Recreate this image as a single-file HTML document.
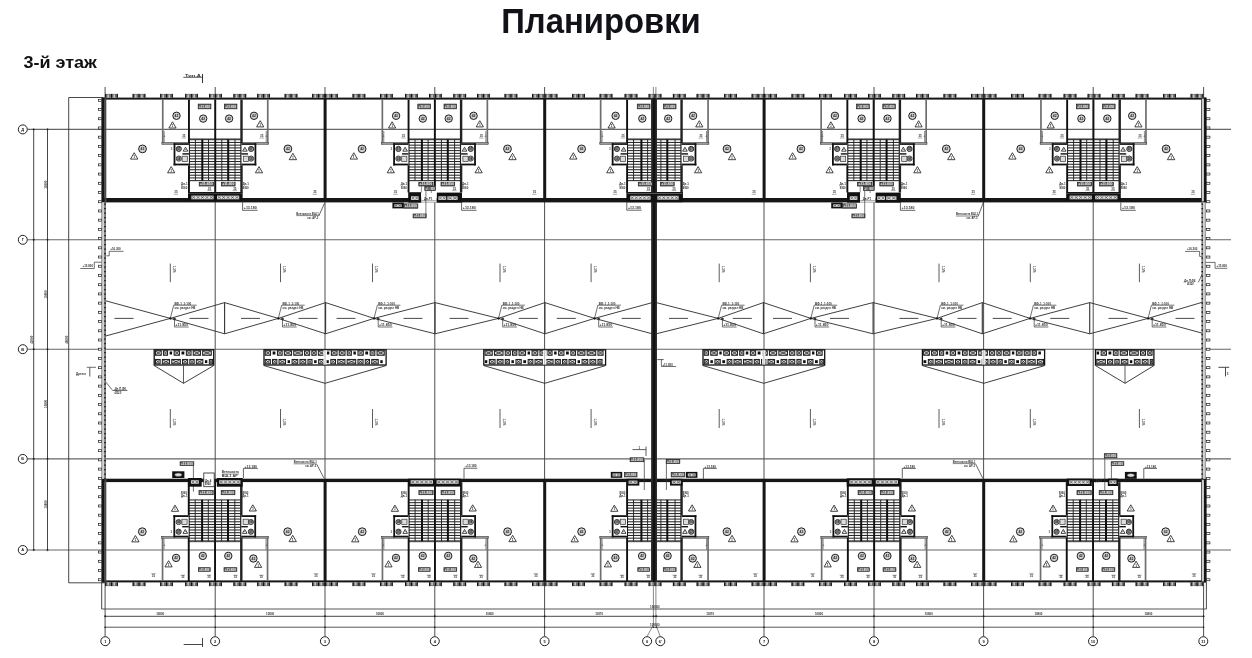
<!DOCTYPE html>
<html><head><meta charset="utf-8"><title>Планировки</title>
<style>
html,body{margin:0;padding:0;background:#fff;}
body{width:1252px;height:658px;overflow:hidden;position:relative;font-family:"Liberation Sans",sans-serif;}
svg{position:absolute;left:0;top:0;will-change:transform;}
svg text{font-family:"Liberation Sans",sans-serif;}
</style></head>
<body>
<svg width="1252" height="658" viewBox="0 0 1252 658">
<rect x="0" y="0" width="1252" height="658" fill="#fff"/>
<text x="501.2" y="33.2" font-size="35" font-weight="bold" fill="#111118" textLength="199.6" lengthAdjust="spacingAndGlyphs">Планировки</text>
<text x="23.4" y="67.8" font-size="16.6" font-weight="bold" fill="#111" textLength="73.4" lengthAdjust="spacingAndGlyphs">3-й этаж</text>
<g id="grid">
<line x1="27.6" y1="129.4" x2="1231" y2="129.4" stroke="#666" stroke-width="1.1"/>
<line x1="27.6" y1="239.8" x2="1231" y2="239.8" stroke="#666" stroke-width="1.1"/>
<line x1="27.6" y1="349.2" x2="1231" y2="349.2" stroke="#666" stroke-width="1.1"/>
<line x1="27.6" y1="458.9" x2="1231" y2="458.9" stroke="#666" stroke-width="1.1"/>
<line x1="27.6" y1="550" x2="1231" y2="550" stroke="#666" stroke-width="1.1"/>
<line x1="105.1" y1="87" x2="105.1" y2="636.4" stroke="#4e4e4e" stroke-width="1"/>
<line x1="215.2" y1="87" x2="215.2" y2="636.4" stroke="#4e4e4e" stroke-width="1"/>
<line x1="325" y1="87" x2="325" y2="636.4" stroke="#4e4e4e" stroke-width="1"/>
<line x1="434.8" y1="87" x2="434.8" y2="636.4" stroke="#4e4e4e" stroke-width="1"/>
<line x1="544.6" y1="87" x2="544.6" y2="636.4" stroke="#4e4e4e" stroke-width="1"/>
<line x1="764" y1="87" x2="764" y2="636.4" stroke="#4e4e4e" stroke-width="1"/>
<line x1="874" y1="87" x2="874" y2="636.4" stroke="#4e4e4e" stroke-width="1"/>
<line x1="983.6" y1="87" x2="983.6" y2="636.4" stroke="#4e4e4e" stroke-width="1"/>
<line x1="1093.2" y1="87" x2="1093.2" y2="636.4" stroke="#4e4e4e" stroke-width="1"/>
<line x1="1203.6" y1="87" x2="1203.6" y2="636.4" stroke="#4e4e4e" stroke-width="1"/>
<line x1="653.4" y1="87" x2="653.4" y2="625" stroke="#6a6a6a" stroke-width="0.8"/>
<line x1="655.9" y1="87" x2="655.9" y2="625" stroke="#6a6a6a" stroke-width="0.8"/>
<polyline points="653.4,625 647.1,636.4" fill="none" stroke="#6a6a6a" stroke-width="0.8"/>
<polyline points="655.9,625 660.3,636.4" fill="none" stroke="#6a6a6a" stroke-width="0.8"/>
<circle cx="105.3" cy="641.2" r="4.5" fill="#fff" stroke="#222" stroke-width="1"/>
<text x="105.3" y="642.64" font-size="4" text-anchor="middle" font-weight="bold" fill="#222">1</text>
<circle cx="215.1" cy="641.2" r="4.5" fill="#fff" stroke="#222" stroke-width="1"/>
<text x="215.1" y="642.64" font-size="4" text-anchor="middle" font-weight="bold" fill="#222">2</text>
<circle cx="324.9" cy="641.2" r="4.5" fill="#fff" stroke="#222" stroke-width="1"/>
<text x="324.9" y="642.64" font-size="4" text-anchor="middle" font-weight="bold" fill="#222">3</text>
<circle cx="434.8" cy="641.2" r="4.5" fill="#fff" stroke="#222" stroke-width="1"/>
<text x="434.8" y="642.64" font-size="4" text-anchor="middle" font-weight="bold" fill="#222">4</text>
<circle cx="544.6" cy="641.2" r="4.5" fill="#fff" stroke="#222" stroke-width="1"/>
<text x="544.6" y="642.64" font-size="4" text-anchor="middle" font-weight="bold" fill="#222">5</text>
<circle cx="647.1" cy="641.2" r="4.5" fill="#fff" stroke="#222" stroke-width="1"/>
<text x="647.1" y="642.64" font-size="4" text-anchor="middle" font-weight="bold" fill="#222">6</text>
<circle cx="660.3" cy="641.2" r="4.5" fill="#fff" stroke="#222" stroke-width="1"/>
<text x="660.3" y="642.64" font-size="4" text-anchor="middle" font-weight="bold" fill="#222">6'</text>
<circle cx="764" cy="641.2" r="4.5" fill="#fff" stroke="#222" stroke-width="1"/>
<text x="764" y="642.64" font-size="4" text-anchor="middle" font-weight="bold" fill="#222">7</text>
<circle cx="874" cy="641.2" r="4.5" fill="#fff" stroke="#222" stroke-width="1"/>
<text x="874" y="642.64" font-size="4" text-anchor="middle" font-weight="bold" fill="#222">8</text>
<circle cx="983.5" cy="641.2" r="4.5" fill="#fff" stroke="#222" stroke-width="1"/>
<text x="983.5" y="642.64" font-size="4" text-anchor="middle" font-weight="bold" fill="#222">9</text>
<circle cx="1093" cy="641.2" r="4.5" fill="#fff" stroke="#222" stroke-width="1"/>
<text x="1093" y="642.64" font-size="4" text-anchor="middle" font-weight="bold" fill="#222">10</text>
<circle cx="1203.3" cy="641.2" r="4.5" fill="#fff" stroke="#222" stroke-width="1"/>
<text x="1203.3" y="642.64" font-size="4" text-anchor="middle" font-weight="bold" fill="#222">11</text>
<circle cx="22.8" cy="129.4" r="4.5" fill="#fff" stroke="#222" stroke-width="1"/>
<text x="22.8" y="130.84" font-size="4" text-anchor="middle" font-weight="bold" fill="#222">Д</text>
<circle cx="22.8" cy="239.8" r="4.5" fill="#fff" stroke="#222" stroke-width="1"/>
<text x="22.8" y="241.24" font-size="4" text-anchor="middle" font-weight="bold" fill="#222">Г</text>
<circle cx="22.8" cy="349.2" r="4.5" fill="#fff" stroke="#222" stroke-width="1"/>
<text x="22.8" y="350.64" font-size="4" text-anchor="middle" font-weight="bold" fill="#222">В</text>
<circle cx="22.8" cy="458.9" r="4.5" fill="#fff" stroke="#222" stroke-width="1"/>
<text x="22.8" y="460.34" font-size="4" text-anchor="middle" font-weight="bold" fill="#222">Б</text>
<circle cx="22.8" cy="550" r="4.5" fill="#fff" stroke="#222" stroke-width="1"/>
<text x="22.8" y="551.44" font-size="4" text-anchor="middle" font-weight="bold" fill="#222">А</text>
<line x1="33.7" y1="129.5" x2="33.7" y2="550" stroke="#333" stroke-width="0.9"/>
<line x1="47.5" y1="129.5" x2="47.5" y2="550" stroke="#333" stroke-width="0.9"/>
<line x1="68.7" y1="97.5" x2="68.7" y2="582.8" stroke="#333" stroke-width="0.9"/>
<line x1="68.7" y1="97.5" x2="103" y2="97.5" stroke="#333" stroke-width="0.9"/>
<line x1="68.7" y1="582.8" x2="104.7" y2="582.8" stroke="#333" stroke-width="0.9"/>
<circle cx="33.7" cy="129.4" r="0.7" fill="#222" stroke="#222" stroke-width="0.6"/>
<circle cx="47.5" cy="129.4" r="0.7" fill="#222" stroke="#222" stroke-width="0.6"/>
<circle cx="33.7" cy="239.8" r="0.7" fill="#222" stroke="#222" stroke-width="0.6"/>
<circle cx="47.5" cy="239.8" r="0.7" fill="#222" stroke="#222" stroke-width="0.6"/>
<circle cx="33.7" cy="349.2" r="0.7" fill="#222" stroke="#222" stroke-width="0.6"/>
<circle cx="47.5" cy="349.2" r="0.7" fill="#222" stroke="#222" stroke-width="0.6"/>
<circle cx="33.7" cy="458.9" r="0.7" fill="#222" stroke="#222" stroke-width="0.6"/>
<circle cx="47.5" cy="458.9" r="0.7" fill="#222" stroke="#222" stroke-width="0.6"/>
<circle cx="33.7" cy="550" r="0.7" fill="#222" stroke="#222" stroke-width="0.6"/>
<circle cx="47.5" cy="550" r="0.7" fill="#222" stroke="#222" stroke-width="0.6"/>
<text x="46.6" y="184.7" font-size="2.9" text-anchor="middle" font-weight="bold" fill="#333" transform="rotate(-90 46.6 184.7)">10800</text>
<text x="46.6" y="294.45" font-size="2.9" text-anchor="middle" font-weight="bold" fill="#333" transform="rotate(-90 46.6 294.45)">10800</text>
<text x="46.6" y="403.9" font-size="2.9" text-anchor="middle" font-weight="bold" fill="#333" transform="rotate(-90 46.6 403.9)">10800</text>
<text x="46.6" y="504.4" font-size="2.9" text-anchor="middle" font-weight="bold" fill="#333" transform="rotate(-90 46.6 504.4)">10800</text>
<text x="32.8" y="339.7" font-size="2.9" text-anchor="middle" font-weight="bold" fill="#333" transform="rotate(-90 32.8 339.7)">42000</text>
<text x="67.8" y="339.7" font-size="2.9" text-anchor="middle" font-weight="bold" fill="#333" transform="rotate(-90 67.8 339.7)">48600</text>
<line x1="101.7" y1="582.3" x2="101.7" y2="609" stroke="#333" stroke-width="0.9"/>
<line x1="101.7" y1="609" x2="1206.4" y2="609" stroke="#444" stroke-width="0.9"/>
<line x1="1206.4" y1="582.3" x2="1206.4" y2="609" stroke="#333" stroke-width="0.9"/>
<line x1="105.1" y1="616.3" x2="1203.6" y2="616.3" stroke="#333" stroke-width="0.9"/>
<line x1="105.1" y1="627.2" x2="1203.6" y2="627.2" stroke="#444" stroke-width="0.9"/>
<circle cx="105.1" cy="616.3" r="0.7" fill="#222" stroke="#222" stroke-width="0.6"/>
<circle cx="105.1" cy="627.2" r="0.5" fill="#222" stroke="#222" stroke-width="0.6"/>
<circle cx="215.2" cy="616.3" r="0.7" fill="#222" stroke="#222" stroke-width="0.6"/>
<circle cx="215.2" cy="627.2" r="0.5" fill="#222" stroke="#222" stroke-width="0.6"/>
<circle cx="325" cy="616.3" r="0.7" fill="#222" stroke="#222" stroke-width="0.6"/>
<circle cx="325" cy="627.2" r="0.5" fill="#222" stroke="#222" stroke-width="0.6"/>
<circle cx="434.8" cy="616.3" r="0.7" fill="#222" stroke="#222" stroke-width="0.6"/>
<circle cx="434.8" cy="627.2" r="0.5" fill="#222" stroke="#222" stroke-width="0.6"/>
<circle cx="544.6" cy="616.3" r="0.7" fill="#222" stroke="#222" stroke-width="0.6"/>
<circle cx="544.6" cy="627.2" r="0.5" fill="#222" stroke="#222" stroke-width="0.6"/>
<circle cx="653.6" cy="616.3" r="0.7" fill="#222" stroke="#222" stroke-width="0.6"/>
<circle cx="653.6" cy="627.2" r="0.5" fill="#222" stroke="#222" stroke-width="0.6"/>
<circle cx="656.2" cy="616.3" r="0.7" fill="#222" stroke="#222" stroke-width="0.6"/>
<circle cx="656.2" cy="627.2" r="0.5" fill="#222" stroke="#222" stroke-width="0.6"/>
<circle cx="764" cy="616.3" r="0.7" fill="#222" stroke="#222" stroke-width="0.6"/>
<circle cx="764" cy="627.2" r="0.5" fill="#222" stroke="#222" stroke-width="0.6"/>
<circle cx="874" cy="616.3" r="0.7" fill="#222" stroke="#222" stroke-width="0.6"/>
<circle cx="874" cy="627.2" r="0.5" fill="#222" stroke="#222" stroke-width="0.6"/>
<circle cx="983.6" cy="616.3" r="0.7" fill="#222" stroke="#222" stroke-width="0.6"/>
<circle cx="983.6" cy="627.2" r="0.5" fill="#222" stroke="#222" stroke-width="0.6"/>
<circle cx="1093.2" cy="616.3" r="0.7" fill="#222" stroke="#222" stroke-width="0.6"/>
<circle cx="1093.2" cy="627.2" r="0.5" fill="#222" stroke="#222" stroke-width="0.6"/>
<circle cx="1203.6" cy="616.3" r="0.7" fill="#222" stroke="#222" stroke-width="0.6"/>
<circle cx="1203.6" cy="627.2" r="0.5" fill="#222" stroke="#222" stroke-width="0.6"/>
<text x="160.15" y="615.3" font-size="2.9" text-anchor="middle" font-weight="bold" fill="#333">10800</text>
<text x="270.1" y="615.3" font-size="2.9" text-anchor="middle" font-weight="bold" fill="#333">10800</text>
<text x="379.9" y="615.3" font-size="2.9" text-anchor="middle" font-weight="bold" fill="#333">10800</text>
<text x="489.7" y="615.3" font-size="2.9" text-anchor="middle" font-weight="bold" fill="#333">10800</text>
<text x="599.1" y="615.3" font-size="2.9" text-anchor="middle" font-weight="bold" fill="#333">11870</text>
<text x="710.1" y="615.3" font-size="2.9" text-anchor="middle" font-weight="bold" fill="#333">11870</text>
<text x="819" y="615.3" font-size="2.9" text-anchor="middle" font-weight="bold" fill="#333">10800</text>
<text x="928.8" y="615.3" font-size="2.9" text-anchor="middle" font-weight="bold" fill="#333">10800</text>
<text x="1038.4" y="615.3" font-size="2.9" text-anchor="middle" font-weight="bold" fill="#333">10800</text>
<text x="1148.4" y="615.3" font-size="2.9" text-anchor="middle" font-weight="bold" fill="#333">10800</text>
<text x="654.9" y="608" font-size="2.9" text-anchor="middle" font-weight="bold" fill="#333">108000</text>
<text x="654.9" y="626.2" font-size="2.9" text-anchor="middle" font-weight="bold" fill="#333">108000</text>
<line x1="183.3" y1="77.3" x2="202.5" y2="77.3" stroke="#333" stroke-width="0.8"/>
<line x1="202.5" y1="74" x2="202.5" y2="83" stroke="#333" stroke-width="1"/>
<text x="184.9" y="76.6" font-size="3.2" text-anchor="start" font-weight="bold" fill="#333" textLength="16" lengthAdjust="spacingAndGlyphs">Тип.А</text>
<line x1="183.7" y1="644.5" x2="202.5" y2="644.5" stroke="#333" stroke-width="0.9"/>
<line x1="202.5" y1="638" x2="202.5" y2="647" stroke="#333" stroke-width="0.9"/>
</g>
<g id="roof">
<polyline points="105.7,300.8 170.3,318.4 224.6,333.8" fill="none" stroke="#2a2a2a" stroke-width="0.9"/>
<polyline points="105.7,336 170.3,318.4 224.6,302.6" fill="none" stroke="#2a2a2a" stroke-width="0.9"/>
<polyline points="224.6,302.6 278.3,318.4 325.6,333.8" fill="none" stroke="#2a2a2a" stroke-width="0.9"/>
<polyline points="224.6,333.8 278.3,318.4 325.6,302.6" fill="none" stroke="#2a2a2a" stroke-width="0.9"/>
<polyline points="325.6,302.6 374,318.4 435,333.8" fill="none" stroke="#2a2a2a" stroke-width="0.9"/>
<polyline points="325.6,333.8 374,318.4 435,302.6" fill="none" stroke="#2a2a2a" stroke-width="0.9"/>
<polyline points="435,302.6 498.5,318.4 544.9,333.8" fill="none" stroke="#2a2a2a" stroke-width="0.9"/>
<polyline points="435,333.8 498.5,318.4 544.9,302.6" fill="none" stroke="#2a2a2a" stroke-width="0.9"/>
<polyline points="544.9,302.6 594.5,318.4 652.3,333.8" fill="none" stroke="#2a2a2a" stroke-width="0.9"/>
<polyline points="544.9,333.8 594.5,318.4 652.3,302.6" fill="none" stroke="#2a2a2a" stroke-width="0.9"/>
<polyline points="656.2,302.6 718.2,318.4 763.4,333.8" fill="none" stroke="#2a2a2a" stroke-width="0.9"/>
<polyline points="656.2,333.8 718.2,318.4 763.4,302.6" fill="none" stroke="#2a2a2a" stroke-width="0.9"/>
<polyline points="763.4,302.6 810.8,318.4 873.1,333.8" fill="none" stroke="#2a2a2a" stroke-width="0.9"/>
<polyline points="763.4,333.8 810.8,318.4 873.1,302.6" fill="none" stroke="#2a2a2a" stroke-width="0.9"/>
<polyline points="873.1,302.6 937,318.4 982.3,333.8" fill="none" stroke="#2a2a2a" stroke-width="0.9"/>
<polyline points="873.1,333.8 937,318.4 982.3,302.6" fill="none" stroke="#2a2a2a" stroke-width="0.9"/>
<polyline points="982.3,302.6 1030,318.4 1089.7,333.8" fill="none" stroke="#2a2a2a" stroke-width="0.9"/>
<polyline points="982.3,333.8 1030,318.4 1089.7,302.6" fill="none" stroke="#2a2a2a" stroke-width="0.9"/>
<polyline points="1089.7,302.6 1148,318.4 1203.8,333.6" fill="none" stroke="#2a2a2a" stroke-width="0.9"/>
<polyline points="1089.7,333.8 1148,318.4 1203.8,301.8" fill="none" stroke="#2a2a2a" stroke-width="0.9"/>
<line x1="224.6" y1="302.6" x2="224.6" y2="333.8" stroke="#333" stroke-width="1.1"/>
<line x1="325.6" y1="302.6" x2="325.6" y2="333.8" stroke="#333" stroke-width="1.1"/>
<line x1="435" y1="302.6" x2="435" y2="333.8" stroke="#333" stroke-width="1.1"/>
<line x1="544.9" y1="302.6" x2="544.9" y2="333.8" stroke="#333" stroke-width="1.1"/>
<line x1="763.4" y1="302.6" x2="763.4" y2="333.8" stroke="#333" stroke-width="1.1"/>
<line x1="873.1" y1="302.6" x2="873.1" y2="333.8" stroke="#333" stroke-width="1.1"/>
<line x1="982.3" y1="302.6" x2="982.3" y2="333.8" stroke="#333" stroke-width="1.1"/>
<line x1="1089.7" y1="302.6" x2="1089.7" y2="333.8" stroke="#333" stroke-width="1.1"/>
<line x1="114.5" y1="318.4" x2="133.5" y2="318.4" stroke="#333" stroke-width="0.9"/>
<line x1="189.5" y1="318.4" x2="208.5" y2="318.4" stroke="#333" stroke-width="0.9"/>
<line x1="241" y1="318.4" x2="260" y2="318.4" stroke="#333" stroke-width="0.9"/>
<line x1="298.5" y1="318.4" x2="317.5" y2="318.4" stroke="#333" stroke-width="0.9"/>
<line x1="336.5" y1="318.4" x2="355.5" y2="318.4" stroke="#333" stroke-width="0.9"/>
<line x1="403.5" y1="318.4" x2="422.5" y2="318.4" stroke="#333" stroke-width="0.9"/>
<line x1="449.5" y1="318.4" x2="468.5" y2="318.4" stroke="#333" stroke-width="0.9"/>
<line x1="518.8" y1="318.4" x2="537.8" y2="318.4" stroke="#333" stroke-width="0.9"/>
<line x1="556.8" y1="318.4" x2="575.8" y2="318.4" stroke="#333" stroke-width="0.9"/>
<line x1="621.7" y1="318.4" x2="640.7" y2="318.4" stroke="#333" stroke-width="0.9"/>
<line x1="669" y1="318.4" x2="688" y2="318.4" stroke="#333" stroke-width="0.9"/>
<line x1="732.8" y1="318.4" x2="751.8" y2="318.4" stroke="#333" stroke-width="0.9"/>
<line x1="773" y1="318.4" x2="792" y2="318.4" stroke="#333" stroke-width="0.9"/>
<line x1="830" y1="318.4" x2="849" y2="318.4" stroke="#333" stroke-width="0.9"/>
<line x1="899.4" y1="318.4" x2="918.4" y2="318.4" stroke="#333" stroke-width="0.9"/>
<line x1="957.5" y1="318.4" x2="976.5" y2="318.4" stroke="#333" stroke-width="0.9"/>
<line x1="992.7" y1="318.4" x2="1011.7" y2="318.4" stroke="#333" stroke-width="0.9"/>
<line x1="1050.3" y1="318.4" x2="1069.3" y2="318.4" stroke="#333" stroke-width="0.9"/>
<line x1="1108.5" y1="318.4" x2="1127.5" y2="318.4" stroke="#333" stroke-width="0.9"/>
<line x1="1175.5" y1="318.4" x2="1194.5" y2="318.4" stroke="#333" stroke-width="0.9"/>
<circle cx="170.3" cy="318.4" r="0.9" fill="#111" stroke="#111" stroke-width="0.6"/>
<polyline points="170.3,318.4 173.7,305.2 196.7,305.2" fill="none" stroke="#333" stroke-width="0.7"/>
<text x="174.5" y="304.6" font-size="3" text-anchor="start" font-weight="bold" fill="#333" textLength="16.8" lengthAdjust="spacingAndGlyphs">ВФ-1 ,1:100</text>
<text x="174.5" y="308.9" font-size="3" text-anchor="start" font-weight="bold" fill="#333" textLength="21" lengthAdjust="spacingAndGlyphs">см. раздел НВ</text>
<circle cx="174.5" cy="318.9" r="1.1" fill="#333" stroke="#333" stroke-width="0.5"/>
<polyline points="174.5,318.9 174.5,327 188.7,327" fill="none" stroke="#333" stroke-width="0.7"/>
<text x="175.3" y="326.4" font-size="3" text-anchor="start" font-weight="bold" fill="#333" textLength="12.8" lengthAdjust="spacingAndGlyphs">+11.850</text>
<circle cx="278.3" cy="318.4" r="0.9" fill="#111" stroke="#111" stroke-width="0.6"/>
<polyline points="278.3,318.4 281.7,305.2 304.7,305.2" fill="none" stroke="#333" stroke-width="0.7"/>
<text x="282.5" y="304.6" font-size="3" text-anchor="start" font-weight="bold" fill="#333" textLength="16.8" lengthAdjust="spacingAndGlyphs">ВФ-1 ,1:100</text>
<text x="282.5" y="308.9" font-size="3" text-anchor="start" font-weight="bold" fill="#333" textLength="21" lengthAdjust="spacingAndGlyphs">см. раздел НВ</text>
<circle cx="282.5" cy="318.9" r="1.1" fill="#333" stroke="#333" stroke-width="0.5"/>
<polyline points="282.5,318.9 282.5,327 296.7,327" fill="none" stroke="#333" stroke-width="0.7"/>
<text x="283.3" y="326.4" font-size="3" text-anchor="start" font-weight="bold" fill="#333" textLength="12.8" lengthAdjust="spacingAndGlyphs">+11.850</text>
<circle cx="374" cy="318.4" r="0.9" fill="#111" stroke="#111" stroke-width="0.6"/>
<polyline points="374,318.4 377.4,305.2 400.4,305.2" fill="none" stroke="#333" stroke-width="0.7"/>
<text x="378.2" y="304.6" font-size="3" text-anchor="start" font-weight="bold" fill="#333" textLength="16.8" lengthAdjust="spacingAndGlyphs">ВФ-1 ,1:100</text>
<text x="378.2" y="308.9" font-size="3" text-anchor="start" font-weight="bold" fill="#333" textLength="21" lengthAdjust="spacingAndGlyphs">см. раздел НВ</text>
<circle cx="378.2" cy="318.9" r="1.1" fill="#333" stroke="#333" stroke-width="0.5"/>
<polyline points="378.2,318.9 378.2,327 392.4,327" fill="none" stroke="#333" stroke-width="0.7"/>
<text x="379" y="326.4" font-size="3" text-anchor="start" font-weight="bold" fill="#333" textLength="12.8" lengthAdjust="spacingAndGlyphs">+11.850</text>
<circle cx="498.5" cy="318.4" r="0.9" fill="#111" stroke="#111" stroke-width="0.6"/>
<polyline points="498.5,318.4 501.9,305.2 524.9,305.2" fill="none" stroke="#333" stroke-width="0.7"/>
<text x="502.7" y="304.6" font-size="3" text-anchor="start" font-weight="bold" fill="#333" textLength="16.8" lengthAdjust="spacingAndGlyphs">ВФ-1 ,1:100</text>
<text x="502.7" y="308.9" font-size="3" text-anchor="start" font-weight="bold" fill="#333" textLength="21" lengthAdjust="spacingAndGlyphs">см. раздел НВ</text>
<circle cx="502.7" cy="318.9" r="1.1" fill="#333" stroke="#333" stroke-width="0.5"/>
<polyline points="502.7,318.9 502.7,327 516.9,327" fill="none" stroke="#333" stroke-width="0.7"/>
<text x="503.5" y="326.4" font-size="3" text-anchor="start" font-weight="bold" fill="#333" textLength="12.8" lengthAdjust="spacingAndGlyphs">+11.850</text>
<circle cx="594.5" cy="318.4" r="0.9" fill="#111" stroke="#111" stroke-width="0.6"/>
<polyline points="594.5,318.4 597.9,305.2 620.9,305.2" fill="none" stroke="#333" stroke-width="0.7"/>
<text x="598.7" y="304.6" font-size="3" text-anchor="start" font-weight="bold" fill="#333" textLength="16.8" lengthAdjust="spacingAndGlyphs">ВФ-1 ,1:100</text>
<text x="598.7" y="308.9" font-size="3" text-anchor="start" font-weight="bold" fill="#333" textLength="21" lengthAdjust="spacingAndGlyphs">см. раздел НВ</text>
<circle cx="598.7" cy="318.9" r="1.1" fill="#333" stroke="#333" stroke-width="0.5"/>
<polyline points="598.7,318.9 598.7,327 612.9,327" fill="none" stroke="#333" stroke-width="0.7"/>
<text x="599.5" y="326.4" font-size="3" text-anchor="start" font-weight="bold" fill="#333" textLength="12.8" lengthAdjust="spacingAndGlyphs">+11.850</text>
<circle cx="718.2" cy="318.4" r="0.9" fill="#111" stroke="#111" stroke-width="0.6"/>
<polyline points="718.2,318.4 721.6,305.2 744.6,305.2" fill="none" stroke="#333" stroke-width="0.7"/>
<text x="722.4" y="304.6" font-size="3" text-anchor="start" font-weight="bold" fill="#333" textLength="16.8" lengthAdjust="spacingAndGlyphs">ВФ-1 ,1:100</text>
<text x="722.4" y="308.9" font-size="3" text-anchor="start" font-weight="bold" fill="#333" textLength="21" lengthAdjust="spacingAndGlyphs">см. раздел НВ</text>
<circle cx="722.4" cy="318.9" r="1.1" fill="#333" stroke="#333" stroke-width="0.5"/>
<polyline points="722.4,318.9 722.4,327 736.6,327" fill="none" stroke="#333" stroke-width="0.7"/>
<text x="723.2" y="326.4" font-size="3" text-anchor="start" font-weight="bold" fill="#333" textLength="12.8" lengthAdjust="spacingAndGlyphs">+11.850</text>
<circle cx="810.8" cy="318.4" r="0.9" fill="#111" stroke="#111" stroke-width="0.6"/>
<polyline points="810.8,318.4 814.2,305.2 837.2,305.2" fill="none" stroke="#333" stroke-width="0.7"/>
<text x="815" y="304.6" font-size="3" text-anchor="start" font-weight="bold" fill="#333" textLength="16.8" lengthAdjust="spacingAndGlyphs">ВФ-1 ,1:100</text>
<text x="815" y="308.9" font-size="3" text-anchor="start" font-weight="bold" fill="#333" textLength="21" lengthAdjust="spacingAndGlyphs">см. раздел НВ</text>
<circle cx="815" cy="318.9" r="1.1" fill="#333" stroke="#333" stroke-width="0.5"/>
<polyline points="815,318.9 815,327 829.2,327" fill="none" stroke="#333" stroke-width="0.7"/>
<text x="815.8" y="326.4" font-size="3" text-anchor="start" font-weight="bold" fill="#333" textLength="12.8" lengthAdjust="spacingAndGlyphs">+11.850</text>
<circle cx="937" cy="318.4" r="0.9" fill="#111" stroke="#111" stroke-width="0.6"/>
<polyline points="937,318.4 940.4,305.2 963.4,305.2" fill="none" stroke="#333" stroke-width="0.7"/>
<text x="941.2" y="304.6" font-size="3" text-anchor="start" font-weight="bold" fill="#333" textLength="16.8" lengthAdjust="spacingAndGlyphs">ВФ-1 ,1:100</text>
<text x="941.2" y="308.9" font-size="3" text-anchor="start" font-weight="bold" fill="#333" textLength="21" lengthAdjust="spacingAndGlyphs">см. раздел НВ</text>
<circle cx="941.2" cy="318.9" r="1.1" fill="#333" stroke="#333" stroke-width="0.5"/>
<polyline points="941.2,318.9 941.2,327 955.4,327" fill="none" stroke="#333" stroke-width="0.7"/>
<text x="942" y="326.4" font-size="3" text-anchor="start" font-weight="bold" fill="#333" textLength="12.8" lengthAdjust="spacingAndGlyphs">+11.850</text>
<circle cx="1030" cy="318.4" r="0.9" fill="#111" stroke="#111" stroke-width="0.6"/>
<polyline points="1030,318.4 1033.4,305.2 1056.4,305.2" fill="none" stroke="#333" stroke-width="0.7"/>
<text x="1034.2" y="304.6" font-size="3" text-anchor="start" font-weight="bold" fill="#333" textLength="16.8" lengthAdjust="spacingAndGlyphs">ВФ-1 ,1:100</text>
<text x="1034.2" y="308.9" font-size="3" text-anchor="start" font-weight="bold" fill="#333" textLength="21" lengthAdjust="spacingAndGlyphs">см. раздел НВ</text>
<circle cx="1034.2" cy="318.9" r="1.1" fill="#333" stroke="#333" stroke-width="0.5"/>
<polyline points="1034.2,318.9 1034.2,327 1048.4,327" fill="none" stroke="#333" stroke-width="0.7"/>
<text x="1035" y="326.4" font-size="3" text-anchor="start" font-weight="bold" fill="#333" textLength="12.8" lengthAdjust="spacingAndGlyphs">+11.850</text>
<circle cx="1148" cy="318.4" r="0.9" fill="#111" stroke="#111" stroke-width="0.6"/>
<polyline points="1148,318.4 1151.4,305.2 1174.4,305.2" fill="none" stroke="#333" stroke-width="0.7"/>
<text x="1152.2" y="304.6" font-size="3" text-anchor="start" font-weight="bold" fill="#333" textLength="16.8" lengthAdjust="spacingAndGlyphs">ВФ-1 ,1:100</text>
<text x="1152.2" y="308.9" font-size="3" text-anchor="start" font-weight="bold" fill="#333" textLength="21" lengthAdjust="spacingAndGlyphs">см. раздел НВ</text>
<circle cx="1152.2" cy="318.9" r="1.1" fill="#333" stroke="#333" stroke-width="0.5"/>
<polyline points="1152.2,318.9 1152.2,327 1166.4,327" fill="none" stroke="#333" stroke-width="0.7"/>
<text x="1153" y="326.4" font-size="3" text-anchor="start" font-weight="bold" fill="#333" textLength="12.8" lengthAdjust="spacingAndGlyphs">+11.850</text>
</g>
<g id="sky">
<rect x="154.2" y="349.8" width="59.5" height="15.2" fill="#fff" stroke="#111" stroke-width="1.3"/>
<rect x="155.45" y="350.75" width="5.8" height="4.5" fill="#dcdcdc" stroke="#1a1a1a" stroke-width="1"/>
<line x1="155.9" y1="351.2" x2="160.8" y2="354.8" stroke="#2a2a2a" stroke-width="0.8"/>
<line x1="155.9" y1="354.8" x2="160.8" y2="351.2" stroke="#2a2a2a" stroke-width="0.8"/>
<rect x="163.45" y="350.75" width="4.1" height="4.5" fill="#dcdcdc" stroke="#1a1a1a" stroke-width="1"/>
<line x1="163.9" y1="351.2" x2="167.1" y2="354.8" stroke="#2a2a2a" stroke-width="0.8"/>
<line x1="163.9" y1="354.8" x2="167.1" y2="351.2" stroke="#2a2a2a" stroke-width="0.8"/>
<rect x="169.6" y="351.5" width="2.5" height="3" fill="#111"/>
<rect x="174.15" y="350.75" width="5.3" height="4.5" fill="#dcdcdc" stroke="#1a1a1a" stroke-width="1"/>
<line x1="174.6" y1="351.2" x2="179" y2="354.8" stroke="#2a2a2a" stroke-width="0.8"/>
<line x1="174.6" y1="354.8" x2="179" y2="351.2" stroke="#2a2a2a" stroke-width="0.8"/>
<rect x="181.5" y="351.5" width="2.8" height="3" fill="#111"/>
<rect x="186.35" y="350.75" width="4.7" height="4.5" fill="#dcdcdc" stroke="#1a1a1a" stroke-width="1"/>
<line x1="186.8" y1="351.2" x2="190.6" y2="354.8" stroke="#2a2a2a" stroke-width="0.8"/>
<line x1="186.8" y1="354.8" x2="190.6" y2="351.2" stroke="#2a2a2a" stroke-width="0.8"/>
<rect x="193.25" y="350.75" width="7.2" height="4.5" fill="#dcdcdc" stroke="#1a1a1a" stroke-width="1"/>
<line x1="193.7" y1="351.2" x2="200" y2="354.8" stroke="#2a2a2a" stroke-width="0.8"/>
<line x1="193.7" y1="354.8" x2="200" y2="351.2" stroke="#2a2a2a" stroke-width="0.8"/>
<rect x="202.65" y="350.75" width="8.6" height="4.5" fill="#dcdcdc" stroke="#1a1a1a" stroke-width="1"/>
<line x1="203.1" y1="351.2" x2="210.8" y2="354.8" stroke="#2a2a2a" stroke-width="0.8"/>
<line x1="203.1" y1="354.8" x2="210.8" y2="351.2" stroke="#2a2a2a" stroke-width="0.8"/>
<rect x="155.45" y="359.45" width="4.7" height="4.4" fill="#dcdcdc" stroke="#1a1a1a" stroke-width="1"/>
<line x1="155.9" y1="359.9" x2="159.7" y2="363.4" stroke="#2a2a2a" stroke-width="0.8"/>
<line x1="155.9" y1="363.4" x2="159.7" y2="359.9" stroke="#2a2a2a" stroke-width="0.8"/>
<rect x="162.35" y="359.45" width="7.2" height="4.4" fill="#dcdcdc" stroke="#1a1a1a" stroke-width="1"/>
<line x1="162.8" y1="359.9" x2="169.1" y2="363.4" stroke="#2a2a2a" stroke-width="0.8"/>
<line x1="162.8" y1="363.4" x2="169.1" y2="359.9" stroke="#2a2a2a" stroke-width="0.8"/>
<rect x="171.75" y="359.45" width="8.6" height="4.4" fill="#dcdcdc" stroke="#1a1a1a" stroke-width="1"/>
<line x1="172.2" y1="359.9" x2="179.9" y2="363.4" stroke="#2a2a2a" stroke-width="0.8"/>
<line x1="172.2" y1="363.4" x2="179.9" y2="359.9" stroke="#2a2a2a" stroke-width="0.8"/>
<rect x="182.55" y="359.45" width="5.1" height="4.4" fill="#dcdcdc" stroke="#1a1a1a" stroke-width="1"/>
<line x1="183" y1="359.9" x2="187.2" y2="363.4" stroke="#2a2a2a" stroke-width="0.8"/>
<line x1="183" y1="363.4" x2="187.2" y2="359.9" stroke="#2a2a2a" stroke-width="0.8"/>
<rect x="189.85" y="359.45" width="4.3" height="4.4" fill="#dcdcdc" stroke="#1a1a1a" stroke-width="1"/>
<line x1="190.3" y1="359.9" x2="193.7" y2="363.4" stroke="#2a2a2a" stroke-width="0.8"/>
<line x1="190.3" y1="363.4" x2="193.7" y2="359.9" stroke="#2a2a2a" stroke-width="0.8"/>
<rect x="196.35" y="359.45" width="6.5" height="4.4" fill="#dcdcdc" stroke="#1a1a1a" stroke-width="1"/>
<line x1="196.8" y1="359.9" x2="202.4" y2="363.4" stroke="#2a2a2a" stroke-width="0.8"/>
<line x1="196.8" y1="363.4" x2="202.4" y2="359.9" stroke="#2a2a2a" stroke-width="0.8"/>
<rect x="204.9" y="360.2" width="2.4" height="2.9" fill="#111"/>
<rect x="209.35" y="359.45" width="3.3" height="4.4" fill="#dcdcdc" stroke="#1a1a1a" stroke-width="1"/>
<line x1="209.8" y1="359.9" x2="212.2" y2="363.4" stroke="#2a2a2a" stroke-width="0.8"/>
<line x1="209.8" y1="363.4" x2="212.2" y2="359.9" stroke="#2a2a2a" stroke-width="0.8"/>
<polyline points="154.2,365.6 183.5,383.3 213.7,365.6" fill="none" stroke="#2a2a2a" stroke-width="0.9"/>
<line x1="183.5" y1="365.6" x2="183.5" y2="383.3" stroke="#333" stroke-width="0.8"/>
<rect x="264" y="349.8" width="122.1" height="15.2" fill="#fff" stroke="#111" stroke-width="1.3"/>
<rect x="265.25" y="350.75" width="5.3" height="4.5" fill="#dcdcdc" stroke="#1a1a1a" stroke-width="1"/>
<line x1="265.7" y1="351.2" x2="270.1" y2="354.8" stroke="#2a2a2a" stroke-width="0.8"/>
<line x1="265.7" y1="354.8" x2="270.1" y2="351.2" stroke="#2a2a2a" stroke-width="0.8"/>
<rect x="272.6" y="351.5" width="2.8" height="3" fill="#111"/>
<rect x="277.45" y="350.75" width="4.7" height="4.5" fill="#dcdcdc" stroke="#1a1a1a" stroke-width="1"/>
<line x1="277.9" y1="351.2" x2="281.7" y2="354.8" stroke="#2a2a2a" stroke-width="0.8"/>
<line x1="277.9" y1="354.8" x2="281.7" y2="351.2" stroke="#2a2a2a" stroke-width="0.8"/>
<rect x="284.35" y="350.75" width="7.2" height="4.5" fill="#dcdcdc" stroke="#1a1a1a" stroke-width="1"/>
<line x1="284.8" y1="351.2" x2="291.1" y2="354.8" stroke="#2a2a2a" stroke-width="0.8"/>
<line x1="284.8" y1="354.8" x2="291.1" y2="351.2" stroke="#2a2a2a" stroke-width="0.8"/>
<rect x="293.75" y="350.75" width="8.6" height="4.5" fill="#dcdcdc" stroke="#1a1a1a" stroke-width="1"/>
<line x1="294.2" y1="351.2" x2="301.9" y2="354.8" stroke="#2a2a2a" stroke-width="0.8"/>
<line x1="294.2" y1="354.8" x2="301.9" y2="351.2" stroke="#2a2a2a" stroke-width="0.8"/>
<rect x="304.55" y="350.75" width="5.1" height="4.5" fill="#dcdcdc" stroke="#1a1a1a" stroke-width="1"/>
<line x1="305" y1="351.2" x2="309.2" y2="354.8" stroke="#2a2a2a" stroke-width="0.8"/>
<line x1="305" y1="354.8" x2="309.2" y2="351.2" stroke="#2a2a2a" stroke-width="0.8"/>
<rect x="311.85" y="350.75" width="4.3" height="4.5" fill="#dcdcdc" stroke="#1a1a1a" stroke-width="1"/>
<line x1="312.3" y1="351.2" x2="315.7" y2="354.8" stroke="#2a2a2a" stroke-width="0.8"/>
<line x1="312.3" y1="354.8" x2="315.7" y2="351.2" stroke="#2a2a2a" stroke-width="0.8"/>
<rect x="318.35" y="350.75" width="6.5" height="4.5" fill="#dcdcdc" stroke="#1a1a1a" stroke-width="1"/>
<line x1="318.8" y1="351.2" x2="324.4" y2="354.8" stroke="#2a2a2a" stroke-width="0.8"/>
<line x1="318.8" y1="354.8" x2="324.4" y2="351.2" stroke="#2a2a2a" stroke-width="0.8"/>
<rect x="326.9" y="351.5" width="2.4" height="3" fill="#111"/>
<rect x="331.35" y="350.75" width="5.7" height="4.5" fill="#dcdcdc" stroke="#1a1a1a" stroke-width="1"/>
<line x1="331.8" y1="351.2" x2="336.6" y2="354.8" stroke="#2a2a2a" stroke-width="0.8"/>
<line x1="331.8" y1="354.8" x2="336.6" y2="351.2" stroke="#2a2a2a" stroke-width="0.8"/>
<rect x="339.25" y="350.75" width="5.8" height="4.5" fill="#dcdcdc" stroke="#1a1a1a" stroke-width="1"/>
<line x1="339.7" y1="351.2" x2="344.6" y2="354.8" stroke="#2a2a2a" stroke-width="0.8"/>
<line x1="339.7" y1="354.8" x2="344.6" y2="351.2" stroke="#2a2a2a" stroke-width="0.8"/>
<rect x="347.25" y="350.75" width="4.1" height="4.5" fill="#dcdcdc" stroke="#1a1a1a" stroke-width="1"/>
<line x1="347.7" y1="351.2" x2="350.9" y2="354.8" stroke="#2a2a2a" stroke-width="0.8"/>
<line x1="347.7" y1="354.8" x2="350.9" y2="351.2" stroke="#2a2a2a" stroke-width="0.8"/>
<rect x="353.4" y="351.5" width="2.5" height="3" fill="#111"/>
<rect x="357.95" y="350.75" width="5.3" height="4.5" fill="#dcdcdc" stroke="#1a1a1a" stroke-width="1"/>
<line x1="358.4" y1="351.2" x2="362.8" y2="354.8" stroke="#2a2a2a" stroke-width="0.8"/>
<line x1="358.4" y1="354.8" x2="362.8" y2="351.2" stroke="#2a2a2a" stroke-width="0.8"/>
<rect x="365.3" y="351.5" width="2.8" height="3" fill="#111"/>
<rect x="370.15" y="350.75" width="4.7" height="4.5" fill="#dcdcdc" stroke="#1a1a1a" stroke-width="1"/>
<line x1="370.6" y1="351.2" x2="374.4" y2="354.8" stroke="#2a2a2a" stroke-width="0.8"/>
<line x1="370.6" y1="354.8" x2="374.4" y2="351.2" stroke="#2a2a2a" stroke-width="0.8"/>
<rect x="377.05" y="350.75" width="7.2" height="4.5" fill="#dcdcdc" stroke="#1a1a1a" stroke-width="1"/>
<line x1="377.5" y1="351.2" x2="383.8" y2="354.8" stroke="#2a2a2a" stroke-width="0.8"/>
<line x1="377.5" y1="354.8" x2="383.8" y2="351.2" stroke="#2a2a2a" stroke-width="0.8"/>
<rect x="265.25" y="359.45" width="5.1" height="4.4" fill="#dcdcdc" stroke="#1a1a1a" stroke-width="1"/>
<line x1="265.7" y1="359.9" x2="269.9" y2="363.4" stroke="#2a2a2a" stroke-width="0.8"/>
<line x1="265.7" y1="363.4" x2="269.9" y2="359.9" stroke="#2a2a2a" stroke-width="0.8"/>
<rect x="272.55" y="359.45" width="4.3" height="4.4" fill="#dcdcdc" stroke="#1a1a1a" stroke-width="1"/>
<line x1="273" y1="359.9" x2="276.4" y2="363.4" stroke="#2a2a2a" stroke-width="0.8"/>
<line x1="273" y1="363.4" x2="276.4" y2="359.9" stroke="#2a2a2a" stroke-width="0.8"/>
<rect x="279.05" y="359.45" width="6.5" height="4.4" fill="#dcdcdc" stroke="#1a1a1a" stroke-width="1"/>
<line x1="279.5" y1="359.9" x2="285.1" y2="363.4" stroke="#2a2a2a" stroke-width="0.8"/>
<line x1="279.5" y1="363.4" x2="285.1" y2="359.9" stroke="#2a2a2a" stroke-width="0.8"/>
<rect x="287.6" y="360.2" width="2.4" height="2.9" fill="#111"/>
<rect x="292.05" y="359.45" width="5.7" height="4.4" fill="#dcdcdc" stroke="#1a1a1a" stroke-width="1"/>
<line x1="292.5" y1="359.9" x2="297.3" y2="363.4" stroke="#2a2a2a" stroke-width="0.8"/>
<line x1="292.5" y1="363.4" x2="297.3" y2="359.9" stroke="#2a2a2a" stroke-width="0.8"/>
<rect x="299.95" y="359.45" width="5.8" height="4.4" fill="#dcdcdc" stroke="#1a1a1a" stroke-width="1"/>
<line x1="300.4" y1="359.9" x2="305.3" y2="363.4" stroke="#2a2a2a" stroke-width="0.8"/>
<line x1="300.4" y1="363.4" x2="305.3" y2="359.9" stroke="#2a2a2a" stroke-width="0.8"/>
<rect x="307.95" y="359.45" width="4.1" height="4.4" fill="#dcdcdc" stroke="#1a1a1a" stroke-width="1"/>
<line x1="308.4" y1="359.9" x2="311.6" y2="363.4" stroke="#2a2a2a" stroke-width="0.8"/>
<line x1="308.4" y1="363.4" x2="311.6" y2="359.9" stroke="#2a2a2a" stroke-width="0.8"/>
<rect x="314.1" y="360.2" width="2.5" height="2.9" fill="#111"/>
<rect x="318.65" y="359.45" width="5.3" height="4.4" fill="#dcdcdc" stroke="#1a1a1a" stroke-width="1"/>
<line x1="319.1" y1="359.9" x2="323.5" y2="363.4" stroke="#2a2a2a" stroke-width="0.8"/>
<line x1="319.1" y1="363.4" x2="323.5" y2="359.9" stroke="#2a2a2a" stroke-width="0.8"/>
<rect x="326" y="360.2" width="2.8" height="2.9" fill="#111"/>
<rect x="330.85" y="359.45" width="4.7" height="4.4" fill="#dcdcdc" stroke="#1a1a1a" stroke-width="1"/>
<line x1="331.3" y1="359.9" x2="335.1" y2="363.4" stroke="#2a2a2a" stroke-width="0.8"/>
<line x1="331.3" y1="363.4" x2="335.1" y2="359.9" stroke="#2a2a2a" stroke-width="0.8"/>
<rect x="337.75" y="359.45" width="7.2" height="4.4" fill="#dcdcdc" stroke="#1a1a1a" stroke-width="1"/>
<line x1="338.2" y1="359.9" x2="344.5" y2="363.4" stroke="#2a2a2a" stroke-width="0.8"/>
<line x1="338.2" y1="363.4" x2="344.5" y2="359.9" stroke="#2a2a2a" stroke-width="0.8"/>
<rect x="347.15" y="359.45" width="8.6" height="4.4" fill="#dcdcdc" stroke="#1a1a1a" stroke-width="1"/>
<line x1="347.6" y1="359.9" x2="355.3" y2="363.4" stroke="#2a2a2a" stroke-width="0.8"/>
<line x1="347.6" y1="363.4" x2="355.3" y2="359.9" stroke="#2a2a2a" stroke-width="0.8"/>
<rect x="357.95" y="359.45" width="5.1" height="4.4" fill="#dcdcdc" stroke="#1a1a1a" stroke-width="1"/>
<line x1="358.4" y1="359.9" x2="362.6" y2="363.4" stroke="#2a2a2a" stroke-width="0.8"/>
<line x1="358.4" y1="363.4" x2="362.6" y2="359.9" stroke="#2a2a2a" stroke-width="0.8"/>
<rect x="365.25" y="359.45" width="4.3" height="4.4" fill="#dcdcdc" stroke="#1a1a1a" stroke-width="1"/>
<line x1="365.7" y1="359.9" x2="369.1" y2="363.4" stroke="#2a2a2a" stroke-width="0.8"/>
<line x1="365.7" y1="363.4" x2="369.1" y2="359.9" stroke="#2a2a2a" stroke-width="0.8"/>
<rect x="371.75" y="359.45" width="6.5" height="4.4" fill="#dcdcdc" stroke="#1a1a1a" stroke-width="1"/>
<line x1="372.2" y1="359.9" x2="377.8" y2="363.4" stroke="#2a2a2a" stroke-width="0.8"/>
<line x1="372.2" y1="363.4" x2="377.8" y2="359.9" stroke="#2a2a2a" stroke-width="0.8"/>
<rect x="380.3" y="360.2" width="2.4" height="2.9" fill="#111"/>
<rect x="323.4" y="350.2" width="3.2" height="14.3" fill="#fff"/>
<line x1="325" y1="350.2" x2="325" y2="364.5" stroke="#888" stroke-width="0.6"/>
<polyline points="264,365.6 325,383.3 386.1,365.6" fill="none" stroke="#2a2a2a" stroke-width="0.9"/>
<rect x="483.8" y="349.8" width="121.8" height="15.2" fill="#fff" stroke="#111" stroke-width="1.3"/>
<rect x="485.05" y="350.75" width="7.2" height="4.5" fill="#dcdcdc" stroke="#1a1a1a" stroke-width="1"/>
<line x1="485.5" y1="351.2" x2="491.8" y2="354.8" stroke="#2a2a2a" stroke-width="0.8"/>
<line x1="485.5" y1="354.8" x2="491.8" y2="351.2" stroke="#2a2a2a" stroke-width="0.8"/>
<rect x="494.45" y="350.75" width="8.6" height="4.5" fill="#dcdcdc" stroke="#1a1a1a" stroke-width="1"/>
<line x1="494.9" y1="351.2" x2="502.6" y2="354.8" stroke="#2a2a2a" stroke-width="0.8"/>
<line x1="494.9" y1="354.8" x2="502.6" y2="351.2" stroke="#2a2a2a" stroke-width="0.8"/>
<rect x="505.25" y="350.75" width="5.1" height="4.5" fill="#dcdcdc" stroke="#1a1a1a" stroke-width="1"/>
<line x1="505.7" y1="351.2" x2="509.9" y2="354.8" stroke="#2a2a2a" stroke-width="0.8"/>
<line x1="505.7" y1="354.8" x2="509.9" y2="351.2" stroke="#2a2a2a" stroke-width="0.8"/>
<rect x="512.55" y="350.75" width="4.3" height="4.5" fill="#dcdcdc" stroke="#1a1a1a" stroke-width="1"/>
<line x1="513" y1="351.2" x2="516.4" y2="354.8" stroke="#2a2a2a" stroke-width="0.8"/>
<line x1="513" y1="354.8" x2="516.4" y2="351.2" stroke="#2a2a2a" stroke-width="0.8"/>
<rect x="519.05" y="350.75" width="6.5" height="4.5" fill="#dcdcdc" stroke="#1a1a1a" stroke-width="1"/>
<line x1="519.5" y1="351.2" x2="525.1" y2="354.8" stroke="#2a2a2a" stroke-width="0.8"/>
<line x1="519.5" y1="354.8" x2="525.1" y2="351.2" stroke="#2a2a2a" stroke-width="0.8"/>
<rect x="527.6" y="351.5" width="2.4" height="3" fill="#111"/>
<rect x="532.05" y="350.75" width="5.7" height="4.5" fill="#dcdcdc" stroke="#1a1a1a" stroke-width="1"/>
<line x1="532.5" y1="351.2" x2="537.3" y2="354.8" stroke="#2a2a2a" stroke-width="0.8"/>
<line x1="532.5" y1="354.8" x2="537.3" y2="351.2" stroke="#2a2a2a" stroke-width="0.8"/>
<rect x="539.95" y="350.75" width="5.8" height="4.5" fill="#dcdcdc" stroke="#1a1a1a" stroke-width="1"/>
<line x1="540.4" y1="351.2" x2="545.3" y2="354.8" stroke="#2a2a2a" stroke-width="0.8"/>
<line x1="540.4" y1="354.8" x2="545.3" y2="351.2" stroke="#2a2a2a" stroke-width="0.8"/>
<rect x="547.95" y="350.75" width="4.1" height="4.5" fill="#dcdcdc" stroke="#1a1a1a" stroke-width="1"/>
<line x1="548.4" y1="351.2" x2="551.6" y2="354.8" stroke="#2a2a2a" stroke-width="0.8"/>
<line x1="548.4" y1="354.8" x2="551.6" y2="351.2" stroke="#2a2a2a" stroke-width="0.8"/>
<rect x="554.1" y="351.5" width="2.5" height="3" fill="#111"/>
<rect x="558.65" y="350.75" width="5.3" height="4.5" fill="#dcdcdc" stroke="#1a1a1a" stroke-width="1"/>
<line x1="559.1" y1="351.2" x2="563.5" y2="354.8" stroke="#2a2a2a" stroke-width="0.8"/>
<line x1="559.1" y1="354.8" x2="563.5" y2="351.2" stroke="#2a2a2a" stroke-width="0.8"/>
<rect x="566" y="351.5" width="2.8" height="3" fill="#111"/>
<rect x="570.85" y="350.75" width="4.7" height="4.5" fill="#dcdcdc" stroke="#1a1a1a" stroke-width="1"/>
<line x1="571.3" y1="351.2" x2="575.1" y2="354.8" stroke="#2a2a2a" stroke-width="0.8"/>
<line x1="571.3" y1="354.8" x2="575.1" y2="351.2" stroke="#2a2a2a" stroke-width="0.8"/>
<rect x="577.75" y="350.75" width="7.2" height="4.5" fill="#dcdcdc" stroke="#1a1a1a" stroke-width="1"/>
<line x1="578.2" y1="351.2" x2="584.5" y2="354.8" stroke="#2a2a2a" stroke-width="0.8"/>
<line x1="578.2" y1="354.8" x2="584.5" y2="351.2" stroke="#2a2a2a" stroke-width="0.8"/>
<rect x="587.15" y="350.75" width="8.6" height="4.5" fill="#dcdcdc" stroke="#1a1a1a" stroke-width="1"/>
<line x1="587.6" y1="351.2" x2="595.3" y2="354.8" stroke="#2a2a2a" stroke-width="0.8"/>
<line x1="587.6" y1="354.8" x2="595.3" y2="351.2" stroke="#2a2a2a" stroke-width="0.8"/>
<rect x="597.95" y="350.75" width="5.1" height="4.5" fill="#dcdcdc" stroke="#1a1a1a" stroke-width="1"/>
<line x1="598.4" y1="351.2" x2="602.6" y2="354.8" stroke="#2a2a2a" stroke-width="0.8"/>
<line x1="598.4" y1="354.8" x2="602.6" y2="351.2" stroke="#2a2a2a" stroke-width="0.8"/>
<rect x="484.9" y="360.2" width="2.4" height="2.9" fill="#111"/>
<rect x="489.35" y="359.45" width="5.7" height="4.4" fill="#dcdcdc" stroke="#1a1a1a" stroke-width="1"/>
<line x1="489.8" y1="359.9" x2="494.6" y2="363.4" stroke="#2a2a2a" stroke-width="0.8"/>
<line x1="489.8" y1="363.4" x2="494.6" y2="359.9" stroke="#2a2a2a" stroke-width="0.8"/>
<rect x="497.25" y="359.45" width="5.8" height="4.4" fill="#dcdcdc" stroke="#1a1a1a" stroke-width="1"/>
<line x1="497.7" y1="359.9" x2="502.6" y2="363.4" stroke="#2a2a2a" stroke-width="0.8"/>
<line x1="497.7" y1="363.4" x2="502.6" y2="359.9" stroke="#2a2a2a" stroke-width="0.8"/>
<rect x="505.25" y="359.45" width="4.1" height="4.4" fill="#dcdcdc" stroke="#1a1a1a" stroke-width="1"/>
<line x1="505.7" y1="359.9" x2="508.9" y2="363.4" stroke="#2a2a2a" stroke-width="0.8"/>
<line x1="505.7" y1="363.4" x2="508.9" y2="359.9" stroke="#2a2a2a" stroke-width="0.8"/>
<rect x="511.4" y="360.2" width="2.5" height="2.9" fill="#111"/>
<rect x="515.95" y="359.45" width="5.3" height="4.4" fill="#dcdcdc" stroke="#1a1a1a" stroke-width="1"/>
<line x1="516.4" y1="359.9" x2="520.8" y2="363.4" stroke="#2a2a2a" stroke-width="0.8"/>
<line x1="516.4" y1="363.4" x2="520.8" y2="359.9" stroke="#2a2a2a" stroke-width="0.8"/>
<rect x="523.3" y="360.2" width="2.8" height="2.9" fill="#111"/>
<rect x="528.15" y="359.45" width="4.7" height="4.4" fill="#dcdcdc" stroke="#1a1a1a" stroke-width="1"/>
<line x1="528.6" y1="359.9" x2="532.4" y2="363.4" stroke="#2a2a2a" stroke-width="0.8"/>
<line x1="528.6" y1="363.4" x2="532.4" y2="359.9" stroke="#2a2a2a" stroke-width="0.8"/>
<rect x="535.05" y="359.45" width="7.2" height="4.4" fill="#dcdcdc" stroke="#1a1a1a" stroke-width="1"/>
<line x1="535.5" y1="359.9" x2="541.8" y2="363.4" stroke="#2a2a2a" stroke-width="0.8"/>
<line x1="535.5" y1="363.4" x2="541.8" y2="359.9" stroke="#2a2a2a" stroke-width="0.8"/>
<rect x="544.45" y="359.45" width="8.6" height="4.4" fill="#dcdcdc" stroke="#1a1a1a" stroke-width="1"/>
<line x1="544.9" y1="359.9" x2="552.6" y2="363.4" stroke="#2a2a2a" stroke-width="0.8"/>
<line x1="544.9" y1="363.4" x2="552.6" y2="359.9" stroke="#2a2a2a" stroke-width="0.8"/>
<rect x="555.25" y="359.45" width="5.1" height="4.4" fill="#dcdcdc" stroke="#1a1a1a" stroke-width="1"/>
<line x1="555.7" y1="359.9" x2="559.9" y2="363.4" stroke="#2a2a2a" stroke-width="0.8"/>
<line x1="555.7" y1="363.4" x2="559.9" y2="359.9" stroke="#2a2a2a" stroke-width="0.8"/>
<rect x="562.55" y="359.45" width="4.3" height="4.4" fill="#dcdcdc" stroke="#1a1a1a" stroke-width="1"/>
<line x1="563" y1="359.9" x2="566.4" y2="363.4" stroke="#2a2a2a" stroke-width="0.8"/>
<line x1="563" y1="363.4" x2="566.4" y2="359.9" stroke="#2a2a2a" stroke-width="0.8"/>
<rect x="569.05" y="359.45" width="6.5" height="4.4" fill="#dcdcdc" stroke="#1a1a1a" stroke-width="1"/>
<line x1="569.5" y1="359.9" x2="575.1" y2="363.4" stroke="#2a2a2a" stroke-width="0.8"/>
<line x1="569.5" y1="363.4" x2="575.1" y2="359.9" stroke="#2a2a2a" stroke-width="0.8"/>
<rect x="577.6" y="360.2" width="2.4" height="2.9" fill="#111"/>
<rect x="582.05" y="359.45" width="5.7" height="4.4" fill="#dcdcdc" stroke="#1a1a1a" stroke-width="1"/>
<line x1="582.5" y1="359.9" x2="587.3" y2="363.4" stroke="#2a2a2a" stroke-width="0.8"/>
<line x1="582.5" y1="363.4" x2="587.3" y2="359.9" stroke="#2a2a2a" stroke-width="0.8"/>
<rect x="589.95" y="359.45" width="5.8" height="4.4" fill="#dcdcdc" stroke="#1a1a1a" stroke-width="1"/>
<line x1="590.4" y1="359.9" x2="595.3" y2="363.4" stroke="#2a2a2a" stroke-width="0.8"/>
<line x1="590.4" y1="363.4" x2="595.3" y2="359.9" stroke="#2a2a2a" stroke-width="0.8"/>
<rect x="597.95" y="359.45" width="4.1" height="4.4" fill="#dcdcdc" stroke="#1a1a1a" stroke-width="1"/>
<line x1="598.4" y1="359.9" x2="601.6" y2="363.4" stroke="#2a2a2a" stroke-width="0.8"/>
<line x1="598.4" y1="363.4" x2="601.6" y2="359.9" stroke="#2a2a2a" stroke-width="0.8"/>
<rect x="543.1" y="350.2" width="3.2" height="14.3" fill="#fff"/>
<line x1="544.7" y1="350.2" x2="544.7" y2="364.5" stroke="#888" stroke-width="0.6"/>
<polyline points="483.8,365.6 544.7,383.3 605.6,365.6" fill="none" stroke="#2a2a2a" stroke-width="0.9"/>
<rect x="703" y="349.8" width="121.7" height="15.2" fill="#fff" stroke="#111" stroke-width="1.3"/>
<rect x="704.25" y="350.75" width="4.3" height="4.5" fill="#dcdcdc" stroke="#1a1a1a" stroke-width="1"/>
<line x1="704.7" y1="351.2" x2="708.1" y2="354.8" stroke="#2a2a2a" stroke-width="0.8"/>
<line x1="704.7" y1="354.8" x2="708.1" y2="351.2" stroke="#2a2a2a" stroke-width="0.8"/>
<rect x="710.75" y="350.75" width="6.5" height="4.5" fill="#dcdcdc" stroke="#1a1a1a" stroke-width="1"/>
<line x1="711.2" y1="351.2" x2="716.8" y2="354.8" stroke="#2a2a2a" stroke-width="0.8"/>
<line x1="711.2" y1="354.8" x2="716.8" y2="351.2" stroke="#2a2a2a" stroke-width="0.8"/>
<rect x="719.3" y="351.5" width="2.4" height="3" fill="#111"/>
<rect x="723.75" y="350.75" width="5.7" height="4.5" fill="#dcdcdc" stroke="#1a1a1a" stroke-width="1"/>
<line x1="724.2" y1="351.2" x2="729" y2="354.8" stroke="#2a2a2a" stroke-width="0.8"/>
<line x1="724.2" y1="354.8" x2="729" y2="351.2" stroke="#2a2a2a" stroke-width="0.8"/>
<rect x="731.65" y="350.75" width="5.8" height="4.5" fill="#dcdcdc" stroke="#1a1a1a" stroke-width="1"/>
<line x1="732.1" y1="351.2" x2="737" y2="354.8" stroke="#2a2a2a" stroke-width="0.8"/>
<line x1="732.1" y1="354.8" x2="737" y2="351.2" stroke="#2a2a2a" stroke-width="0.8"/>
<rect x="739.65" y="350.75" width="4.1" height="4.5" fill="#dcdcdc" stroke="#1a1a1a" stroke-width="1"/>
<line x1="740.1" y1="351.2" x2="743.3" y2="354.8" stroke="#2a2a2a" stroke-width="0.8"/>
<line x1="740.1" y1="354.8" x2="743.3" y2="351.2" stroke="#2a2a2a" stroke-width="0.8"/>
<rect x="745.8" y="351.5" width="2.5" height="3" fill="#111"/>
<rect x="750.35" y="350.75" width="5.3" height="4.5" fill="#dcdcdc" stroke="#1a1a1a" stroke-width="1"/>
<line x1="750.8" y1="351.2" x2="755.2" y2="354.8" stroke="#2a2a2a" stroke-width="0.8"/>
<line x1="750.8" y1="354.8" x2="755.2" y2="351.2" stroke="#2a2a2a" stroke-width="0.8"/>
<rect x="757.7" y="351.5" width="2.8" height="3" fill="#111"/>
<rect x="762.55" y="350.75" width="4.7" height="4.5" fill="#dcdcdc" stroke="#1a1a1a" stroke-width="1"/>
<line x1="763" y1="351.2" x2="766.8" y2="354.8" stroke="#2a2a2a" stroke-width="0.8"/>
<line x1="763" y1="354.8" x2="766.8" y2="351.2" stroke="#2a2a2a" stroke-width="0.8"/>
<rect x="769.45" y="350.75" width="7.2" height="4.5" fill="#dcdcdc" stroke="#1a1a1a" stroke-width="1"/>
<line x1="769.9" y1="351.2" x2="776.2" y2="354.8" stroke="#2a2a2a" stroke-width="0.8"/>
<line x1="769.9" y1="354.8" x2="776.2" y2="351.2" stroke="#2a2a2a" stroke-width="0.8"/>
<rect x="778.85" y="350.75" width="8.6" height="4.5" fill="#dcdcdc" stroke="#1a1a1a" stroke-width="1"/>
<line x1="779.3" y1="351.2" x2="787" y2="354.8" stroke="#2a2a2a" stroke-width="0.8"/>
<line x1="779.3" y1="354.8" x2="787" y2="351.2" stroke="#2a2a2a" stroke-width="0.8"/>
<rect x="789.65" y="350.75" width="5.1" height="4.5" fill="#dcdcdc" stroke="#1a1a1a" stroke-width="1"/>
<line x1="790.1" y1="351.2" x2="794.3" y2="354.8" stroke="#2a2a2a" stroke-width="0.8"/>
<line x1="790.1" y1="354.8" x2="794.3" y2="351.2" stroke="#2a2a2a" stroke-width="0.8"/>
<rect x="796.95" y="350.75" width="4.3" height="4.5" fill="#dcdcdc" stroke="#1a1a1a" stroke-width="1"/>
<line x1="797.4" y1="351.2" x2="800.8" y2="354.8" stroke="#2a2a2a" stroke-width="0.8"/>
<line x1="797.4" y1="354.8" x2="800.8" y2="351.2" stroke="#2a2a2a" stroke-width="0.8"/>
<rect x="803.45" y="350.75" width="6.5" height="4.5" fill="#dcdcdc" stroke="#1a1a1a" stroke-width="1"/>
<line x1="803.9" y1="351.2" x2="809.5" y2="354.8" stroke="#2a2a2a" stroke-width="0.8"/>
<line x1="803.9" y1="354.8" x2="809.5" y2="351.2" stroke="#2a2a2a" stroke-width="0.8"/>
<rect x="812" y="351.5" width="2.4" height="3" fill="#111"/>
<rect x="816.45" y="350.75" width="5.7" height="4.5" fill="#dcdcdc" stroke="#1a1a1a" stroke-width="1"/>
<line x1="816.9" y1="351.2" x2="821.7" y2="354.8" stroke="#2a2a2a" stroke-width="0.8"/>
<line x1="816.9" y1="354.8" x2="821.7" y2="351.2" stroke="#2a2a2a" stroke-width="0.8"/>
<rect x="704.25" y="359.45" width="4.1" height="4.4" fill="#dcdcdc" stroke="#1a1a1a" stroke-width="1"/>
<line x1="704.7" y1="359.9" x2="707.9" y2="363.4" stroke="#2a2a2a" stroke-width="0.8"/>
<line x1="704.7" y1="363.4" x2="707.9" y2="359.9" stroke="#2a2a2a" stroke-width="0.8"/>
<rect x="710.4" y="360.2" width="2.5" height="2.9" fill="#111"/>
<rect x="714.95" y="359.45" width="5.3" height="4.4" fill="#dcdcdc" stroke="#1a1a1a" stroke-width="1"/>
<line x1="715.4" y1="359.9" x2="719.8" y2="363.4" stroke="#2a2a2a" stroke-width="0.8"/>
<line x1="715.4" y1="363.4" x2="719.8" y2="359.9" stroke="#2a2a2a" stroke-width="0.8"/>
<rect x="722.3" y="360.2" width="2.8" height="2.9" fill="#111"/>
<rect x="727.15" y="359.45" width="4.7" height="4.4" fill="#dcdcdc" stroke="#1a1a1a" stroke-width="1"/>
<line x1="727.6" y1="359.9" x2="731.4" y2="363.4" stroke="#2a2a2a" stroke-width="0.8"/>
<line x1="727.6" y1="363.4" x2="731.4" y2="359.9" stroke="#2a2a2a" stroke-width="0.8"/>
<rect x="734.05" y="359.45" width="7.2" height="4.4" fill="#dcdcdc" stroke="#1a1a1a" stroke-width="1"/>
<line x1="734.5" y1="359.9" x2="740.8" y2="363.4" stroke="#2a2a2a" stroke-width="0.8"/>
<line x1="734.5" y1="363.4" x2="740.8" y2="359.9" stroke="#2a2a2a" stroke-width="0.8"/>
<rect x="743.45" y="359.45" width="8.6" height="4.4" fill="#dcdcdc" stroke="#1a1a1a" stroke-width="1"/>
<line x1="743.9" y1="359.9" x2="751.6" y2="363.4" stroke="#2a2a2a" stroke-width="0.8"/>
<line x1="743.9" y1="363.4" x2="751.6" y2="359.9" stroke="#2a2a2a" stroke-width="0.8"/>
<rect x="754.25" y="359.45" width="5.1" height="4.4" fill="#dcdcdc" stroke="#1a1a1a" stroke-width="1"/>
<line x1="754.7" y1="359.9" x2="758.9" y2="363.4" stroke="#2a2a2a" stroke-width="0.8"/>
<line x1="754.7" y1="363.4" x2="758.9" y2="359.9" stroke="#2a2a2a" stroke-width="0.8"/>
<rect x="761.55" y="359.45" width="4.3" height="4.4" fill="#dcdcdc" stroke="#1a1a1a" stroke-width="1"/>
<line x1="762" y1="359.9" x2="765.4" y2="363.4" stroke="#2a2a2a" stroke-width="0.8"/>
<line x1="762" y1="363.4" x2="765.4" y2="359.9" stroke="#2a2a2a" stroke-width="0.8"/>
<rect x="768.05" y="359.45" width="6.5" height="4.4" fill="#dcdcdc" stroke="#1a1a1a" stroke-width="1"/>
<line x1="768.5" y1="359.9" x2="774.1" y2="363.4" stroke="#2a2a2a" stroke-width="0.8"/>
<line x1="768.5" y1="363.4" x2="774.1" y2="359.9" stroke="#2a2a2a" stroke-width="0.8"/>
<rect x="776.6" y="360.2" width="2.4" height="2.9" fill="#111"/>
<rect x="781.05" y="359.45" width="5.7" height="4.4" fill="#dcdcdc" stroke="#1a1a1a" stroke-width="1"/>
<line x1="781.5" y1="359.9" x2="786.3" y2="363.4" stroke="#2a2a2a" stroke-width="0.8"/>
<line x1="781.5" y1="363.4" x2="786.3" y2="359.9" stroke="#2a2a2a" stroke-width="0.8"/>
<rect x="788.95" y="359.45" width="5.8" height="4.4" fill="#dcdcdc" stroke="#1a1a1a" stroke-width="1"/>
<line x1="789.4" y1="359.9" x2="794.3" y2="363.4" stroke="#2a2a2a" stroke-width="0.8"/>
<line x1="789.4" y1="363.4" x2="794.3" y2="359.9" stroke="#2a2a2a" stroke-width="0.8"/>
<rect x="796.95" y="359.45" width="4.1" height="4.4" fill="#dcdcdc" stroke="#1a1a1a" stroke-width="1"/>
<line x1="797.4" y1="359.9" x2="800.6" y2="363.4" stroke="#2a2a2a" stroke-width="0.8"/>
<line x1="797.4" y1="363.4" x2="800.6" y2="359.9" stroke="#2a2a2a" stroke-width="0.8"/>
<rect x="803.1" y="360.2" width="2.5" height="2.9" fill="#111"/>
<rect x="807.65" y="359.45" width="5.3" height="4.4" fill="#dcdcdc" stroke="#1a1a1a" stroke-width="1"/>
<line x1="808.1" y1="359.9" x2="812.5" y2="363.4" stroke="#2a2a2a" stroke-width="0.8"/>
<line x1="808.1" y1="363.4" x2="812.5" y2="359.9" stroke="#2a2a2a" stroke-width="0.8"/>
<rect x="815" y="360.2" width="2.8" height="2.9" fill="#111"/>
<rect x="819.85" y="359.45" width="3.8" height="4.4" fill="#dcdcdc" stroke="#1a1a1a" stroke-width="1"/>
<line x1="820.3" y1="359.9" x2="823.2" y2="363.4" stroke="#2a2a2a" stroke-width="0.8"/>
<line x1="820.3" y1="363.4" x2="823.2" y2="359.9" stroke="#2a2a2a" stroke-width="0.8"/>
<rect x="762.2" y="350.2" width="3.2" height="14.3" fill="#fff"/>
<line x1="763.8" y1="350.2" x2="763.8" y2="364.5" stroke="#888" stroke-width="0.6"/>
<polyline points="703,365.6 763.8,383.3 824.7,365.6" fill="none" stroke="#2a2a2a" stroke-width="0.9"/>
<rect x="922.4" y="349.8" width="122.2" height="15.2" fill="#fff" stroke="#111" stroke-width="1.3"/>
<rect x="923.65" y="350.75" width="5.7" height="4.5" fill="#dcdcdc" stroke="#1a1a1a" stroke-width="1"/>
<line x1="924.1" y1="351.2" x2="928.9" y2="354.8" stroke="#2a2a2a" stroke-width="0.8"/>
<line x1="924.1" y1="354.8" x2="928.9" y2="351.2" stroke="#2a2a2a" stroke-width="0.8"/>
<rect x="931.55" y="350.75" width="5.8" height="4.5" fill="#dcdcdc" stroke="#1a1a1a" stroke-width="1"/>
<line x1="932" y1="351.2" x2="936.9" y2="354.8" stroke="#2a2a2a" stroke-width="0.8"/>
<line x1="932" y1="354.8" x2="936.9" y2="351.2" stroke="#2a2a2a" stroke-width="0.8"/>
<rect x="939.55" y="350.75" width="4.1" height="4.5" fill="#dcdcdc" stroke="#1a1a1a" stroke-width="1"/>
<line x1="940" y1="351.2" x2="943.2" y2="354.8" stroke="#2a2a2a" stroke-width="0.8"/>
<line x1="940" y1="354.8" x2="943.2" y2="351.2" stroke="#2a2a2a" stroke-width="0.8"/>
<rect x="945.7" y="351.5" width="2.5" height="3" fill="#111"/>
<rect x="950.25" y="350.75" width="5.3" height="4.5" fill="#dcdcdc" stroke="#1a1a1a" stroke-width="1"/>
<line x1="950.7" y1="351.2" x2="955.1" y2="354.8" stroke="#2a2a2a" stroke-width="0.8"/>
<line x1="950.7" y1="354.8" x2="955.1" y2="351.2" stroke="#2a2a2a" stroke-width="0.8"/>
<rect x="957.6" y="351.5" width="2.8" height="3" fill="#111"/>
<rect x="962.45" y="350.75" width="4.7" height="4.5" fill="#dcdcdc" stroke="#1a1a1a" stroke-width="1"/>
<line x1="962.9" y1="351.2" x2="966.7" y2="354.8" stroke="#2a2a2a" stroke-width="0.8"/>
<line x1="962.9" y1="354.8" x2="966.7" y2="351.2" stroke="#2a2a2a" stroke-width="0.8"/>
<rect x="969.35" y="350.75" width="7.2" height="4.5" fill="#dcdcdc" stroke="#1a1a1a" stroke-width="1"/>
<line x1="969.8" y1="351.2" x2="976.1" y2="354.8" stroke="#2a2a2a" stroke-width="0.8"/>
<line x1="969.8" y1="354.8" x2="976.1" y2="351.2" stroke="#2a2a2a" stroke-width="0.8"/>
<rect x="978.75" y="350.75" width="8.6" height="4.5" fill="#dcdcdc" stroke="#1a1a1a" stroke-width="1"/>
<line x1="979.2" y1="351.2" x2="986.9" y2="354.8" stroke="#2a2a2a" stroke-width="0.8"/>
<line x1="979.2" y1="354.8" x2="986.9" y2="351.2" stroke="#2a2a2a" stroke-width="0.8"/>
<rect x="989.55" y="350.75" width="5.1" height="4.5" fill="#dcdcdc" stroke="#1a1a1a" stroke-width="1"/>
<line x1="990" y1="351.2" x2="994.2" y2="354.8" stroke="#2a2a2a" stroke-width="0.8"/>
<line x1="990" y1="354.8" x2="994.2" y2="351.2" stroke="#2a2a2a" stroke-width="0.8"/>
<rect x="996.85" y="350.75" width="4.3" height="4.5" fill="#dcdcdc" stroke="#1a1a1a" stroke-width="1"/>
<line x1="997.3" y1="351.2" x2="1000.7" y2="354.8" stroke="#2a2a2a" stroke-width="0.8"/>
<line x1="997.3" y1="354.8" x2="1000.7" y2="351.2" stroke="#2a2a2a" stroke-width="0.8"/>
<rect x="1003.35" y="350.75" width="6.5" height="4.5" fill="#dcdcdc" stroke="#1a1a1a" stroke-width="1"/>
<line x1="1003.8" y1="351.2" x2="1009.4" y2="354.8" stroke="#2a2a2a" stroke-width="0.8"/>
<line x1="1003.8" y1="354.8" x2="1009.4" y2="351.2" stroke="#2a2a2a" stroke-width="0.8"/>
<rect x="1011.9" y="351.5" width="2.4" height="3" fill="#111"/>
<rect x="1016.35" y="350.75" width="5.7" height="4.5" fill="#dcdcdc" stroke="#1a1a1a" stroke-width="1"/>
<line x1="1016.8" y1="351.2" x2="1021.6" y2="354.8" stroke="#2a2a2a" stroke-width="0.8"/>
<line x1="1016.8" y1="354.8" x2="1021.6" y2="351.2" stroke="#2a2a2a" stroke-width="0.8"/>
<rect x="1024.25" y="350.75" width="5.8" height="4.5" fill="#dcdcdc" stroke="#1a1a1a" stroke-width="1"/>
<line x1="1024.7" y1="351.2" x2="1029.6" y2="354.8" stroke="#2a2a2a" stroke-width="0.8"/>
<line x1="1024.7" y1="354.8" x2="1029.6" y2="351.2" stroke="#2a2a2a" stroke-width="0.8"/>
<rect x="1032.25" y="350.75" width="4.1" height="4.5" fill="#dcdcdc" stroke="#1a1a1a" stroke-width="1"/>
<line x1="1032.7" y1="351.2" x2="1035.9" y2="354.8" stroke="#2a2a2a" stroke-width="0.8"/>
<line x1="1032.7" y1="354.8" x2="1035.9" y2="351.2" stroke="#2a2a2a" stroke-width="0.8"/>
<rect x="1038.4" y="351.5" width="2.5" height="3" fill="#111"/>
<rect x="923.5" y="360.2" width="2.8" height="2.9" fill="#111"/>
<rect x="928.35" y="359.45" width="4.7" height="4.4" fill="#dcdcdc" stroke="#1a1a1a" stroke-width="1"/>
<line x1="928.8" y1="359.9" x2="932.6" y2="363.4" stroke="#2a2a2a" stroke-width="0.8"/>
<line x1="928.8" y1="363.4" x2="932.6" y2="359.9" stroke="#2a2a2a" stroke-width="0.8"/>
<rect x="935.25" y="359.45" width="7.2" height="4.4" fill="#dcdcdc" stroke="#1a1a1a" stroke-width="1"/>
<line x1="935.7" y1="359.9" x2="942" y2="363.4" stroke="#2a2a2a" stroke-width="0.8"/>
<line x1="935.7" y1="363.4" x2="942" y2="359.9" stroke="#2a2a2a" stroke-width="0.8"/>
<rect x="944.65" y="359.45" width="8.6" height="4.4" fill="#dcdcdc" stroke="#1a1a1a" stroke-width="1"/>
<line x1="945.1" y1="359.9" x2="952.8" y2="363.4" stroke="#2a2a2a" stroke-width="0.8"/>
<line x1="945.1" y1="363.4" x2="952.8" y2="359.9" stroke="#2a2a2a" stroke-width="0.8"/>
<rect x="955.45" y="359.45" width="5.1" height="4.4" fill="#dcdcdc" stroke="#1a1a1a" stroke-width="1"/>
<line x1="955.9" y1="359.9" x2="960.1" y2="363.4" stroke="#2a2a2a" stroke-width="0.8"/>
<line x1="955.9" y1="363.4" x2="960.1" y2="359.9" stroke="#2a2a2a" stroke-width="0.8"/>
<rect x="962.75" y="359.45" width="4.3" height="4.4" fill="#dcdcdc" stroke="#1a1a1a" stroke-width="1"/>
<line x1="963.2" y1="359.9" x2="966.6" y2="363.4" stroke="#2a2a2a" stroke-width="0.8"/>
<line x1="963.2" y1="363.4" x2="966.6" y2="359.9" stroke="#2a2a2a" stroke-width="0.8"/>
<rect x="969.25" y="359.45" width="6.5" height="4.4" fill="#dcdcdc" stroke="#1a1a1a" stroke-width="1"/>
<line x1="969.7" y1="359.9" x2="975.3" y2="363.4" stroke="#2a2a2a" stroke-width="0.8"/>
<line x1="969.7" y1="363.4" x2="975.3" y2="359.9" stroke="#2a2a2a" stroke-width="0.8"/>
<rect x="977.8" y="360.2" width="2.4" height="2.9" fill="#111"/>
<rect x="982.25" y="359.45" width="5.7" height="4.4" fill="#dcdcdc" stroke="#1a1a1a" stroke-width="1"/>
<line x1="982.7" y1="359.9" x2="987.5" y2="363.4" stroke="#2a2a2a" stroke-width="0.8"/>
<line x1="982.7" y1="363.4" x2="987.5" y2="359.9" stroke="#2a2a2a" stroke-width="0.8"/>
<rect x="990.15" y="359.45" width="5.8" height="4.4" fill="#dcdcdc" stroke="#1a1a1a" stroke-width="1"/>
<line x1="990.6" y1="359.9" x2="995.5" y2="363.4" stroke="#2a2a2a" stroke-width="0.8"/>
<line x1="990.6" y1="363.4" x2="995.5" y2="359.9" stroke="#2a2a2a" stroke-width="0.8"/>
<rect x="998.15" y="359.45" width="4.1" height="4.4" fill="#dcdcdc" stroke="#1a1a1a" stroke-width="1"/>
<line x1="998.6" y1="359.9" x2="1001.8" y2="363.4" stroke="#2a2a2a" stroke-width="0.8"/>
<line x1="998.6" y1="363.4" x2="1001.8" y2="359.9" stroke="#2a2a2a" stroke-width="0.8"/>
<rect x="1004.3" y="360.2" width="2.5" height="2.9" fill="#111"/>
<rect x="1008.85" y="359.45" width="5.3" height="4.4" fill="#dcdcdc" stroke="#1a1a1a" stroke-width="1"/>
<line x1="1009.3" y1="359.9" x2="1013.7" y2="363.4" stroke="#2a2a2a" stroke-width="0.8"/>
<line x1="1009.3" y1="363.4" x2="1013.7" y2="359.9" stroke="#2a2a2a" stroke-width="0.8"/>
<rect x="1016.2" y="360.2" width="2.8" height="2.9" fill="#111"/>
<rect x="1021.05" y="359.45" width="4.7" height="4.4" fill="#dcdcdc" stroke="#1a1a1a" stroke-width="1"/>
<line x1="1021.5" y1="359.9" x2="1025.3" y2="363.4" stroke="#2a2a2a" stroke-width="0.8"/>
<line x1="1021.5" y1="363.4" x2="1025.3" y2="359.9" stroke="#2a2a2a" stroke-width="0.8"/>
<rect x="1027.95" y="359.45" width="7.2" height="4.4" fill="#dcdcdc" stroke="#1a1a1a" stroke-width="1"/>
<line x1="1028.4" y1="359.9" x2="1034.7" y2="363.4" stroke="#2a2a2a" stroke-width="0.8"/>
<line x1="1028.4" y1="363.4" x2="1034.7" y2="359.9" stroke="#2a2a2a" stroke-width="0.8"/>
<rect x="1037.35" y="359.45" width="6.2" height="4.4" fill="#dcdcdc" stroke="#1a1a1a" stroke-width="1"/>
<line x1="1037.8" y1="359.9" x2="1043.1" y2="363.4" stroke="#2a2a2a" stroke-width="0.8"/>
<line x1="1037.8" y1="363.4" x2="1043.1" y2="359.9" stroke="#2a2a2a" stroke-width="0.8"/>
<rect x="982.2" y="350.2" width="3.2" height="14.3" fill="#fff"/>
<line x1="983.8" y1="350.2" x2="983.8" y2="364.5" stroke="#888" stroke-width="0.6"/>
<polyline points="922.4,365.6 983.8,383.3 1044.6,365.6" fill="none" stroke="#2a2a2a" stroke-width="0.9"/>
<rect x="1095.5" y="349.8" width="58.4" height="15.2" fill="#fff" stroke="#111" stroke-width="1.3"/>
<rect x="1096.6" y="351.5" width="2.5" height="3" fill="#111"/>
<rect x="1101.15" y="350.75" width="5.3" height="4.5" fill="#dcdcdc" stroke="#1a1a1a" stroke-width="1"/>
<line x1="1101.6" y1="351.2" x2="1106" y2="354.8" stroke="#2a2a2a" stroke-width="0.8"/>
<line x1="1101.6" y1="354.8" x2="1106" y2="351.2" stroke="#2a2a2a" stroke-width="0.8"/>
<rect x="1108.5" y="351.5" width="2.8" height="3" fill="#111"/>
<rect x="1113.35" y="350.75" width="4.7" height="4.5" fill="#dcdcdc" stroke="#1a1a1a" stroke-width="1"/>
<line x1="1113.8" y1="351.2" x2="1117.6" y2="354.8" stroke="#2a2a2a" stroke-width="0.8"/>
<line x1="1113.8" y1="354.8" x2="1117.6" y2="351.2" stroke="#2a2a2a" stroke-width="0.8"/>
<rect x="1120.25" y="350.75" width="7.2" height="4.5" fill="#dcdcdc" stroke="#1a1a1a" stroke-width="1"/>
<line x1="1120.7" y1="351.2" x2="1127" y2="354.8" stroke="#2a2a2a" stroke-width="0.8"/>
<line x1="1120.7" y1="354.8" x2="1127" y2="351.2" stroke="#2a2a2a" stroke-width="0.8"/>
<rect x="1129.65" y="350.75" width="8.6" height="4.5" fill="#dcdcdc" stroke="#1a1a1a" stroke-width="1"/>
<line x1="1130.1" y1="351.2" x2="1137.8" y2="354.8" stroke="#2a2a2a" stroke-width="0.8"/>
<line x1="1130.1" y1="354.8" x2="1137.8" y2="351.2" stroke="#2a2a2a" stroke-width="0.8"/>
<rect x="1140.45" y="350.75" width="5.1" height="4.5" fill="#dcdcdc" stroke="#1a1a1a" stroke-width="1"/>
<line x1="1140.9" y1="351.2" x2="1145.1" y2="354.8" stroke="#2a2a2a" stroke-width="0.8"/>
<line x1="1140.9" y1="354.8" x2="1145.1" y2="351.2" stroke="#2a2a2a" stroke-width="0.8"/>
<rect x="1147.75" y="350.75" width="4.3" height="4.5" fill="#dcdcdc" stroke="#1a1a1a" stroke-width="1"/>
<line x1="1148.2" y1="351.2" x2="1151.6" y2="354.8" stroke="#2a2a2a" stroke-width="0.8"/>
<line x1="1148.2" y1="354.8" x2="1151.6" y2="351.2" stroke="#2a2a2a" stroke-width="0.8"/>
<rect x="1096.75" y="359.45" width="8.6" height="4.4" fill="#dcdcdc" stroke="#1a1a1a" stroke-width="1"/>
<line x1="1097.2" y1="359.9" x2="1104.9" y2="363.4" stroke="#2a2a2a" stroke-width="0.8"/>
<line x1="1097.2" y1="363.4" x2="1104.9" y2="359.9" stroke="#2a2a2a" stroke-width="0.8"/>
<rect x="1107.55" y="359.45" width="5.1" height="4.4" fill="#dcdcdc" stroke="#1a1a1a" stroke-width="1"/>
<line x1="1108" y1="359.9" x2="1112.2" y2="363.4" stroke="#2a2a2a" stroke-width="0.8"/>
<line x1="1108" y1="363.4" x2="1112.2" y2="359.9" stroke="#2a2a2a" stroke-width="0.8"/>
<rect x="1114.85" y="359.45" width="4.3" height="4.4" fill="#dcdcdc" stroke="#1a1a1a" stroke-width="1"/>
<line x1="1115.3" y1="359.9" x2="1118.7" y2="363.4" stroke="#2a2a2a" stroke-width="0.8"/>
<line x1="1115.3" y1="363.4" x2="1118.7" y2="359.9" stroke="#2a2a2a" stroke-width="0.8"/>
<rect x="1121.35" y="359.45" width="6.5" height="4.4" fill="#dcdcdc" stroke="#1a1a1a" stroke-width="1"/>
<line x1="1121.8" y1="359.9" x2="1127.4" y2="363.4" stroke="#2a2a2a" stroke-width="0.8"/>
<line x1="1121.8" y1="363.4" x2="1127.4" y2="359.9" stroke="#2a2a2a" stroke-width="0.8"/>
<rect x="1129.9" y="360.2" width="2.4" height="2.9" fill="#111"/>
<rect x="1134.35" y="359.45" width="5.7" height="4.4" fill="#dcdcdc" stroke="#1a1a1a" stroke-width="1"/>
<line x1="1134.8" y1="359.9" x2="1139.6" y2="363.4" stroke="#2a2a2a" stroke-width="0.8"/>
<line x1="1134.8" y1="363.4" x2="1139.6" y2="359.9" stroke="#2a2a2a" stroke-width="0.8"/>
<rect x="1142.25" y="359.45" width="5.8" height="4.4" fill="#dcdcdc" stroke="#1a1a1a" stroke-width="1"/>
<line x1="1142.7" y1="359.9" x2="1147.6" y2="363.4" stroke="#2a2a2a" stroke-width="0.8"/>
<line x1="1142.7" y1="363.4" x2="1147.6" y2="359.9" stroke="#2a2a2a" stroke-width="0.8"/>
<rect x="1150.25" y="359.45" width="2.6" height="4.4" fill="#dcdcdc" stroke="#1a1a1a" stroke-width="1"/>
<line x1="1150.7" y1="359.9" x2="1152.4" y2="363.4" stroke="#2a2a2a" stroke-width="0.8"/>
<line x1="1150.7" y1="363.4" x2="1152.4" y2="359.9" stroke="#2a2a2a" stroke-width="0.8"/>
<polyline points="1095.5,365.6 1125,383.3 1153.9,365.6" fill="none" stroke="#2a2a2a" stroke-width="0.9"/>
<line x1="1125" y1="365.6" x2="1125" y2="383.3" stroke="#333" stroke-width="0.8"/>
</g>
<g id="misc">
<line x1="170.3" y1="263.6" x2="170.3" y2="282.2" stroke="#333" stroke-width="0.8"/>
<text x="174.1" y="270.28" font-size="3" text-anchor="middle" font-weight="bold" fill="#333" transform="rotate(90 174.1 269.2)">1,5%</text>
<line x1="170.3" y1="409" x2="170.3" y2="428" stroke="#333" stroke-width="0.8"/>
<text x="174.1" y="423.08" font-size="3" text-anchor="middle" font-weight="bold" fill="#333" transform="rotate(90 174.1 422.0)">1,5%</text>
<line x1="280.5" y1="263.6" x2="280.5" y2="282.2" stroke="#333" stroke-width="0.8"/>
<text x="284.3" y="270.28" font-size="3" text-anchor="middle" font-weight="bold" fill="#333" transform="rotate(90 284.3 269.2)">1,5%</text>
<line x1="280.5" y1="409" x2="280.5" y2="428" stroke="#333" stroke-width="0.8"/>
<text x="284.3" y="423.08" font-size="3" text-anchor="middle" font-weight="bold" fill="#333" transform="rotate(90 284.3 422.0)">1,5%</text>
<line x1="372.5" y1="263.6" x2="372.5" y2="282.2" stroke="#333" stroke-width="0.8"/>
<text x="376.3" y="270.28" font-size="3" text-anchor="middle" font-weight="bold" fill="#333" transform="rotate(90 376.3 269.2)">1,5%</text>
<line x1="372.5" y1="409" x2="372.5" y2="428" stroke="#333" stroke-width="0.8"/>
<text x="376.3" y="423.08" font-size="3" text-anchor="middle" font-weight="bold" fill="#333" transform="rotate(90 376.3 422.0)">1,5%</text>
<line x1="500" y1="263.6" x2="500" y2="282.2" stroke="#333" stroke-width="0.8"/>
<text x="503.8" y="270.28" font-size="3" text-anchor="middle" font-weight="bold" fill="#333" transform="rotate(90 503.8 269.2)">1,5%</text>
<line x1="500" y1="409" x2="500" y2="428" stroke="#333" stroke-width="0.8"/>
<text x="503.8" y="423.08" font-size="3" text-anchor="middle" font-weight="bold" fill="#333" transform="rotate(90 503.8 422.0)">1,5%</text>
<line x1="591.1" y1="263.6" x2="591.1" y2="282.2" stroke="#333" stroke-width="0.8"/>
<text x="594.9" y="270.28" font-size="3" text-anchor="middle" font-weight="bold" fill="#333" transform="rotate(90 594.9 269.2)">1,5%</text>
<line x1="591.1" y1="409" x2="591.1" y2="428" stroke="#333" stroke-width="0.8"/>
<text x="594.9" y="423.08" font-size="3" text-anchor="middle" font-weight="bold" fill="#333" transform="rotate(90 594.9 422.0)">1,5%</text>
<line x1="719.2" y1="263.6" x2="719.2" y2="282.2" stroke="#333" stroke-width="0.8"/>
<text x="723" y="270.28" font-size="3" text-anchor="middle" font-weight="bold" fill="#333" transform="rotate(90 723 269.2)">1,5%</text>
<line x1="719.2" y1="409" x2="719.2" y2="428" stroke="#333" stroke-width="0.8"/>
<text x="723" y="423.08" font-size="3" text-anchor="middle" font-weight="bold" fill="#333" transform="rotate(90 723 422.0)">1,5%</text>
<line x1="810.4" y1="263.6" x2="810.4" y2="282.2" stroke="#333" stroke-width="0.8"/>
<text x="814.2" y="270.28" font-size="3" text-anchor="middle" font-weight="bold" fill="#333" transform="rotate(90 814.2 269.2)">1,5%</text>
<line x1="810.4" y1="409" x2="810.4" y2="428" stroke="#333" stroke-width="0.8"/>
<text x="814.2" y="423.08" font-size="3" text-anchor="middle" font-weight="bold" fill="#333" transform="rotate(90 814.2 422.0)">1,5%</text>
<line x1="939" y1="263.6" x2="939" y2="282.2" stroke="#333" stroke-width="0.8"/>
<text x="942.8" y="270.28" font-size="3" text-anchor="middle" font-weight="bold" fill="#333" transform="rotate(90 942.8 269.2)">1,5%</text>
<line x1="939" y1="409" x2="939" y2="428" stroke="#333" stroke-width="0.8"/>
<text x="942.8" y="423.08" font-size="3" text-anchor="middle" font-weight="bold" fill="#333" transform="rotate(90 942.8 422.0)">1,5%</text>
<line x1="1030.3" y1="263.6" x2="1030.3" y2="282.2" stroke="#333" stroke-width="0.8"/>
<text x="1034.1" y="270.28" font-size="3" text-anchor="middle" font-weight="bold" fill="#333" transform="rotate(90 1034.1 269.2)">1,5%</text>
<line x1="1030.3" y1="409" x2="1030.3" y2="428" stroke="#333" stroke-width="0.8"/>
<text x="1034.1" y="423.08" font-size="3" text-anchor="middle" font-weight="bold" fill="#333" transform="rotate(90 1034.1 422.0)">1,5%</text>
<line x1="1139.4" y1="263.6" x2="1139.4" y2="282.2" stroke="#333" stroke-width="0.8"/>
<text x="1143.2" y="270.28" font-size="3" text-anchor="middle" font-weight="bold" fill="#333" transform="rotate(90 1143.2 269.2)">1,5%</text>
<line x1="1139.4" y1="409" x2="1139.4" y2="428" stroke="#333" stroke-width="0.8"/>
<text x="1143.2" y="423.08" font-size="3" text-anchor="middle" font-weight="bold" fill="#333" transform="rotate(90 1143.2 422.0)">1,5%</text>
<polyline points="106.3,255.8 109.2,255.8 109.2,251.3 123.5,251.3" fill="none" stroke="#333" stroke-width="0.7"/>
<text x="110.2" y="250.4" font-size="2.9" text-anchor="start" font-weight="bold" fill="#333">+16.300</text>
<polyline points="104.2,262.2 94.3,262.2 94.3,268.5 80.3,268.5" fill="none" stroke="#333" stroke-width="0.7"/>
<text x="82.5" y="267.3" font-size="2.9" text-anchor="start" font-weight="bold" fill="#333">+15.800</text>
<polyline points="1202.8,256.4 1199.6,256.4 1199.6,251.4 1185,251.4" fill="none" stroke="#333" stroke-width="0.7"/>
<text x="1186.9" y="250.4" font-size="2.9" text-anchor="start" font-weight="bold" fill="#333">+16.300</text>
<polyline points="1204.2,262.4 1215.1,262.4 1215.1,268.3 1227.4,268.3" fill="none" stroke="#333" stroke-width="0.7"/>
<text x="1216.5" y="267.2" font-size="2.9" text-anchor="start" font-weight="bold" fill="#333">+15.800</text>
<polyline points="1202.8,272.8 1198.3,282.4" fill="none" stroke="#333" stroke-width="0.7"/>
<text x="1184" y="281.5" font-size="2.9" text-anchor="start" font-weight="bold" fill="#333" font-style="italic">Дн.П.Ф6.</text>
<text x="1187" y="284.8" font-size="2.9" text-anchor="start" font-weight="bold" fill="#333" font-style="italic">Ø110</text>
<line x1="89.8" y1="367.3" x2="89.8" y2="376.5" stroke="#333" stroke-width="0.8"/>
<line x1="86.7" y1="367.3" x2="96" y2="367.3" stroke="#333" stroke-width="0.7"/>
<text x="76" y="375.3" font-size="3" text-anchor="start" font-weight="bold" fill="#333">Дрен.л</text>
<polyline points="105.5,381.7 112.7,390.5 127.4,390.5" fill="none" stroke="#333" stroke-width="0.7"/>
<text x="114.4" y="389.9" font-size="2.9" text-anchor="start" font-weight="bold" fill="#333" font-style="italic">Дн.П.Ф6.</text>
<text x="114.4" y="393.6" font-size="2.9" text-anchor="start" font-weight="bold" fill="#333" font-style="italic">Ø110</text>
<line x1="1218.4" y1="367.3" x2="1229.2" y2="367.3" stroke="#333" stroke-width="0.9"/>
<line x1="1225.5" y1="367.3" x2="1225.5" y2="376.4" stroke="#333" stroke-width="0.9"/>
<text x="1226.8" y="374.8" font-size="3" text-anchor="start" font-weight="bold" fill="#333">3</text>
<polyline points="657.3,359.6 663.7,359.6" fill="none" stroke="#333" stroke-width="0.8"/>
<polyline points="661.4,359.6 661.4,366.5 676,366.5" fill="none" stroke="#333" stroke-width="0.7"/>
<text x="662.4" y="365.6" font-size="2.9" text-anchor="start" font-weight="bold" fill="#333">+11.850</text>
</g>
<g id="building">
<rect x="102.5" y="97.6" width="1103.5" height="2" fill="#161616"/>
<rect x="102.5" y="580.4" width="1103.5" height="2" fill="#161616"/>
<rect x="102.5" y="198" width="1103.5" height="4.4" fill="#161616"/>
<rect x="102.5" y="478.7" width="1103.5" height="3.4" fill="#161616"/>
<rect x="101.4" y="97.6" width="3.2" height="104.8" fill="#161616"/>
<rect x="104.6" y="97.6" width="1.7" height="104.8" fill="#4a4a4a"/>
<rect x="1203.9" y="97.6" width="2.7" height="104.8" fill="#161616"/>
<rect x="1201.8" y="98.6" width="2.1" height="102.8" fill="#d0d0d0"/>
<line x1="1201.5" y1="97.6" x2="1201.5" y2="202.4" stroke="#333" stroke-width="0.8"/>
<rect x="101.4" y="478.7" width="3.2" height="103.7" fill="#161616"/>
<rect x="104.6" y="478.7" width="1.7" height="103.7" fill="#4a4a4a"/>
<rect x="1203.9" y="478.7" width="2.7" height="103.7" fill="#161616"/>
<rect x="1201.8" y="479.7" width="2.1" height="101.7" fill="#d0d0d0"/>
<line x1="1201.5" y1="478.7" x2="1201.5" y2="582.4" stroke="#333" stroke-width="0.8"/>
<rect x="101.6" y="202.4" width="3" height="276.3" fill="#d2d2d2"/>
<line x1="101.7" y1="202.4" x2="101.7" y2="478.7" stroke="#555" stroke-width="0.6"/>
<line x1="105" y1="202.4" x2="105" y2="478.7" stroke="#666" stroke-width="1.3"/>
<line x1="105" y1="203.5" x2="105" y2="478.7" stroke="#111" stroke-width="1.5" stroke-dasharray="1.3 3.2"/>
<rect x="1202.4" y="202.4" width="3" height="276.3" fill="#d2d2d2"/>
<line x1="1205.4" y1="202.4" x2="1205.4" y2="478.7" stroke="#555" stroke-width="0.6"/>
<line x1="1202.2" y1="202.4" x2="1202.2" y2="478.7" stroke="#666" stroke-width="1.3"/>
<line x1="1202.2" y1="203.5" x2="1202.2" y2="478.7" stroke="#111" stroke-width="1.5" stroke-dasharray="1.3 3.2"/>
<rect x="98.4" y="99.3" width="3.2" height="2" fill="#fff" stroke="#222" stroke-width="0.7"/>
<rect x="1206.6" y="99.3" width="3.3" height="2" fill="#fff" stroke="#222" stroke-width="0.7"/>
<rect x="98.4" y="108.52" width="3.2" height="2" fill="#fff" stroke="#222" stroke-width="0.7"/>
<rect x="1206.6" y="108.52" width="3.3" height="2" fill="#fff" stroke="#222" stroke-width="0.7"/>
<rect x="98.4" y="117.74" width="3.2" height="2" fill="#fff" stroke="#222" stroke-width="0.7"/>
<rect x="1206.6" y="117.74" width="3.3" height="2" fill="#fff" stroke="#222" stroke-width="0.7"/>
<rect x="98.4" y="126.96" width="3.2" height="2" fill="#fff" stroke="#222" stroke-width="0.7"/>
<rect x="1206.6" y="126.96" width="3.3" height="2" fill="#fff" stroke="#222" stroke-width="0.7"/>
<rect x="98.4" y="136.18" width="3.2" height="2" fill="#fff" stroke="#222" stroke-width="0.7"/>
<rect x="1206.6" y="136.18" width="3.3" height="2" fill="#fff" stroke="#222" stroke-width="0.7"/>
<rect x="98.4" y="145.4" width="3.2" height="2" fill="#fff" stroke="#222" stroke-width="0.7"/>
<rect x="1206.6" y="145.4" width="3.3" height="2" fill="#fff" stroke="#222" stroke-width="0.7"/>
<rect x="98.4" y="154.62" width="3.2" height="2" fill="#fff" stroke="#222" stroke-width="0.7"/>
<rect x="1206.6" y="154.62" width="3.3" height="2" fill="#fff" stroke="#222" stroke-width="0.7"/>
<rect x="98.4" y="163.84" width="3.2" height="2" fill="#fff" stroke="#222" stroke-width="0.7"/>
<rect x="1206.6" y="163.84" width="3.3" height="2" fill="#fff" stroke="#222" stroke-width="0.7"/>
<rect x="98.4" y="173.06" width="3.2" height="2" fill="#fff" stroke="#222" stroke-width="0.7"/>
<rect x="1206.6" y="173.06" width="3.3" height="2" fill="#fff" stroke="#222" stroke-width="0.7"/>
<rect x="98.4" y="182.28" width="3.2" height="2" fill="#fff" stroke="#222" stroke-width="0.7"/>
<rect x="1206.6" y="182.28" width="3.3" height="2" fill="#fff" stroke="#222" stroke-width="0.7"/>
<rect x="98.4" y="191.5" width="3.2" height="2" fill="#fff" stroke="#222" stroke-width="0.7"/>
<rect x="1206.6" y="191.5" width="3.3" height="2" fill="#fff" stroke="#222" stroke-width="0.7"/>
<rect x="98.4" y="200.72" width="3.2" height="2" fill="#fff" stroke="#222" stroke-width="0.7"/>
<rect x="1206.6" y="200.72" width="3.3" height="2" fill="#fff" stroke="#222" stroke-width="0.7"/>
<rect x="98.4" y="209.94" width="3.2" height="2" fill="#fff" stroke="#222" stroke-width="0.7"/>
<rect x="1206.6" y="209.94" width="3.3" height="2" fill="#fff" stroke="#222" stroke-width="0.7"/>
<rect x="98.4" y="219.16" width="3.2" height="2" fill="#fff" stroke="#222" stroke-width="0.7"/>
<rect x="1206.6" y="219.16" width="3.3" height="2" fill="#fff" stroke="#222" stroke-width="0.7"/>
<rect x="98.4" y="228.38" width="3.2" height="2" fill="#fff" stroke="#222" stroke-width="0.7"/>
<rect x="1206.6" y="228.38" width="3.3" height="2" fill="#fff" stroke="#222" stroke-width="0.7"/>
<rect x="98.4" y="237.6" width="3.2" height="2" fill="#fff" stroke="#222" stroke-width="0.7"/>
<rect x="1206.6" y="237.6" width="3.3" height="2" fill="#fff" stroke="#222" stroke-width="0.7"/>
<rect x="98.4" y="246.82" width="3.2" height="2" fill="#fff" stroke="#222" stroke-width="0.7"/>
<rect x="1206.6" y="246.82" width="3.3" height="2" fill="#fff" stroke="#222" stroke-width="0.7"/>
<rect x="98.4" y="256.04" width="3.2" height="2" fill="#fff" stroke="#222" stroke-width="0.7"/>
<rect x="1206.6" y="256.04" width="3.3" height="2" fill="#fff" stroke="#222" stroke-width="0.7"/>
<rect x="98.4" y="265.26" width="3.2" height="2" fill="#fff" stroke="#222" stroke-width="0.7"/>
<rect x="1206.6" y="265.26" width="3.3" height="2" fill="#fff" stroke="#222" stroke-width="0.7"/>
<rect x="98.4" y="274.48" width="3.2" height="2" fill="#fff" stroke="#222" stroke-width="0.7"/>
<rect x="1206.6" y="274.48" width="3.3" height="2" fill="#fff" stroke="#222" stroke-width="0.7"/>
<rect x="98.4" y="283.7" width="3.2" height="2" fill="#fff" stroke="#222" stroke-width="0.7"/>
<rect x="1206.6" y="283.7" width="3.3" height="2" fill="#fff" stroke="#222" stroke-width="0.7"/>
<rect x="98.4" y="292.92" width="3.2" height="2" fill="#fff" stroke="#222" stroke-width="0.7"/>
<rect x="1206.6" y="292.92" width="3.3" height="2" fill="#fff" stroke="#222" stroke-width="0.7"/>
<rect x="98.4" y="302.14" width="3.2" height="2" fill="#fff" stroke="#222" stroke-width="0.7"/>
<rect x="1206.6" y="302.14" width="3.3" height="2" fill="#fff" stroke="#222" stroke-width="0.7"/>
<rect x="98.4" y="311.36" width="3.2" height="2" fill="#fff" stroke="#222" stroke-width="0.7"/>
<rect x="1206.6" y="311.36" width="3.3" height="2" fill="#fff" stroke="#222" stroke-width="0.7"/>
<rect x="98.4" y="320.58" width="3.2" height="2" fill="#fff" stroke="#222" stroke-width="0.7"/>
<rect x="1206.6" y="320.58" width="3.3" height="2" fill="#fff" stroke="#222" stroke-width="0.7"/>
<rect x="98.4" y="329.8" width="3.2" height="2" fill="#fff" stroke="#222" stroke-width="0.7"/>
<rect x="1206.6" y="329.8" width="3.3" height="2" fill="#fff" stroke="#222" stroke-width="0.7"/>
<rect x="98.4" y="339.02" width="3.2" height="2" fill="#fff" stroke="#222" stroke-width="0.7"/>
<rect x="1206.6" y="339.02" width="3.3" height="2" fill="#fff" stroke="#222" stroke-width="0.7"/>
<rect x="98.4" y="348.24" width="3.2" height="2" fill="#fff" stroke="#222" stroke-width="0.7"/>
<rect x="1206.6" y="348.24" width="3.3" height="2" fill="#fff" stroke="#222" stroke-width="0.7"/>
<rect x="98.4" y="357.46" width="3.2" height="2" fill="#fff" stroke="#222" stroke-width="0.7"/>
<rect x="1206.6" y="357.46" width="3.3" height="2" fill="#fff" stroke="#222" stroke-width="0.7"/>
<rect x="98.4" y="366.68" width="3.2" height="2" fill="#fff" stroke="#222" stroke-width="0.7"/>
<rect x="1206.6" y="366.68" width="3.3" height="2" fill="#fff" stroke="#222" stroke-width="0.7"/>
<rect x="98.4" y="375.9" width="3.2" height="2" fill="#fff" stroke="#222" stroke-width="0.7"/>
<rect x="1206.6" y="375.9" width="3.3" height="2" fill="#fff" stroke="#222" stroke-width="0.7"/>
<rect x="98.4" y="385.12" width="3.2" height="2" fill="#fff" stroke="#222" stroke-width="0.7"/>
<rect x="1206.6" y="385.12" width="3.3" height="2" fill="#fff" stroke="#222" stroke-width="0.7"/>
<rect x="98.4" y="394.34" width="3.2" height="2" fill="#fff" stroke="#222" stroke-width="0.7"/>
<rect x="1206.6" y="394.34" width="3.3" height="2" fill="#fff" stroke="#222" stroke-width="0.7"/>
<rect x="98.4" y="403.56" width="3.2" height="2" fill="#fff" stroke="#222" stroke-width="0.7"/>
<rect x="1206.6" y="403.56" width="3.3" height="2" fill="#fff" stroke="#222" stroke-width="0.7"/>
<rect x="98.4" y="412.78" width="3.2" height="2" fill="#fff" stroke="#222" stroke-width="0.7"/>
<rect x="1206.6" y="412.78" width="3.3" height="2" fill="#fff" stroke="#222" stroke-width="0.7"/>
<rect x="98.4" y="422" width="3.2" height="2" fill="#fff" stroke="#222" stroke-width="0.7"/>
<rect x="1206.6" y="422" width="3.3" height="2" fill="#fff" stroke="#222" stroke-width="0.7"/>
<rect x="98.4" y="431.22" width="3.2" height="2" fill="#fff" stroke="#222" stroke-width="0.7"/>
<rect x="1206.6" y="431.22" width="3.3" height="2" fill="#fff" stroke="#222" stroke-width="0.7"/>
<rect x="98.4" y="440.44" width="3.2" height="2" fill="#fff" stroke="#222" stroke-width="0.7"/>
<rect x="1206.6" y="440.44" width="3.3" height="2" fill="#fff" stroke="#222" stroke-width="0.7"/>
<rect x="98.4" y="449.66" width="3.2" height="2" fill="#fff" stroke="#222" stroke-width="0.7"/>
<rect x="1206.6" y="449.66" width="3.3" height="2" fill="#fff" stroke="#222" stroke-width="0.7"/>
<rect x="98.4" y="458.88" width="3.2" height="2" fill="#fff" stroke="#222" stroke-width="0.7"/>
<rect x="1206.6" y="458.88" width="3.3" height="2" fill="#fff" stroke="#222" stroke-width="0.7"/>
<rect x="98.4" y="468.1" width="3.2" height="2" fill="#fff" stroke="#222" stroke-width="0.7"/>
<rect x="1206.6" y="468.1" width="3.3" height="2" fill="#fff" stroke="#222" stroke-width="0.7"/>
<rect x="98.4" y="477.32" width="3.2" height="2" fill="#fff" stroke="#222" stroke-width="0.7"/>
<rect x="1206.6" y="477.32" width="3.3" height="2" fill="#fff" stroke="#222" stroke-width="0.7"/>
<rect x="98.4" y="486.54" width="3.2" height="2" fill="#fff" stroke="#222" stroke-width="0.7"/>
<rect x="1206.6" y="486.54" width="3.3" height="2" fill="#fff" stroke="#222" stroke-width="0.7"/>
<rect x="98.4" y="495.76" width="3.2" height="2" fill="#fff" stroke="#222" stroke-width="0.7"/>
<rect x="1206.6" y="495.76" width="3.3" height="2" fill="#fff" stroke="#222" stroke-width="0.7"/>
<rect x="98.4" y="504.98" width="3.2" height="2" fill="#fff" stroke="#222" stroke-width="0.7"/>
<rect x="1206.6" y="504.98" width="3.3" height="2" fill="#fff" stroke="#222" stroke-width="0.7"/>
<rect x="98.4" y="514.2" width="3.2" height="2" fill="#fff" stroke="#222" stroke-width="0.7"/>
<rect x="1206.6" y="514.2" width="3.3" height="2" fill="#fff" stroke="#222" stroke-width="0.7"/>
<rect x="98.4" y="523.42" width="3.2" height="2" fill="#fff" stroke="#222" stroke-width="0.7"/>
<rect x="1206.6" y="523.42" width="3.3" height="2" fill="#fff" stroke="#222" stroke-width="0.7"/>
<rect x="98.4" y="532.64" width="3.2" height="2" fill="#fff" stroke="#222" stroke-width="0.7"/>
<rect x="1206.6" y="532.64" width="3.3" height="2" fill="#fff" stroke="#222" stroke-width="0.7"/>
<rect x="98.4" y="541.86" width="3.2" height="2" fill="#fff" stroke="#222" stroke-width="0.7"/>
<rect x="1206.6" y="541.86" width="3.3" height="2" fill="#fff" stroke="#222" stroke-width="0.7"/>
<rect x="98.4" y="551.08" width="3.2" height="2" fill="#fff" stroke="#222" stroke-width="0.7"/>
<rect x="1206.6" y="551.08" width="3.3" height="2" fill="#fff" stroke="#222" stroke-width="0.7"/>
<rect x="98.4" y="560.3" width="3.2" height="2" fill="#fff" stroke="#222" stroke-width="0.7"/>
<rect x="1206.6" y="560.3" width="3.3" height="2" fill="#fff" stroke="#222" stroke-width="0.7"/>
<rect x="98.4" y="569.52" width="3.2" height="2" fill="#fff" stroke="#222" stroke-width="0.7"/>
<rect x="1206.6" y="569.52" width="3.3" height="2" fill="#fff" stroke="#222" stroke-width="0.7"/>
<rect x="98.4" y="578.74" width="3.2" height="2" fill="#fff" stroke="#222" stroke-width="0.7"/>
<rect x="1206.6" y="578.74" width="3.3" height="2" fill="#fff" stroke="#222" stroke-width="0.7"/>
<rect x="323.6" y="99" width="3" height="101" fill="#161616"/>
<rect x="323.6" y="480" width="3" height="101" fill="#161616"/>
<rect x="543.2" y="99" width="3" height="101" fill="#161616"/>
<rect x="543.2" y="480" width="3" height="101" fill="#161616"/>
<rect x="762.6" y="99" width="3" height="101" fill="#161616"/>
<rect x="762.6" y="480" width="3" height="101" fill="#161616"/>
<rect x="982.2" y="99" width="3" height="101" fill="#161616"/>
<rect x="982.2" y="480" width="3" height="101" fill="#161616"/>
<rect x="651.1" y="97.6" width="5.9" height="484.8" fill="#2e2e2e"/>
<rect x="652.7" y="97.6" width="2.8" height="484.8" fill="#121212"/>
<rect x="105.1" y="93.9" width="12.8" height="3.8" fill="#6e6e6e"/>
<rect x="105.1" y="93.9" width="1.1" height="3.8" fill="#141414"/>
<rect x="111" y="93.9" width="1.1" height="3.8" fill="#141414"/>
<rect x="116.8" y="93.9" width="1.1" height="3.8" fill="#141414"/>
<rect x="107.4" y="94.6" width="1.6" height="3.1" fill="#c4c4c4"/>
<rect x="113.4" y="94.6" width="1.6" height="3.1" fill="#c4c4c4"/>
<rect x="132.6" y="93.9" width="12.8" height="3.8" fill="#6e6e6e"/>
<rect x="132.6" y="93.9" width="1.1" height="3.8" fill="#141414"/>
<rect x="138.5" y="93.9" width="1.1" height="3.8" fill="#141414"/>
<rect x="144.3" y="93.9" width="1.1" height="3.8" fill="#141414"/>
<rect x="134.9" y="94.6" width="1.6" height="3.1" fill="#c4c4c4"/>
<rect x="140.9" y="94.6" width="1.6" height="3.1" fill="#c4c4c4"/>
<rect x="160.1" y="93.9" width="12.8" height="3.8" fill="#6e6e6e"/>
<rect x="160.1" y="93.9" width="1.1" height="3.8" fill="#141414"/>
<rect x="166" y="93.9" width="1.1" height="3.8" fill="#141414"/>
<rect x="171.8" y="93.9" width="1.1" height="3.8" fill="#141414"/>
<rect x="162.4" y="94.6" width="1.6" height="3.1" fill="#c4c4c4"/>
<rect x="168.4" y="94.6" width="1.6" height="3.1" fill="#c4c4c4"/>
<rect x="185.1" y="93.9" width="12.8" height="3.8" fill="#6e6e6e"/>
<rect x="185.1" y="93.9" width="1.1" height="3.8" fill="#141414"/>
<rect x="191" y="93.9" width="1.1" height="3.8" fill="#141414"/>
<rect x="196.8" y="93.9" width="1.1" height="3.8" fill="#141414"/>
<rect x="187.4" y="94.6" width="1.6" height="3.1" fill="#c4c4c4"/>
<rect x="193.4" y="94.6" width="1.6" height="3.1" fill="#c4c4c4"/>
<rect x="209.1" y="93.9" width="12.8" height="3.8" fill="#6e6e6e"/>
<rect x="209.1" y="93.9" width="1.1" height="3.8" fill="#141414"/>
<rect x="215" y="93.9" width="1.1" height="3.8" fill="#141414"/>
<rect x="220.8" y="93.9" width="1.1" height="3.8" fill="#141414"/>
<rect x="211.4" y="94.6" width="1.6" height="3.1" fill="#c4c4c4"/>
<rect x="217.4" y="94.6" width="1.6" height="3.1" fill="#c4c4c4"/>
<rect x="233.4" y="93.9" width="12.8" height="3.8" fill="#6e6e6e"/>
<rect x="233.4" y="93.9" width="1.1" height="3.8" fill="#141414"/>
<rect x="239.3" y="93.9" width="1.1" height="3.8" fill="#141414"/>
<rect x="245.1" y="93.9" width="1.1" height="3.8" fill="#141414"/>
<rect x="235.7" y="94.6" width="1.6" height="3.1" fill="#c4c4c4"/>
<rect x="241.7" y="94.6" width="1.6" height="3.1" fill="#c4c4c4"/>
<rect x="257.1" y="93.9" width="12.8" height="3.8" fill="#6e6e6e"/>
<rect x="257.1" y="93.9" width="1.1" height="3.8" fill="#141414"/>
<rect x="263" y="93.9" width="1.1" height="3.8" fill="#141414"/>
<rect x="268.8" y="93.9" width="1.1" height="3.8" fill="#141414"/>
<rect x="259.4" y="94.6" width="1.6" height="3.1" fill="#c4c4c4"/>
<rect x="265.4" y="94.6" width="1.6" height="3.1" fill="#c4c4c4"/>
<rect x="284.6" y="93.9" width="12.8" height="3.8" fill="#6e6e6e"/>
<rect x="284.6" y="93.9" width="1.1" height="3.8" fill="#141414"/>
<rect x="290.5" y="93.9" width="1.1" height="3.8" fill="#141414"/>
<rect x="296.3" y="93.9" width="1.1" height="3.8" fill="#141414"/>
<rect x="286.9" y="94.6" width="1.6" height="3.1" fill="#c4c4c4"/>
<rect x="292.9" y="94.6" width="1.6" height="3.1" fill="#c4c4c4"/>
<rect x="312.1" y="93.9" width="12.8" height="3.8" fill="#6e6e6e"/>
<rect x="312.1" y="93.9" width="1.1" height="3.8" fill="#141414"/>
<rect x="318" y="93.9" width="1.1" height="3.8" fill="#141414"/>
<rect x="323.8" y="93.9" width="1.1" height="3.8" fill="#141414"/>
<rect x="314.4" y="94.6" width="1.6" height="3.1" fill="#c4c4c4"/>
<rect x="320.4" y="94.6" width="1.6" height="3.1" fill="#c4c4c4"/>
<rect x="105.1" y="582.3" width="12.8" height="3.8" fill="#6e6e6e"/>
<rect x="105.1" y="582.3" width="1.1" height="3.8" fill="#141414"/>
<rect x="111" y="582.3" width="1.1" height="3.8" fill="#141414"/>
<rect x="116.8" y="582.3" width="1.1" height="3.8" fill="#141414"/>
<rect x="107.4" y="582.3" width="1.6" height="3.1" fill="#c4c4c4"/>
<rect x="113.4" y="582.3" width="1.6" height="3.1" fill="#c4c4c4"/>
<rect x="132.6" y="582.3" width="12.8" height="3.8" fill="#6e6e6e"/>
<rect x="132.6" y="582.3" width="1.1" height="3.8" fill="#141414"/>
<rect x="138.5" y="582.3" width="1.1" height="3.8" fill="#141414"/>
<rect x="144.3" y="582.3" width="1.1" height="3.8" fill="#141414"/>
<rect x="134.9" y="582.3" width="1.6" height="3.1" fill="#c4c4c4"/>
<rect x="140.9" y="582.3" width="1.6" height="3.1" fill="#c4c4c4"/>
<rect x="160.1" y="582.3" width="12.8" height="3.8" fill="#6e6e6e"/>
<rect x="160.1" y="582.3" width="1.1" height="3.8" fill="#141414"/>
<rect x="166" y="582.3" width="1.1" height="3.8" fill="#141414"/>
<rect x="171.8" y="582.3" width="1.1" height="3.8" fill="#141414"/>
<rect x="162.4" y="582.3" width="1.6" height="3.1" fill="#c4c4c4"/>
<rect x="168.4" y="582.3" width="1.6" height="3.1" fill="#c4c4c4"/>
<rect x="185.1" y="582.3" width="12.8" height="3.8" fill="#6e6e6e"/>
<rect x="185.1" y="582.3" width="1.1" height="3.8" fill="#141414"/>
<rect x="191" y="582.3" width="1.1" height="3.8" fill="#141414"/>
<rect x="196.8" y="582.3" width="1.1" height="3.8" fill="#141414"/>
<rect x="187.4" y="582.3" width="1.6" height="3.1" fill="#c4c4c4"/>
<rect x="193.4" y="582.3" width="1.6" height="3.1" fill="#c4c4c4"/>
<rect x="209.1" y="582.3" width="12.8" height="3.8" fill="#6e6e6e"/>
<rect x="209.1" y="582.3" width="1.1" height="3.8" fill="#141414"/>
<rect x="215" y="582.3" width="1.1" height="3.8" fill="#141414"/>
<rect x="220.8" y="582.3" width="1.1" height="3.8" fill="#141414"/>
<rect x="211.4" y="582.3" width="1.6" height="3.1" fill="#c4c4c4"/>
<rect x="217.4" y="582.3" width="1.6" height="3.1" fill="#c4c4c4"/>
<rect x="233.4" y="582.3" width="12.8" height="3.8" fill="#6e6e6e"/>
<rect x="233.4" y="582.3" width="1.1" height="3.8" fill="#141414"/>
<rect x="239.3" y="582.3" width="1.1" height="3.8" fill="#141414"/>
<rect x="245.1" y="582.3" width="1.1" height="3.8" fill="#141414"/>
<rect x="235.7" y="582.3" width="1.6" height="3.1" fill="#c4c4c4"/>
<rect x="241.7" y="582.3" width="1.6" height="3.1" fill="#c4c4c4"/>
<rect x="257.1" y="582.3" width="12.8" height="3.8" fill="#6e6e6e"/>
<rect x="257.1" y="582.3" width="1.1" height="3.8" fill="#141414"/>
<rect x="263" y="582.3" width="1.1" height="3.8" fill="#141414"/>
<rect x="268.8" y="582.3" width="1.1" height="3.8" fill="#141414"/>
<rect x="259.4" y="582.3" width="1.6" height="3.1" fill="#c4c4c4"/>
<rect x="265.4" y="582.3" width="1.6" height="3.1" fill="#c4c4c4"/>
<rect x="284.6" y="582.3" width="12.8" height="3.8" fill="#6e6e6e"/>
<rect x="284.6" y="582.3" width="1.1" height="3.8" fill="#141414"/>
<rect x="290.5" y="582.3" width="1.1" height="3.8" fill="#141414"/>
<rect x="296.3" y="582.3" width="1.1" height="3.8" fill="#141414"/>
<rect x="286.9" y="582.3" width="1.6" height="3.1" fill="#c4c4c4"/>
<rect x="292.9" y="582.3" width="1.6" height="3.1" fill="#c4c4c4"/>
<rect x="312.1" y="582.3" width="12.8" height="3.8" fill="#6e6e6e"/>
<rect x="312.1" y="582.3" width="1.1" height="3.8" fill="#141414"/>
<rect x="318" y="582.3" width="1.1" height="3.8" fill="#141414"/>
<rect x="323.8" y="582.3" width="1.1" height="3.8" fill="#141414"/>
<rect x="314.4" y="582.3" width="1.6" height="3.1" fill="#c4c4c4"/>
<rect x="320.4" y="582.3" width="1.6" height="3.1" fill="#c4c4c4"/>
<rect x="325" y="93.9" width="12.8" height="3.8" fill="#6e6e6e"/>
<rect x="325" y="93.9" width="1.1" height="3.8" fill="#141414"/>
<rect x="330.9" y="93.9" width="1.1" height="3.8" fill="#141414"/>
<rect x="336.7" y="93.9" width="1.1" height="3.8" fill="#141414"/>
<rect x="327.3" y="94.6" width="1.6" height="3.1" fill="#c4c4c4"/>
<rect x="333.3" y="94.6" width="1.6" height="3.1" fill="#c4c4c4"/>
<rect x="352.5" y="93.9" width="12.8" height="3.8" fill="#6e6e6e"/>
<rect x="352.5" y="93.9" width="1.1" height="3.8" fill="#141414"/>
<rect x="358.4" y="93.9" width="1.1" height="3.8" fill="#141414"/>
<rect x="364.2" y="93.9" width="1.1" height="3.8" fill="#141414"/>
<rect x="354.8" y="94.6" width="1.6" height="3.1" fill="#c4c4c4"/>
<rect x="360.8" y="94.6" width="1.6" height="3.1" fill="#c4c4c4"/>
<rect x="380" y="93.9" width="12.8" height="3.8" fill="#6e6e6e"/>
<rect x="380" y="93.9" width="1.1" height="3.8" fill="#141414"/>
<rect x="385.9" y="93.9" width="1.1" height="3.8" fill="#141414"/>
<rect x="391.7" y="93.9" width="1.1" height="3.8" fill="#141414"/>
<rect x="382.3" y="94.6" width="1.6" height="3.1" fill="#c4c4c4"/>
<rect x="388.3" y="94.6" width="1.6" height="3.1" fill="#c4c4c4"/>
<rect x="405" y="93.9" width="12.8" height="3.8" fill="#6e6e6e"/>
<rect x="405" y="93.9" width="1.1" height="3.8" fill="#141414"/>
<rect x="410.9" y="93.9" width="1.1" height="3.8" fill="#141414"/>
<rect x="416.7" y="93.9" width="1.1" height="3.8" fill="#141414"/>
<rect x="407.3" y="94.6" width="1.6" height="3.1" fill="#c4c4c4"/>
<rect x="413.3" y="94.6" width="1.6" height="3.1" fill="#c4c4c4"/>
<rect x="429" y="93.9" width="12.8" height="3.8" fill="#6e6e6e"/>
<rect x="429" y="93.9" width="1.1" height="3.8" fill="#141414"/>
<rect x="434.9" y="93.9" width="1.1" height="3.8" fill="#141414"/>
<rect x="440.7" y="93.9" width="1.1" height="3.8" fill="#141414"/>
<rect x="431.3" y="94.6" width="1.6" height="3.1" fill="#c4c4c4"/>
<rect x="437.3" y="94.6" width="1.6" height="3.1" fill="#c4c4c4"/>
<rect x="453.3" y="93.9" width="12.8" height="3.8" fill="#6e6e6e"/>
<rect x="453.3" y="93.9" width="1.1" height="3.8" fill="#141414"/>
<rect x="459.2" y="93.9" width="1.1" height="3.8" fill="#141414"/>
<rect x="465" y="93.9" width="1.1" height="3.8" fill="#141414"/>
<rect x="455.6" y="94.6" width="1.6" height="3.1" fill="#c4c4c4"/>
<rect x="461.6" y="94.6" width="1.6" height="3.1" fill="#c4c4c4"/>
<rect x="477" y="93.9" width="12.8" height="3.8" fill="#6e6e6e"/>
<rect x="477" y="93.9" width="1.1" height="3.8" fill="#141414"/>
<rect x="482.9" y="93.9" width="1.1" height="3.8" fill="#141414"/>
<rect x="488.7" y="93.9" width="1.1" height="3.8" fill="#141414"/>
<rect x="479.3" y="94.6" width="1.6" height="3.1" fill="#c4c4c4"/>
<rect x="485.3" y="94.6" width="1.6" height="3.1" fill="#c4c4c4"/>
<rect x="504.5" y="93.9" width="12.8" height="3.8" fill="#6e6e6e"/>
<rect x="504.5" y="93.9" width="1.1" height="3.8" fill="#141414"/>
<rect x="510.4" y="93.9" width="1.1" height="3.8" fill="#141414"/>
<rect x="516.2" y="93.9" width="1.1" height="3.8" fill="#141414"/>
<rect x="506.8" y="94.6" width="1.6" height="3.1" fill="#c4c4c4"/>
<rect x="512.8" y="94.6" width="1.6" height="3.1" fill="#c4c4c4"/>
<rect x="532" y="93.9" width="12.8" height="3.8" fill="#6e6e6e"/>
<rect x="532" y="93.9" width="1.1" height="3.8" fill="#141414"/>
<rect x="537.9" y="93.9" width="1.1" height="3.8" fill="#141414"/>
<rect x="543.7" y="93.9" width="1.1" height="3.8" fill="#141414"/>
<rect x="534.3" y="94.6" width="1.6" height="3.1" fill="#c4c4c4"/>
<rect x="540.3" y="94.6" width="1.6" height="3.1" fill="#c4c4c4"/>
<rect x="325" y="582.3" width="12.8" height="3.8" fill="#6e6e6e"/>
<rect x="325" y="582.3" width="1.1" height="3.8" fill="#141414"/>
<rect x="330.9" y="582.3" width="1.1" height="3.8" fill="#141414"/>
<rect x="336.7" y="582.3" width="1.1" height="3.8" fill="#141414"/>
<rect x="327.3" y="582.3" width="1.6" height="3.1" fill="#c4c4c4"/>
<rect x="333.3" y="582.3" width="1.6" height="3.1" fill="#c4c4c4"/>
<rect x="352.5" y="582.3" width="12.8" height="3.8" fill="#6e6e6e"/>
<rect x="352.5" y="582.3" width="1.1" height="3.8" fill="#141414"/>
<rect x="358.4" y="582.3" width="1.1" height="3.8" fill="#141414"/>
<rect x="364.2" y="582.3" width="1.1" height="3.8" fill="#141414"/>
<rect x="354.8" y="582.3" width="1.6" height="3.1" fill="#c4c4c4"/>
<rect x="360.8" y="582.3" width="1.6" height="3.1" fill="#c4c4c4"/>
<rect x="380" y="582.3" width="12.8" height="3.8" fill="#6e6e6e"/>
<rect x="380" y="582.3" width="1.1" height="3.8" fill="#141414"/>
<rect x="385.9" y="582.3" width="1.1" height="3.8" fill="#141414"/>
<rect x="391.7" y="582.3" width="1.1" height="3.8" fill="#141414"/>
<rect x="382.3" y="582.3" width="1.6" height="3.1" fill="#c4c4c4"/>
<rect x="388.3" y="582.3" width="1.6" height="3.1" fill="#c4c4c4"/>
<rect x="405" y="582.3" width="12.8" height="3.8" fill="#6e6e6e"/>
<rect x="405" y="582.3" width="1.1" height="3.8" fill="#141414"/>
<rect x="410.9" y="582.3" width="1.1" height="3.8" fill="#141414"/>
<rect x="416.7" y="582.3" width="1.1" height="3.8" fill="#141414"/>
<rect x="407.3" y="582.3" width="1.6" height="3.1" fill="#c4c4c4"/>
<rect x="413.3" y="582.3" width="1.6" height="3.1" fill="#c4c4c4"/>
<rect x="429" y="582.3" width="12.8" height="3.8" fill="#6e6e6e"/>
<rect x="429" y="582.3" width="1.1" height="3.8" fill="#141414"/>
<rect x="434.9" y="582.3" width="1.1" height="3.8" fill="#141414"/>
<rect x="440.7" y="582.3" width="1.1" height="3.8" fill="#141414"/>
<rect x="431.3" y="582.3" width="1.6" height="3.1" fill="#c4c4c4"/>
<rect x="437.3" y="582.3" width="1.6" height="3.1" fill="#c4c4c4"/>
<rect x="453.3" y="582.3" width="12.8" height="3.8" fill="#6e6e6e"/>
<rect x="453.3" y="582.3" width="1.1" height="3.8" fill="#141414"/>
<rect x="459.2" y="582.3" width="1.1" height="3.8" fill="#141414"/>
<rect x="465" y="582.3" width="1.1" height="3.8" fill="#141414"/>
<rect x="455.6" y="582.3" width="1.6" height="3.1" fill="#c4c4c4"/>
<rect x="461.6" y="582.3" width="1.6" height="3.1" fill="#c4c4c4"/>
<rect x="477" y="582.3" width="12.8" height="3.8" fill="#6e6e6e"/>
<rect x="477" y="582.3" width="1.1" height="3.8" fill="#141414"/>
<rect x="482.9" y="582.3" width="1.1" height="3.8" fill="#141414"/>
<rect x="488.7" y="582.3" width="1.1" height="3.8" fill="#141414"/>
<rect x="479.3" y="582.3" width="1.6" height="3.1" fill="#c4c4c4"/>
<rect x="485.3" y="582.3" width="1.6" height="3.1" fill="#c4c4c4"/>
<rect x="504.5" y="582.3" width="12.8" height="3.8" fill="#6e6e6e"/>
<rect x="504.5" y="582.3" width="1.1" height="3.8" fill="#141414"/>
<rect x="510.4" y="582.3" width="1.1" height="3.8" fill="#141414"/>
<rect x="516.2" y="582.3" width="1.1" height="3.8" fill="#141414"/>
<rect x="506.8" y="582.3" width="1.6" height="3.1" fill="#c4c4c4"/>
<rect x="512.8" y="582.3" width="1.6" height="3.1" fill="#c4c4c4"/>
<rect x="532" y="582.3" width="12.8" height="3.8" fill="#6e6e6e"/>
<rect x="532" y="582.3" width="1.1" height="3.8" fill="#141414"/>
<rect x="537.9" y="582.3" width="1.1" height="3.8" fill="#141414"/>
<rect x="543.7" y="582.3" width="1.1" height="3.8" fill="#141414"/>
<rect x="534.3" y="582.3" width="1.6" height="3.1" fill="#c4c4c4"/>
<rect x="540.3" y="582.3" width="1.6" height="3.1" fill="#c4c4c4"/>
<rect x="544.6" y="93.9" width="12.8" height="3.8" fill="#6e6e6e"/>
<rect x="544.6" y="93.9" width="1.1" height="3.8" fill="#141414"/>
<rect x="550.5" y="93.9" width="1.1" height="3.8" fill="#141414"/>
<rect x="556.3" y="93.9" width="1.1" height="3.8" fill="#141414"/>
<rect x="546.9" y="94.6" width="1.6" height="3.1" fill="#c4c4c4"/>
<rect x="552.9" y="94.6" width="1.6" height="3.1" fill="#c4c4c4"/>
<rect x="572.1" y="93.9" width="12.8" height="3.8" fill="#6e6e6e"/>
<rect x="572.1" y="93.9" width="1.1" height="3.8" fill="#141414"/>
<rect x="578" y="93.9" width="1.1" height="3.8" fill="#141414"/>
<rect x="583.8" y="93.9" width="1.1" height="3.8" fill="#141414"/>
<rect x="574.4" y="94.6" width="1.6" height="3.1" fill="#c4c4c4"/>
<rect x="580.4" y="94.6" width="1.6" height="3.1" fill="#c4c4c4"/>
<rect x="599.6" y="93.9" width="12.8" height="3.8" fill="#6e6e6e"/>
<rect x="599.6" y="93.9" width="1.1" height="3.8" fill="#141414"/>
<rect x="605.5" y="93.9" width="1.1" height="3.8" fill="#141414"/>
<rect x="611.3" y="93.9" width="1.1" height="3.8" fill="#141414"/>
<rect x="601.9" y="94.6" width="1.6" height="3.1" fill="#c4c4c4"/>
<rect x="607.9" y="94.6" width="1.6" height="3.1" fill="#c4c4c4"/>
<rect x="624.6" y="93.9" width="12.8" height="3.8" fill="#6e6e6e"/>
<rect x="624.6" y="93.9" width="1.1" height="3.8" fill="#141414"/>
<rect x="630.5" y="93.9" width="1.1" height="3.8" fill="#141414"/>
<rect x="636.3" y="93.9" width="1.1" height="3.8" fill="#141414"/>
<rect x="626.9" y="94.6" width="1.6" height="3.1" fill="#c4c4c4"/>
<rect x="632.9" y="94.6" width="1.6" height="3.1" fill="#c4c4c4"/>
<rect x="648.6" y="93.9" width="12.8" height="3.8" fill="#6e6e6e"/>
<rect x="648.6" y="93.9" width="1.1" height="3.8" fill="#141414"/>
<rect x="654.5" y="93.9" width="1.1" height="3.8" fill="#141414"/>
<rect x="660.3" y="93.9" width="1.1" height="3.8" fill="#141414"/>
<rect x="650.9" y="94.6" width="1.6" height="3.1" fill="#c4c4c4"/>
<rect x="656.9" y="94.6" width="1.6" height="3.1" fill="#c4c4c4"/>
<rect x="672.9" y="93.9" width="12.8" height="3.8" fill="#6e6e6e"/>
<rect x="672.9" y="93.9" width="1.1" height="3.8" fill="#141414"/>
<rect x="678.8" y="93.9" width="1.1" height="3.8" fill="#141414"/>
<rect x="684.6" y="93.9" width="1.1" height="3.8" fill="#141414"/>
<rect x="675.2" y="94.6" width="1.6" height="3.1" fill="#c4c4c4"/>
<rect x="681.2" y="94.6" width="1.6" height="3.1" fill="#c4c4c4"/>
<rect x="696.6" y="93.9" width="12.8" height="3.8" fill="#6e6e6e"/>
<rect x="696.6" y="93.9" width="1.1" height="3.8" fill="#141414"/>
<rect x="702.5" y="93.9" width="1.1" height="3.8" fill="#141414"/>
<rect x="708.3" y="93.9" width="1.1" height="3.8" fill="#141414"/>
<rect x="698.9" y="94.6" width="1.6" height="3.1" fill="#c4c4c4"/>
<rect x="704.9" y="94.6" width="1.6" height="3.1" fill="#c4c4c4"/>
<rect x="724.1" y="93.9" width="12.8" height="3.8" fill="#6e6e6e"/>
<rect x="724.1" y="93.9" width="1.1" height="3.8" fill="#141414"/>
<rect x="730" y="93.9" width="1.1" height="3.8" fill="#141414"/>
<rect x="735.8" y="93.9" width="1.1" height="3.8" fill="#141414"/>
<rect x="726.4" y="94.6" width="1.6" height="3.1" fill="#c4c4c4"/>
<rect x="732.4" y="94.6" width="1.6" height="3.1" fill="#c4c4c4"/>
<rect x="751.6" y="93.9" width="12.8" height="3.8" fill="#6e6e6e"/>
<rect x="751.6" y="93.9" width="1.1" height="3.8" fill="#141414"/>
<rect x="757.5" y="93.9" width="1.1" height="3.8" fill="#141414"/>
<rect x="763.3" y="93.9" width="1.1" height="3.8" fill="#141414"/>
<rect x="753.9" y="94.6" width="1.6" height="3.1" fill="#c4c4c4"/>
<rect x="759.9" y="94.6" width="1.6" height="3.1" fill="#c4c4c4"/>
<rect x="544.6" y="582.3" width="12.8" height="3.8" fill="#6e6e6e"/>
<rect x="544.6" y="582.3" width="1.1" height="3.8" fill="#141414"/>
<rect x="550.5" y="582.3" width="1.1" height="3.8" fill="#141414"/>
<rect x="556.3" y="582.3" width="1.1" height="3.8" fill="#141414"/>
<rect x="546.9" y="582.3" width="1.6" height="3.1" fill="#c4c4c4"/>
<rect x="552.9" y="582.3" width="1.6" height="3.1" fill="#c4c4c4"/>
<rect x="572.1" y="582.3" width="12.8" height="3.8" fill="#6e6e6e"/>
<rect x="572.1" y="582.3" width="1.1" height="3.8" fill="#141414"/>
<rect x="578" y="582.3" width="1.1" height="3.8" fill="#141414"/>
<rect x="583.8" y="582.3" width="1.1" height="3.8" fill="#141414"/>
<rect x="574.4" y="582.3" width="1.6" height="3.1" fill="#c4c4c4"/>
<rect x="580.4" y="582.3" width="1.6" height="3.1" fill="#c4c4c4"/>
<rect x="599.6" y="582.3" width="12.8" height="3.8" fill="#6e6e6e"/>
<rect x="599.6" y="582.3" width="1.1" height="3.8" fill="#141414"/>
<rect x="605.5" y="582.3" width="1.1" height="3.8" fill="#141414"/>
<rect x="611.3" y="582.3" width="1.1" height="3.8" fill="#141414"/>
<rect x="601.9" y="582.3" width="1.6" height="3.1" fill="#c4c4c4"/>
<rect x="607.9" y="582.3" width="1.6" height="3.1" fill="#c4c4c4"/>
<rect x="624.6" y="582.3" width="12.8" height="3.8" fill="#6e6e6e"/>
<rect x="624.6" y="582.3" width="1.1" height="3.8" fill="#141414"/>
<rect x="630.5" y="582.3" width="1.1" height="3.8" fill="#141414"/>
<rect x="636.3" y="582.3" width="1.1" height="3.8" fill="#141414"/>
<rect x="626.9" y="582.3" width="1.6" height="3.1" fill="#c4c4c4"/>
<rect x="632.9" y="582.3" width="1.6" height="3.1" fill="#c4c4c4"/>
<rect x="648.6" y="582.3" width="12.8" height="3.8" fill="#6e6e6e"/>
<rect x="648.6" y="582.3" width="1.1" height="3.8" fill="#141414"/>
<rect x="654.5" y="582.3" width="1.1" height="3.8" fill="#141414"/>
<rect x="660.3" y="582.3" width="1.1" height="3.8" fill="#141414"/>
<rect x="650.9" y="582.3" width="1.6" height="3.1" fill="#c4c4c4"/>
<rect x="656.9" y="582.3" width="1.6" height="3.1" fill="#c4c4c4"/>
<rect x="672.9" y="582.3" width="12.8" height="3.8" fill="#6e6e6e"/>
<rect x="672.9" y="582.3" width="1.1" height="3.8" fill="#141414"/>
<rect x="678.8" y="582.3" width="1.1" height="3.8" fill="#141414"/>
<rect x="684.6" y="582.3" width="1.1" height="3.8" fill="#141414"/>
<rect x="675.2" y="582.3" width="1.6" height="3.1" fill="#c4c4c4"/>
<rect x="681.2" y="582.3" width="1.6" height="3.1" fill="#c4c4c4"/>
<rect x="696.6" y="582.3" width="12.8" height="3.8" fill="#6e6e6e"/>
<rect x="696.6" y="582.3" width="1.1" height="3.8" fill="#141414"/>
<rect x="702.5" y="582.3" width="1.1" height="3.8" fill="#141414"/>
<rect x="708.3" y="582.3" width="1.1" height="3.8" fill="#141414"/>
<rect x="698.9" y="582.3" width="1.6" height="3.1" fill="#c4c4c4"/>
<rect x="704.9" y="582.3" width="1.6" height="3.1" fill="#c4c4c4"/>
<rect x="724.1" y="582.3" width="12.8" height="3.8" fill="#6e6e6e"/>
<rect x="724.1" y="582.3" width="1.1" height="3.8" fill="#141414"/>
<rect x="730" y="582.3" width="1.1" height="3.8" fill="#141414"/>
<rect x="735.8" y="582.3" width="1.1" height="3.8" fill="#141414"/>
<rect x="726.4" y="582.3" width="1.6" height="3.1" fill="#c4c4c4"/>
<rect x="732.4" y="582.3" width="1.6" height="3.1" fill="#c4c4c4"/>
<rect x="751.6" y="582.3" width="12.8" height="3.8" fill="#6e6e6e"/>
<rect x="751.6" y="582.3" width="1.1" height="3.8" fill="#141414"/>
<rect x="757.5" y="582.3" width="1.1" height="3.8" fill="#141414"/>
<rect x="763.3" y="582.3" width="1.1" height="3.8" fill="#141414"/>
<rect x="753.9" y="582.3" width="1.6" height="3.1" fill="#c4c4c4"/>
<rect x="759.9" y="582.3" width="1.6" height="3.1" fill="#c4c4c4"/>
<rect x="764" y="93.9" width="12.8" height="3.8" fill="#6e6e6e"/>
<rect x="764" y="93.9" width="1.1" height="3.8" fill="#141414"/>
<rect x="769.9" y="93.9" width="1.1" height="3.8" fill="#141414"/>
<rect x="775.7" y="93.9" width="1.1" height="3.8" fill="#141414"/>
<rect x="766.3" y="94.6" width="1.6" height="3.1" fill="#c4c4c4"/>
<rect x="772.3" y="94.6" width="1.6" height="3.1" fill="#c4c4c4"/>
<rect x="791.5" y="93.9" width="12.8" height="3.8" fill="#6e6e6e"/>
<rect x="791.5" y="93.9" width="1.1" height="3.8" fill="#141414"/>
<rect x="797.4" y="93.9" width="1.1" height="3.8" fill="#141414"/>
<rect x="803.2" y="93.9" width="1.1" height="3.8" fill="#141414"/>
<rect x="793.8" y="94.6" width="1.6" height="3.1" fill="#c4c4c4"/>
<rect x="799.8" y="94.6" width="1.6" height="3.1" fill="#c4c4c4"/>
<rect x="819" y="93.9" width="12.8" height="3.8" fill="#6e6e6e"/>
<rect x="819" y="93.9" width="1.1" height="3.8" fill="#141414"/>
<rect x="824.9" y="93.9" width="1.1" height="3.8" fill="#141414"/>
<rect x="830.7" y="93.9" width="1.1" height="3.8" fill="#141414"/>
<rect x="821.3" y="94.6" width="1.6" height="3.1" fill="#c4c4c4"/>
<rect x="827.3" y="94.6" width="1.6" height="3.1" fill="#c4c4c4"/>
<rect x="844" y="93.9" width="12.8" height="3.8" fill="#6e6e6e"/>
<rect x="844" y="93.9" width="1.1" height="3.8" fill="#141414"/>
<rect x="849.9" y="93.9" width="1.1" height="3.8" fill="#141414"/>
<rect x="855.7" y="93.9" width="1.1" height="3.8" fill="#141414"/>
<rect x="846.3" y="94.6" width="1.6" height="3.1" fill="#c4c4c4"/>
<rect x="852.3" y="94.6" width="1.6" height="3.1" fill="#c4c4c4"/>
<rect x="868" y="93.9" width="12.8" height="3.8" fill="#6e6e6e"/>
<rect x="868" y="93.9" width="1.1" height="3.8" fill="#141414"/>
<rect x="873.9" y="93.9" width="1.1" height="3.8" fill="#141414"/>
<rect x="879.7" y="93.9" width="1.1" height="3.8" fill="#141414"/>
<rect x="870.3" y="94.6" width="1.6" height="3.1" fill="#c4c4c4"/>
<rect x="876.3" y="94.6" width="1.6" height="3.1" fill="#c4c4c4"/>
<rect x="892.3" y="93.9" width="12.8" height="3.8" fill="#6e6e6e"/>
<rect x="892.3" y="93.9" width="1.1" height="3.8" fill="#141414"/>
<rect x="898.2" y="93.9" width="1.1" height="3.8" fill="#141414"/>
<rect x="904" y="93.9" width="1.1" height="3.8" fill="#141414"/>
<rect x="894.6" y="94.6" width="1.6" height="3.1" fill="#c4c4c4"/>
<rect x="900.6" y="94.6" width="1.6" height="3.1" fill="#c4c4c4"/>
<rect x="916" y="93.9" width="12.8" height="3.8" fill="#6e6e6e"/>
<rect x="916" y="93.9" width="1.1" height="3.8" fill="#141414"/>
<rect x="921.9" y="93.9" width="1.1" height="3.8" fill="#141414"/>
<rect x="927.7" y="93.9" width="1.1" height="3.8" fill="#141414"/>
<rect x="918.3" y="94.6" width="1.6" height="3.1" fill="#c4c4c4"/>
<rect x="924.3" y="94.6" width="1.6" height="3.1" fill="#c4c4c4"/>
<rect x="943.5" y="93.9" width="12.8" height="3.8" fill="#6e6e6e"/>
<rect x="943.5" y="93.9" width="1.1" height="3.8" fill="#141414"/>
<rect x="949.4" y="93.9" width="1.1" height="3.8" fill="#141414"/>
<rect x="955.2" y="93.9" width="1.1" height="3.8" fill="#141414"/>
<rect x="945.8" y="94.6" width="1.6" height="3.1" fill="#c4c4c4"/>
<rect x="951.8" y="94.6" width="1.6" height="3.1" fill="#c4c4c4"/>
<rect x="971" y="93.9" width="12.8" height="3.8" fill="#6e6e6e"/>
<rect x="971" y="93.9" width="1.1" height="3.8" fill="#141414"/>
<rect x="976.9" y="93.9" width="1.1" height="3.8" fill="#141414"/>
<rect x="982.7" y="93.9" width="1.1" height="3.8" fill="#141414"/>
<rect x="973.3" y="94.6" width="1.6" height="3.1" fill="#c4c4c4"/>
<rect x="979.3" y="94.6" width="1.6" height="3.1" fill="#c4c4c4"/>
<rect x="764" y="582.3" width="12.8" height="3.8" fill="#6e6e6e"/>
<rect x="764" y="582.3" width="1.1" height="3.8" fill="#141414"/>
<rect x="769.9" y="582.3" width="1.1" height="3.8" fill="#141414"/>
<rect x="775.7" y="582.3" width="1.1" height="3.8" fill="#141414"/>
<rect x="766.3" y="582.3" width="1.6" height="3.1" fill="#c4c4c4"/>
<rect x="772.3" y="582.3" width="1.6" height="3.1" fill="#c4c4c4"/>
<rect x="791.5" y="582.3" width="12.8" height="3.8" fill="#6e6e6e"/>
<rect x="791.5" y="582.3" width="1.1" height="3.8" fill="#141414"/>
<rect x="797.4" y="582.3" width="1.1" height="3.8" fill="#141414"/>
<rect x="803.2" y="582.3" width="1.1" height="3.8" fill="#141414"/>
<rect x="793.8" y="582.3" width="1.6" height="3.1" fill="#c4c4c4"/>
<rect x="799.8" y="582.3" width="1.6" height="3.1" fill="#c4c4c4"/>
<rect x="819" y="582.3" width="12.8" height="3.8" fill="#6e6e6e"/>
<rect x="819" y="582.3" width="1.1" height="3.8" fill="#141414"/>
<rect x="824.9" y="582.3" width="1.1" height="3.8" fill="#141414"/>
<rect x="830.7" y="582.3" width="1.1" height="3.8" fill="#141414"/>
<rect x="821.3" y="582.3" width="1.6" height="3.1" fill="#c4c4c4"/>
<rect x="827.3" y="582.3" width="1.6" height="3.1" fill="#c4c4c4"/>
<rect x="844" y="582.3" width="12.8" height="3.8" fill="#6e6e6e"/>
<rect x="844" y="582.3" width="1.1" height="3.8" fill="#141414"/>
<rect x="849.9" y="582.3" width="1.1" height="3.8" fill="#141414"/>
<rect x="855.7" y="582.3" width="1.1" height="3.8" fill="#141414"/>
<rect x="846.3" y="582.3" width="1.6" height="3.1" fill="#c4c4c4"/>
<rect x="852.3" y="582.3" width="1.6" height="3.1" fill="#c4c4c4"/>
<rect x="868" y="582.3" width="12.8" height="3.8" fill="#6e6e6e"/>
<rect x="868" y="582.3" width="1.1" height="3.8" fill="#141414"/>
<rect x="873.9" y="582.3" width="1.1" height="3.8" fill="#141414"/>
<rect x="879.7" y="582.3" width="1.1" height="3.8" fill="#141414"/>
<rect x="870.3" y="582.3" width="1.6" height="3.1" fill="#c4c4c4"/>
<rect x="876.3" y="582.3" width="1.6" height="3.1" fill="#c4c4c4"/>
<rect x="892.3" y="582.3" width="12.8" height="3.8" fill="#6e6e6e"/>
<rect x="892.3" y="582.3" width="1.1" height="3.8" fill="#141414"/>
<rect x="898.2" y="582.3" width="1.1" height="3.8" fill="#141414"/>
<rect x="904" y="582.3" width="1.1" height="3.8" fill="#141414"/>
<rect x="894.6" y="582.3" width="1.6" height="3.1" fill="#c4c4c4"/>
<rect x="900.6" y="582.3" width="1.6" height="3.1" fill="#c4c4c4"/>
<rect x="916" y="582.3" width="12.8" height="3.8" fill="#6e6e6e"/>
<rect x="916" y="582.3" width="1.1" height="3.8" fill="#141414"/>
<rect x="921.9" y="582.3" width="1.1" height="3.8" fill="#141414"/>
<rect x="927.7" y="582.3" width="1.1" height="3.8" fill="#141414"/>
<rect x="918.3" y="582.3" width="1.6" height="3.1" fill="#c4c4c4"/>
<rect x="924.3" y="582.3" width="1.6" height="3.1" fill="#c4c4c4"/>
<rect x="943.5" y="582.3" width="12.8" height="3.8" fill="#6e6e6e"/>
<rect x="943.5" y="582.3" width="1.1" height="3.8" fill="#141414"/>
<rect x="949.4" y="582.3" width="1.1" height="3.8" fill="#141414"/>
<rect x="955.2" y="582.3" width="1.1" height="3.8" fill="#141414"/>
<rect x="945.8" y="582.3" width="1.6" height="3.1" fill="#c4c4c4"/>
<rect x="951.8" y="582.3" width="1.6" height="3.1" fill="#c4c4c4"/>
<rect x="971" y="582.3" width="12.8" height="3.8" fill="#6e6e6e"/>
<rect x="971" y="582.3" width="1.1" height="3.8" fill="#141414"/>
<rect x="976.9" y="582.3" width="1.1" height="3.8" fill="#141414"/>
<rect x="982.7" y="582.3" width="1.1" height="3.8" fill="#141414"/>
<rect x="973.3" y="582.3" width="1.6" height="3.1" fill="#c4c4c4"/>
<rect x="979.3" y="582.3" width="1.6" height="3.1" fill="#c4c4c4"/>
<rect x="983.6" y="93.9" width="12.8" height="3.8" fill="#6e6e6e"/>
<rect x="983.6" y="93.9" width="1.1" height="3.8" fill="#141414"/>
<rect x="989.5" y="93.9" width="1.1" height="3.8" fill="#141414"/>
<rect x="995.3" y="93.9" width="1.1" height="3.8" fill="#141414"/>
<rect x="985.9" y="94.6" width="1.6" height="3.1" fill="#c4c4c4"/>
<rect x="991.9" y="94.6" width="1.6" height="3.1" fill="#c4c4c4"/>
<rect x="1011.1" y="93.9" width="12.8" height="3.8" fill="#6e6e6e"/>
<rect x="1011.1" y="93.9" width="1.1" height="3.8" fill="#141414"/>
<rect x="1017" y="93.9" width="1.1" height="3.8" fill="#141414"/>
<rect x="1022.8" y="93.9" width="1.1" height="3.8" fill="#141414"/>
<rect x="1013.4" y="94.6" width="1.6" height="3.1" fill="#c4c4c4"/>
<rect x="1019.4" y="94.6" width="1.6" height="3.1" fill="#c4c4c4"/>
<rect x="1038.6" y="93.9" width="12.8" height="3.8" fill="#6e6e6e"/>
<rect x="1038.6" y="93.9" width="1.1" height="3.8" fill="#141414"/>
<rect x="1044.5" y="93.9" width="1.1" height="3.8" fill="#141414"/>
<rect x="1050.3" y="93.9" width="1.1" height="3.8" fill="#141414"/>
<rect x="1040.9" y="94.6" width="1.6" height="3.1" fill="#c4c4c4"/>
<rect x="1046.9" y="94.6" width="1.6" height="3.1" fill="#c4c4c4"/>
<rect x="1063.6" y="93.9" width="12.8" height="3.8" fill="#6e6e6e"/>
<rect x="1063.6" y="93.9" width="1.1" height="3.8" fill="#141414"/>
<rect x="1069.5" y="93.9" width="1.1" height="3.8" fill="#141414"/>
<rect x="1075.3" y="93.9" width="1.1" height="3.8" fill="#141414"/>
<rect x="1065.9" y="94.6" width="1.6" height="3.1" fill="#c4c4c4"/>
<rect x="1071.9" y="94.6" width="1.6" height="3.1" fill="#c4c4c4"/>
<rect x="1087.6" y="93.9" width="12.8" height="3.8" fill="#6e6e6e"/>
<rect x="1087.6" y="93.9" width="1.1" height="3.8" fill="#141414"/>
<rect x="1093.5" y="93.9" width="1.1" height="3.8" fill="#141414"/>
<rect x="1099.3" y="93.9" width="1.1" height="3.8" fill="#141414"/>
<rect x="1089.9" y="94.6" width="1.6" height="3.1" fill="#c4c4c4"/>
<rect x="1095.9" y="94.6" width="1.6" height="3.1" fill="#c4c4c4"/>
<rect x="1111.9" y="93.9" width="12.8" height="3.8" fill="#6e6e6e"/>
<rect x="1111.9" y="93.9" width="1.1" height="3.8" fill="#141414"/>
<rect x="1117.8" y="93.9" width="1.1" height="3.8" fill="#141414"/>
<rect x="1123.6" y="93.9" width="1.1" height="3.8" fill="#141414"/>
<rect x="1114.2" y="94.6" width="1.6" height="3.1" fill="#c4c4c4"/>
<rect x="1120.2" y="94.6" width="1.6" height="3.1" fill="#c4c4c4"/>
<rect x="1135.6" y="93.9" width="12.8" height="3.8" fill="#6e6e6e"/>
<rect x="1135.6" y="93.9" width="1.1" height="3.8" fill="#141414"/>
<rect x="1141.5" y="93.9" width="1.1" height="3.8" fill="#141414"/>
<rect x="1147.3" y="93.9" width="1.1" height="3.8" fill="#141414"/>
<rect x="1137.9" y="94.6" width="1.6" height="3.1" fill="#c4c4c4"/>
<rect x="1143.9" y="94.6" width="1.6" height="3.1" fill="#c4c4c4"/>
<rect x="1163.1" y="93.9" width="12.8" height="3.8" fill="#6e6e6e"/>
<rect x="1163.1" y="93.9" width="1.1" height="3.8" fill="#141414"/>
<rect x="1169" y="93.9" width="1.1" height="3.8" fill="#141414"/>
<rect x="1174.8" y="93.9" width="1.1" height="3.8" fill="#141414"/>
<rect x="1165.4" y="94.6" width="1.6" height="3.1" fill="#c4c4c4"/>
<rect x="1171.4" y="94.6" width="1.6" height="3.1" fill="#c4c4c4"/>
<rect x="1190.6" y="93.9" width="12.8" height="3.8" fill="#6e6e6e"/>
<rect x="1190.6" y="93.9" width="1.1" height="3.8" fill="#141414"/>
<rect x="1196.5" y="93.9" width="1.1" height="3.8" fill="#141414"/>
<rect x="1202.3" y="93.9" width="1.1" height="3.8" fill="#141414"/>
<rect x="1192.9" y="94.6" width="1.6" height="3.1" fill="#c4c4c4"/>
<rect x="1198.9" y="94.6" width="1.6" height="3.1" fill="#c4c4c4"/>
<rect x="983.6" y="582.3" width="12.8" height="3.8" fill="#6e6e6e"/>
<rect x="983.6" y="582.3" width="1.1" height="3.8" fill="#141414"/>
<rect x="989.5" y="582.3" width="1.1" height="3.8" fill="#141414"/>
<rect x="995.3" y="582.3" width="1.1" height="3.8" fill="#141414"/>
<rect x="985.9" y="582.3" width="1.6" height="3.1" fill="#c4c4c4"/>
<rect x="991.9" y="582.3" width="1.6" height="3.1" fill="#c4c4c4"/>
<rect x="1011.1" y="582.3" width="12.8" height="3.8" fill="#6e6e6e"/>
<rect x="1011.1" y="582.3" width="1.1" height="3.8" fill="#141414"/>
<rect x="1017" y="582.3" width="1.1" height="3.8" fill="#141414"/>
<rect x="1022.8" y="582.3" width="1.1" height="3.8" fill="#141414"/>
<rect x="1013.4" y="582.3" width="1.6" height="3.1" fill="#c4c4c4"/>
<rect x="1019.4" y="582.3" width="1.6" height="3.1" fill="#c4c4c4"/>
<rect x="1038.6" y="582.3" width="12.8" height="3.8" fill="#6e6e6e"/>
<rect x="1038.6" y="582.3" width="1.1" height="3.8" fill="#141414"/>
<rect x="1044.5" y="582.3" width="1.1" height="3.8" fill="#141414"/>
<rect x="1050.3" y="582.3" width="1.1" height="3.8" fill="#141414"/>
<rect x="1040.9" y="582.3" width="1.6" height="3.1" fill="#c4c4c4"/>
<rect x="1046.9" y="582.3" width="1.6" height="3.1" fill="#c4c4c4"/>
<rect x="1063.6" y="582.3" width="12.8" height="3.8" fill="#6e6e6e"/>
<rect x="1063.6" y="582.3" width="1.1" height="3.8" fill="#141414"/>
<rect x="1069.5" y="582.3" width="1.1" height="3.8" fill="#141414"/>
<rect x="1075.3" y="582.3" width="1.1" height="3.8" fill="#141414"/>
<rect x="1065.9" y="582.3" width="1.6" height="3.1" fill="#c4c4c4"/>
<rect x="1071.9" y="582.3" width="1.6" height="3.1" fill="#c4c4c4"/>
<rect x="1087.6" y="582.3" width="12.8" height="3.8" fill="#6e6e6e"/>
<rect x="1087.6" y="582.3" width="1.1" height="3.8" fill="#141414"/>
<rect x="1093.5" y="582.3" width="1.1" height="3.8" fill="#141414"/>
<rect x="1099.3" y="582.3" width="1.1" height="3.8" fill="#141414"/>
<rect x="1089.9" y="582.3" width="1.6" height="3.1" fill="#c4c4c4"/>
<rect x="1095.9" y="582.3" width="1.6" height="3.1" fill="#c4c4c4"/>
<rect x="1111.9" y="582.3" width="12.8" height="3.8" fill="#6e6e6e"/>
<rect x="1111.9" y="582.3" width="1.1" height="3.8" fill="#141414"/>
<rect x="1117.8" y="582.3" width="1.1" height="3.8" fill="#141414"/>
<rect x="1123.6" y="582.3" width="1.1" height="3.8" fill="#141414"/>
<rect x="1114.2" y="582.3" width="1.6" height="3.1" fill="#c4c4c4"/>
<rect x="1120.2" y="582.3" width="1.6" height="3.1" fill="#c4c4c4"/>
<rect x="1135.6" y="582.3" width="12.8" height="3.8" fill="#6e6e6e"/>
<rect x="1135.6" y="582.3" width="1.1" height="3.8" fill="#141414"/>
<rect x="1141.5" y="582.3" width="1.1" height="3.8" fill="#141414"/>
<rect x="1147.3" y="582.3" width="1.1" height="3.8" fill="#141414"/>
<rect x="1137.9" y="582.3" width="1.6" height="3.1" fill="#c4c4c4"/>
<rect x="1143.9" y="582.3" width="1.6" height="3.1" fill="#c4c4c4"/>
<rect x="1163.1" y="582.3" width="12.8" height="3.8" fill="#6e6e6e"/>
<rect x="1163.1" y="582.3" width="1.1" height="3.8" fill="#141414"/>
<rect x="1169" y="582.3" width="1.1" height="3.8" fill="#141414"/>
<rect x="1174.8" y="582.3" width="1.1" height="3.8" fill="#141414"/>
<rect x="1165.4" y="582.3" width="1.6" height="3.1" fill="#c4c4c4"/>
<rect x="1171.4" y="582.3" width="1.6" height="3.1" fill="#c4c4c4"/>
<rect x="1190.6" y="582.3" width="12.8" height="3.8" fill="#6e6e6e"/>
<rect x="1190.6" y="582.3" width="1.1" height="3.8" fill="#141414"/>
<rect x="1196.5" y="582.3" width="1.1" height="3.8" fill="#141414"/>
<rect x="1202.3" y="582.3" width="1.1" height="3.8" fill="#141414"/>
<rect x="1192.9" y="582.3" width="1.6" height="3.1" fill="#c4c4c4"/>
<rect x="1198.9" y="582.3" width="1.6" height="3.1" fill="#c4c4c4"/>
</g>
<g id="cores-top">
<rect x="161.9" y="99.6" width="1.7" height="44.7" fill="#6e6e6e"/>
<rect x="266.9" y="99.6" width="1.7" height="44.7" fill="#6e6e6e"/>
<rect x="161.9" y="142.4" width="27" height="1.9" fill="#9a9a9a" stroke="#333" stroke-width="0.5"/>
<rect x="241.5" y="142.4" width="27.1" height="1.9" fill="#9a9a9a" stroke="#333" stroke-width="0.5"/>
<rect x="188.9" y="139.2" width="52.6" height="41.7" fill="#fff"/>
<rect x="188.9" y="139.2" width="52.6" height="1" fill="#1e1e1e"/>
<rect x="188.9" y="141.93" width="52.6" height="1" fill="#1e1e1e"/>
<rect x="188.9" y="144.66" width="52.6" height="1" fill="#1e1e1e"/>
<rect x="188.9" y="147.39" width="52.6" height="1" fill="#1e1e1e"/>
<rect x="188.9" y="150.12" width="52.6" height="1" fill="#1e1e1e"/>
<rect x="188.9" y="152.85" width="52.6" height="1" fill="#1e1e1e"/>
<rect x="188.9" y="155.58" width="52.6" height="1" fill="#1e1e1e"/>
<rect x="188.9" y="158.31" width="52.6" height="1" fill="#1e1e1e"/>
<rect x="188.9" y="161.04" width="52.6" height="1" fill="#1e1e1e"/>
<rect x="188.9" y="163.77" width="52.6" height="1" fill="#1e1e1e"/>
<rect x="188.9" y="166.5" width="52.6" height="1" fill="#1e1e1e"/>
<rect x="188.9" y="169.23" width="52.6" height="1" fill="#1e1e1e"/>
<rect x="188.9" y="171.96" width="52.6" height="1" fill="#1e1e1e"/>
<rect x="188.9" y="174.69" width="52.6" height="1" fill="#1e1e1e"/>
<rect x="188.9" y="177.42" width="52.6" height="1" fill="#1e1e1e"/>
<rect x="188.9" y="180.15" width="52.6" height="1" fill="#1e1e1e"/>
<rect x="194.9" y="139.2" width="1" height="41.7" fill="#2a2a2a"/>
<rect x="208" y="139.2" width="1" height="41.7" fill="#2a2a2a"/>
<rect x="221.3" y="139.2" width="1" height="41.7" fill="#2a2a2a"/>
<rect x="234.5" y="139.2" width="1" height="41.7" fill="#2a2a2a"/>
<rect x="201.3" y="139.2" width="2" height="41.7" fill="#111"/>
<rect x="227.2" y="139.2" width="2" height="41.7" fill="#111"/>
<line x1="188.9" y1="138.9" x2="241.5" y2="138.9" stroke="#222" stroke-width="0.8"/>
<rect x="188" y="99.6" width="1.9" height="92.9" fill="#111"/>
<rect x="240.3" y="99.6" width="2.4" height="92.9" fill="#222"/>
<rect x="214.3" y="99.6" width="1.9" height="99.4" fill="#111"/>
<rect x="173.6" y="143.2" width="15.3" height="22.2" fill="#fff"/>
<rect x="173.6" y="143.2" width="15.3" height="1.7" fill="#111"/>
<rect x="173.6" y="163.6" width="15.3" height="1.8" fill="#111"/>
<rect x="173.6" y="143.2" width="1.8" height="22.2" fill="#111"/>
<rect x="182.4" y="153.2" width="6.5" height="1.4" fill="#111"/>
<circle cx="178.8" cy="148.9" r="2.6" fill="#9a9a9a" stroke="#222" stroke-width="0.9"/>
<text x="178.8" y="149.94" font-size="2.9" text-anchor="middle" font-weight="bold" fill="#222">07</text>
<circle cx="178.8" cy="158.6" r="2.6" fill="#aaa" stroke="#333" stroke-width="0.9"/>
<text x="178.8" y="159.64" font-size="2.9" text-anchor="middle" font-weight="bold" fill="#222">08</text>
<polygon points="183.2,151.18 187.8,151.18 185.5,147.22" fill="#fff" stroke="#222" stroke-width="0.85" stroke-linejoin="round"/>
<text x="185.5" y="150.28" font-size="2.12" font-weight="bold" text-anchor="middle" fill="#333">1</text>
<rect x="182.1" y="156.2" width="5.2" height="5.2" fill="#ddd" stroke="#333" stroke-width="0.7"/>
<rect x="241.5" y="143.2" width="14.8" height="22.2" fill="#fff"/>
<rect x="241.5" y="143.2" width="14.8" height="1.7" fill="#111"/>
<rect x="241.5" y="163.6" width="14.8" height="1.8" fill="#111"/>
<rect x="254.5" y="143.2" width="1.8" height="22.2" fill="#111"/>
<rect x="241.5" y="153.2" width="6.5" height="1.4" fill="#111"/>
<circle cx="251.1" cy="148.9" r="2.6" fill="#9a9a9a" stroke="#222" stroke-width="0.9"/>
<text x="251.1" y="149.94" font-size="2.9" text-anchor="middle" font-weight="bold" fill="#222">07</text>
<circle cx="251.1" cy="158.6" r="2.6" fill="#aaa" stroke="#333" stroke-width="0.9"/>
<text x="251.1" y="159.64" font-size="2.9" text-anchor="middle" font-weight="bold" fill="#222">08</text>
<polygon points="242.6,151.18 247.2,151.18 244.9,147.22" fill="#fff" stroke="#222" stroke-width="0.85" stroke-linejoin="round"/>
<text x="244.9" y="150.28" font-size="2.12" font-weight="bold" text-anchor="middle" fill="#333">1</text>
<rect x="243.3" y="156.2" width="5.2" height="5.2" fill="#ddd" stroke="#333" stroke-width="0.7"/>
<text x="171.6" y="150" font-size="2.9" text-anchor="middle" font-weight="bold" fill="#555">3</text>
<polygon points="167.6,172.8 174.8,172.8 171.2,166.6" fill="#fff" stroke="#222" stroke-width="0.85" stroke-linejoin="round"/>
<text x="171.2" y="171.9" font-size="3.31" font-weight="bold" text-anchor="middle" fill="#333">1</text>
<polygon points="255.4,172.8 262.6,172.8 259,166.6" fill="#fff" stroke="#222" stroke-width="0.85" stroke-linejoin="round"/>
<text x="259" y="171.9" font-size="3.31" font-weight="bold" text-anchor="middle" fill="#333">1</text>
<polygon points="168.9,128 176.1,128 172.5,121.8" fill="#fff" stroke="#222" stroke-width="0.85" stroke-linejoin="round"/>
<text x="172.5" y="127.1" font-size="3.31" font-weight="bold" text-anchor="middle" fill="#333">1</text>
<polygon points="256.6,126.9 263.8,126.9 260.2,120.7" fill="#fff" stroke="#222" stroke-width="0.85" stroke-linejoin="round"/>
<text x="260.2" y="126" font-size="3.31" font-weight="bold" text-anchor="middle" fill="#333">1</text>
<circle cx="176.5" cy="115.8" r="3.7" fill="#d0d0d0" stroke="#1e1e1e" stroke-width="1"/>
<text x="176.5" y="117.02" font-size="3.4" text-anchor="middle" font-weight="bold" fill="#2a2a2a">42</text>
<circle cx="254" cy="115.8" r="3.7" fill="#d0d0d0" stroke="#1e1e1e" stroke-width="1"/>
<text x="254" y="117.02" font-size="3.4" text-anchor="middle" font-weight="bold" fill="#2a2a2a">42</text>
<circle cx="203.2" cy="118.6" r="3.7" fill="#d0d0d0" stroke="#1e1e1e" stroke-width="1"/>
<text x="203.2" y="119.82" font-size="3.4" text-anchor="middle" font-weight="bold" fill="#2a2a2a">42</text>
<circle cx="229.1" cy="118.6" r="3.7" fill="#d0d0d0" stroke="#1e1e1e" stroke-width="1"/>
<text x="229.1" y="119.82" font-size="3.4" text-anchor="middle" font-weight="bold" fill="#2a2a2a">42</text>
<rect x="198.2" y="104.1" width="12.7" height="4.7" fill="#6a6a6a" stroke="#1e1e1e" stroke-width="0.7"/>
<text x="204.55" y="107.53" font-size="3" text-anchor="middle" font-weight="bold" fill="#e6e6e6" textLength="11.1" lengthAdjust="spacingAndGlyphs">+11.850</text>
<rect x="224.4" y="104.1" width="12.5" height="4.7" fill="#6a6a6a" stroke="#1e1e1e" stroke-width="0.7"/>
<text x="230.65" y="107.53" font-size="3" text-anchor="middle" font-weight="bold" fill="#e6e6e6" textLength="10.9" lengthAdjust="spacingAndGlyphs">+11.850</text>
<rect x="199.2" y="182.3" width="14.2" height="3.7" fill="#6a6a6a" stroke="#1e1e1e" stroke-width="0.7"/>
<text x="206.3" y="185.23" font-size="3" text-anchor="middle" font-weight="bold" fill="#e6e6e6" textLength="12.6" lengthAdjust="spacingAndGlyphs">+11.850</text>
<rect x="221.4" y="182.3" width="13.7" height="3.7" fill="#6a6a6a" stroke="#1e1e1e" stroke-width="0.7"/>
<text x="228.25" y="185.23" font-size="3" text-anchor="middle" font-weight="bold" fill="#e6e6e6" textLength="12.1" lengthAdjust="spacingAndGlyphs">+11.850</text>
<text x="184.3" y="185.4" font-size="2.9" text-anchor="middle" font-weight="bold" fill="#333">Дв-1</text>
<text x="184.3" y="188.6" font-size="2.9" text-anchor="middle" font-weight="bold" fill="#333">EI60</text>
<text x="245.7" y="185.4" font-size="2.9" text-anchor="middle" font-weight="bold" fill="#333">Дв-1</text>
<text x="245.7" y="188.6" font-size="2.9" text-anchor="middle" font-weight="bold" fill="#333">EI60</text>
<rect x="188" y="192" width="54.6" height="8.5" fill="#111"/>
<rect x="191.4" y="195.6" width="22.2" height="3.7" fill="#d8d8d8"/>
<line x1="192" y1="196.1" x2="195.24" y2="198.8" stroke="#333" stroke-width="0.55"/>
<line x1="192" y1="198.8" x2="195.24" y2="196.1" stroke="#333" stroke-width="0.55"/>
<line x1="196.44" y1="196.1" x2="199.68" y2="198.8" stroke="#333" stroke-width="0.55"/>
<line x1="196.44" y1="198.8" x2="199.68" y2="196.1" stroke="#333" stroke-width="0.55"/>
<line x1="200.88" y1="196.1" x2="204.12" y2="198.8" stroke="#333" stroke-width="0.55"/>
<line x1="200.88" y1="198.8" x2="204.12" y2="196.1" stroke="#333" stroke-width="0.55"/>
<line x1="205.32" y1="196.1" x2="208.56" y2="198.8" stroke="#333" stroke-width="0.55"/>
<line x1="205.32" y1="198.8" x2="208.56" y2="196.1" stroke="#333" stroke-width="0.55"/>
<line x1="209.76" y1="196.1" x2="213" y2="198.8" stroke="#333" stroke-width="0.55"/>
<line x1="209.76" y1="198.8" x2="213" y2="196.1" stroke="#333" stroke-width="0.55"/>
<rect x="217" y="195.6" width="22.2" height="3.7" fill="#d8d8d8"/>
<line x1="217.6" y1="196.1" x2="220.84" y2="198.8" stroke="#333" stroke-width="0.55"/>
<line x1="217.6" y1="198.8" x2="220.84" y2="196.1" stroke="#333" stroke-width="0.55"/>
<line x1="222.04" y1="196.1" x2="225.28" y2="198.8" stroke="#333" stroke-width="0.55"/>
<line x1="222.04" y1="198.8" x2="225.28" y2="196.1" stroke="#333" stroke-width="0.55"/>
<line x1="226.48" y1="196.1" x2="229.72" y2="198.8" stroke="#333" stroke-width="0.55"/>
<line x1="226.48" y1="198.8" x2="229.72" y2="196.1" stroke="#333" stroke-width="0.55"/>
<line x1="230.92" y1="196.1" x2="234.16" y2="198.8" stroke="#333" stroke-width="0.55"/>
<line x1="230.92" y1="198.8" x2="234.16" y2="196.1" stroke="#333" stroke-width="0.55"/>
<line x1="235.36" y1="196.1" x2="238.6" y2="198.8" stroke="#333" stroke-width="0.55"/>
<line x1="235.36" y1="198.8" x2="238.6" y2="196.1" stroke="#333" stroke-width="0.55"/>
<line x1="188" y1="193.4" x2="242.6" y2="193.4" stroke="#777" stroke-width="0.5"/>
<text x="175.9" y="193.38" font-size="3" text-anchor="middle" font-weight="bold" fill="#444">35</text>
<line x1="173.7" y1="194.3" x2="178.1" y2="194.3" stroke="#555" stroke-width="0.5"/>
<text x="209.4" y="189.68" font-size="3" text-anchor="middle" font-weight="bold" fill="#444">35</text>
<line x1="207.2" y1="190.6" x2="211.6" y2="190.6" stroke="#555" stroke-width="0.5"/>
<text x="234.8" y="189.68" font-size="3" text-anchor="middle" font-weight="bold" fill="#444">35</text>
<line x1="232.6" y1="190.6" x2="237" y2="190.6" stroke="#555" stroke-width="0.5"/>
<text x="183.8" y="137.08" font-size="3" text-anchor="middle" font-weight="bold" fill="#444">35</text>
<line x1="181.6" y1="138" x2="186" y2="138" stroke="#555" stroke-width="0.5"/>
<text x="261.7" y="137.08" font-size="3" text-anchor="middle" font-weight="bold" fill="#444">35</text>
<line x1="259.5" y1="138" x2="263.9" y2="138" stroke="#555" stroke-width="0.5"/>
<line x1="164.2" y1="131" x2="164.2" y2="142" stroke="#444" stroke-width="0.6"/>
<text x="164.2" y="137" font-size="2.9" text-anchor="middle" font-weight="bold" fill="#444">⊥</text>
<line x1="266.2" y1="131" x2="266.2" y2="142" stroke="#444" stroke-width="0.6"/>
<text x="266.2" y="137" font-size="2.9" text-anchor="middle" font-weight="bold" fill="#444">⊥</text>
<circle cx="142.5" cy="148.9" r="3.9" fill="#d0d0d0" stroke="#1e1e1e" stroke-width="1"/>
<text x="142.5" y="150.12" font-size="3.4" text-anchor="middle" font-weight="bold" fill="#2a2a2a">42</text>
<circle cx="287.9" cy="148.9" r="3.9" fill="#d0d0d0" stroke="#1e1e1e" stroke-width="1"/>
<text x="287.9" y="150.12" font-size="3.4" text-anchor="middle" font-weight="bold" fill="#2a2a2a">42</text>
<polygon points="130.5,159.08 137.9,159.08 134.2,152.72" fill="#fff" stroke="#222" stroke-width="0.85" stroke-linejoin="round"/>
<text x="134.2" y="158.18" font-size="3.4" font-weight="bold" text-anchor="middle" fill="#333">1</text>
<polygon points="289.2,159.68 296.6,159.68 292.9,153.32" fill="#fff" stroke="#222" stroke-width="0.85" stroke-linejoin="round"/>
<text x="292.9" y="158.78" font-size="3.4" font-weight="bold" text-anchor="middle" fill="#333">1</text>
<text x="314.8" y="193.38" font-size="3" text-anchor="middle" font-weight="bold" fill="#444">35</text>
<line x1="312.6" y1="194.3" x2="317" y2="194.3" stroke="#555" stroke-width="0.5"/>
<rect x="381.5" y="99.6" width="1.7" height="44.7" fill="#6e6e6e"/>
<rect x="486.5" y="99.6" width="1.7" height="44.7" fill="#6e6e6e"/>
<rect x="381.5" y="142.4" width="27" height="1.9" fill="#9a9a9a" stroke="#333" stroke-width="0.5"/>
<rect x="461.1" y="142.4" width="27.1" height="1.9" fill="#9a9a9a" stroke="#333" stroke-width="0.5"/>
<rect x="408.5" y="139.2" width="52.6" height="41.7" fill="#fff"/>
<rect x="408.5" y="139.2" width="52.6" height="1" fill="#1e1e1e"/>
<rect x="408.5" y="141.93" width="52.6" height="1" fill="#1e1e1e"/>
<rect x="408.5" y="144.66" width="52.6" height="1" fill="#1e1e1e"/>
<rect x="408.5" y="147.39" width="52.6" height="1" fill="#1e1e1e"/>
<rect x="408.5" y="150.12" width="52.6" height="1" fill="#1e1e1e"/>
<rect x="408.5" y="152.85" width="52.6" height="1" fill="#1e1e1e"/>
<rect x="408.5" y="155.58" width="52.6" height="1" fill="#1e1e1e"/>
<rect x="408.5" y="158.31" width="52.6" height="1" fill="#1e1e1e"/>
<rect x="408.5" y="161.04" width="52.6" height="1" fill="#1e1e1e"/>
<rect x="408.5" y="163.77" width="52.6" height="1" fill="#1e1e1e"/>
<rect x="408.5" y="166.5" width="52.6" height="1" fill="#1e1e1e"/>
<rect x="408.5" y="169.23" width="52.6" height="1" fill="#1e1e1e"/>
<rect x="408.5" y="171.96" width="52.6" height="1" fill="#1e1e1e"/>
<rect x="408.5" y="174.69" width="52.6" height="1" fill="#1e1e1e"/>
<rect x="408.5" y="177.42" width="52.6" height="1" fill="#1e1e1e"/>
<rect x="408.5" y="180.15" width="52.6" height="1" fill="#1e1e1e"/>
<rect x="414.5" y="139.2" width="1" height="41.7" fill="#2a2a2a"/>
<rect x="427.6" y="139.2" width="1" height="41.7" fill="#2a2a2a"/>
<rect x="440.9" y="139.2" width="1" height="41.7" fill="#2a2a2a"/>
<rect x="454.1" y="139.2" width="1" height="41.7" fill="#2a2a2a"/>
<rect x="420.9" y="139.2" width="2" height="41.7" fill="#111"/>
<rect x="446.8" y="139.2" width="2" height="41.7" fill="#111"/>
<line x1="408.5" y1="138.9" x2="461.1" y2="138.9" stroke="#222" stroke-width="0.8"/>
<rect x="407.6" y="99.6" width="1.9" height="92.9" fill="#111"/>
<rect x="459.9" y="99.6" width="2.4" height="92.9" fill="#222"/>
<rect x="433.9" y="99.6" width="1.9" height="99.4" fill="#111"/>
<rect x="393.2" y="143.2" width="15.3" height="22.2" fill="#fff"/>
<rect x="393.2" y="143.2" width="15.3" height="1.7" fill="#111"/>
<rect x="393.2" y="163.6" width="15.3" height="1.8" fill="#111"/>
<rect x="393.2" y="143.2" width="1.8" height="22.2" fill="#111"/>
<rect x="402" y="153.2" width="6.5" height="1.4" fill="#111"/>
<circle cx="398.4" cy="148.9" r="2.6" fill="#9a9a9a" stroke="#222" stroke-width="0.9"/>
<text x="398.4" y="149.94" font-size="2.9" text-anchor="middle" font-weight="bold" fill="#222">07</text>
<circle cx="398.4" cy="158.6" r="2.6" fill="#aaa" stroke="#333" stroke-width="0.9"/>
<text x="398.4" y="159.64" font-size="2.9" text-anchor="middle" font-weight="bold" fill="#222">08</text>
<polygon points="402.8,151.18 407.4,151.18 405.1,147.22" fill="#fff" stroke="#222" stroke-width="0.85" stroke-linejoin="round"/>
<text x="405.1" y="150.28" font-size="2.12" font-weight="bold" text-anchor="middle" fill="#333">1</text>
<rect x="401.7" y="156.2" width="5.2" height="5.2" fill="#ddd" stroke="#333" stroke-width="0.7"/>
<rect x="461.1" y="143.2" width="14.8" height="22.2" fill="#fff"/>
<rect x="461.1" y="143.2" width="14.8" height="1.7" fill="#111"/>
<rect x="461.1" y="163.6" width="14.8" height="1.8" fill="#111"/>
<rect x="474.1" y="143.2" width="1.8" height="22.2" fill="#111"/>
<rect x="461.1" y="153.2" width="6.5" height="1.4" fill="#111"/>
<circle cx="470.7" cy="148.9" r="2.6" fill="#9a9a9a" stroke="#222" stroke-width="0.9"/>
<text x="470.7" y="149.94" font-size="2.9" text-anchor="middle" font-weight="bold" fill="#222">07</text>
<circle cx="470.7" cy="158.6" r="2.6" fill="#aaa" stroke="#333" stroke-width="0.9"/>
<text x="470.7" y="159.64" font-size="2.9" text-anchor="middle" font-weight="bold" fill="#222">08</text>
<polygon points="462.2,151.18 466.8,151.18 464.5,147.22" fill="#fff" stroke="#222" stroke-width="0.85" stroke-linejoin="round"/>
<text x="464.5" y="150.28" font-size="2.12" font-weight="bold" text-anchor="middle" fill="#333">1</text>
<rect x="462.9" y="156.2" width="5.2" height="5.2" fill="#ddd" stroke="#333" stroke-width="0.7"/>
<text x="391.2" y="150" font-size="2.9" text-anchor="middle" font-weight="bold" fill="#555">3</text>
<polygon points="387.2,172.8 394.4,172.8 390.8,166.6" fill="#fff" stroke="#222" stroke-width="0.85" stroke-linejoin="round"/>
<text x="390.8" y="171.9" font-size="3.31" font-weight="bold" text-anchor="middle" fill="#333">1</text>
<polygon points="475,172.8 482.2,172.8 478.6,166.6" fill="#fff" stroke="#222" stroke-width="0.85" stroke-linejoin="round"/>
<text x="478.6" y="171.9" font-size="3.31" font-weight="bold" text-anchor="middle" fill="#333">1</text>
<polygon points="388.5,128 395.7,128 392.1,121.8" fill="#fff" stroke="#222" stroke-width="0.85" stroke-linejoin="round"/>
<text x="392.1" y="127.1" font-size="3.31" font-weight="bold" text-anchor="middle" fill="#333">1</text>
<polygon points="476.2,126.9 483.4,126.9 479.8,120.7" fill="#fff" stroke="#222" stroke-width="0.85" stroke-linejoin="round"/>
<text x="479.8" y="126" font-size="3.31" font-weight="bold" text-anchor="middle" fill="#333">1</text>
<circle cx="396.1" cy="115.8" r="3.7" fill="#d0d0d0" stroke="#1e1e1e" stroke-width="1"/>
<text x="396.1" y="117.02" font-size="3.4" text-anchor="middle" font-weight="bold" fill="#2a2a2a">42</text>
<circle cx="473.6" cy="115.8" r="3.7" fill="#d0d0d0" stroke="#1e1e1e" stroke-width="1"/>
<text x="473.6" y="117.02" font-size="3.4" text-anchor="middle" font-weight="bold" fill="#2a2a2a">42</text>
<circle cx="422.8" cy="118.6" r="3.7" fill="#d0d0d0" stroke="#1e1e1e" stroke-width="1"/>
<text x="422.8" y="119.82" font-size="3.4" text-anchor="middle" font-weight="bold" fill="#2a2a2a">42</text>
<circle cx="448.7" cy="118.6" r="3.7" fill="#d0d0d0" stroke="#1e1e1e" stroke-width="1"/>
<text x="448.7" y="119.82" font-size="3.4" text-anchor="middle" font-weight="bold" fill="#2a2a2a">42</text>
<rect x="417.8" y="104.1" width="12.7" height="4.7" fill="#6a6a6a" stroke="#1e1e1e" stroke-width="0.7"/>
<text x="424.15" y="107.53" font-size="3" text-anchor="middle" font-weight="bold" fill="#e6e6e6" textLength="11.1" lengthAdjust="spacingAndGlyphs">+11.850</text>
<rect x="444" y="104.1" width="12.5" height="4.7" fill="#6a6a6a" stroke="#1e1e1e" stroke-width="0.7"/>
<text x="450.25" y="107.53" font-size="3" text-anchor="middle" font-weight="bold" fill="#e6e6e6" textLength="10.9" lengthAdjust="spacingAndGlyphs">+11.850</text>
<rect x="418.8" y="182.3" width="14.2" height="3.7" fill="#6a6a6a" stroke="#1e1e1e" stroke-width="0.7"/>
<text x="425.9" y="185.23" font-size="3" text-anchor="middle" font-weight="bold" fill="#e6e6e6" textLength="12.6" lengthAdjust="spacingAndGlyphs">+11.850</text>
<rect x="441" y="182.3" width="13.7" height="3.7" fill="#6a6a6a" stroke="#1e1e1e" stroke-width="0.7"/>
<text x="447.85" y="185.23" font-size="3" text-anchor="middle" font-weight="bold" fill="#e6e6e6" textLength="12.1" lengthAdjust="spacingAndGlyphs">+11.850</text>
<text x="403.9" y="185.4" font-size="2.9" text-anchor="middle" font-weight="bold" fill="#333">Дв-1</text>
<text x="403.9" y="188.6" font-size="2.9" text-anchor="middle" font-weight="bold" fill="#333">EI60</text>
<text x="465.3" y="185.4" font-size="2.9" text-anchor="middle" font-weight="bold" fill="#333">Дв-1</text>
<text x="465.3" y="188.6" font-size="2.9" text-anchor="middle" font-weight="bold" fill="#333">EI60</text>
<rect x="408.2" y="192.2" width="13" height="10.4" fill="#111"/>
<rect x="411" y="196.3" width="7.6" height="3.7" fill="#d8d8d8"/>
<line x1="411.6" y1="196.8" x2="414.2" y2="199.5" stroke="#333" stroke-width="0.55"/>
<line x1="411.6" y1="199.5" x2="414.2" y2="196.8" stroke="#333" stroke-width="0.55"/>
<line x1="415.4" y1="196.8" x2="418" y2="199.5" stroke="#333" stroke-width="0.55"/>
<line x1="415.4" y1="199.5" x2="418" y2="196.8" stroke="#333" stroke-width="0.55"/>
<rect x="436.6" y="192.6" width="25.4" height="10" fill="#111"/>
<rect x="438.4" y="196.3" width="7.8" height="3.7" fill="#d8d8d8"/>
<line x1="439" y1="196.8" x2="441.7" y2="199.5" stroke="#333" stroke-width="0.55"/>
<line x1="439" y1="199.5" x2="441.7" y2="196.8" stroke="#333" stroke-width="0.55"/>
<line x1="442.9" y1="196.8" x2="445.6" y2="199.5" stroke="#333" stroke-width="0.55"/>
<line x1="442.9" y1="199.5" x2="445.6" y2="196.8" stroke="#333" stroke-width="0.55"/>
<rect x="447.4" y="196.3" width="10.2" height="3.7" fill="#d8d8d8"/>
<line x1="448" y1="196.8" x2="451.9" y2="199.5" stroke="#333" stroke-width="0.55"/>
<line x1="448" y1="199.5" x2="451.9" y2="196.8" stroke="#333" stroke-width="0.55"/>
<line x1="453.1" y1="196.8" x2="457" y2="199.5" stroke="#333" stroke-width="0.55"/>
<line x1="453.1" y1="199.5" x2="457" y2="196.8" stroke="#333" stroke-width="0.55"/>
<rect x="421.2" y="186" width="15.4" height="12" fill="#fff"/>
<rect x="421.2" y="198" width="15.4" height="4.4" fill="#fff"/>
<line x1="421.2" y1="200.8" x2="436.6" y2="200.8" stroke="#444" stroke-width="0.6"/>
<line x1="421.2" y1="186.2" x2="434.2" y2="186.2" stroke="#444" stroke-width="0.6"/>
<line x1="421.4" y1="186.2" x2="421.4" y2="192.5" stroke="#444" stroke-width="0.6"/>
<text x="424" y="199.5" font-size="2.9" text-anchor="start" font-weight="bold" fill="#333">Дв-Р1</text>
<line x1="425.9" y1="191" x2="425.9" y2="217.5" stroke="#444" stroke-width="0.7"/>
<rect x="392.4" y="202.6" width="11.5" height="5.8" fill="#111"/>
<rect x="394.4" y="204.3" width="7.2" height="2.6" fill="#d8d8d8"/>
<line x1="395" y1="204.8" x2="397.4" y2="206.4" stroke="#333" stroke-width="0.55"/>
<line x1="395" y1="206.4" x2="397.4" y2="204.8" stroke="#333" stroke-width="0.55"/>
<line x1="398.6" y1="204.8" x2="401" y2="206.4" stroke="#333" stroke-width="0.55"/>
<line x1="398.6" y1="206.4" x2="401" y2="204.8" stroke="#333" stroke-width="0.55"/>
<rect x="403.9" y="203.9" width="13.9" height="4.3" fill="#6a6a6a" stroke="#1e1e1e" stroke-width="0.7"/>
<text x="410.85" y="207.13" font-size="3" text-anchor="middle" font-weight="bold" fill="#e6e6e6" textLength="12.3" lengthAdjust="spacingAndGlyphs">+11.850</text>
<rect x="413.1" y="214" width="13" height="3.9" fill="#6a6a6a" stroke="#1e1e1e" stroke-width="0.7"/>
<text x="419.6" y="217.03" font-size="3" text-anchor="middle" font-weight="bold" fill="#e6e6e6" textLength="11.4" lengthAdjust="spacingAndGlyphs">+11.850</text>
<line x1="431.3" y1="186.2" x2="431.3" y2="193" stroke="#444" stroke-width="0.6"/>
<rect x="424.8" y="186.6" width="10.6" height="3.8" fill="#6a6a6a" stroke="#1e1e1e" stroke-width="0.7"/>
<text x="430.1" y="189.58" font-size="3" text-anchor="middle" font-weight="bold" fill="#e6e6e6" textLength="9" lengthAdjust="spacingAndGlyphs">+11.850</text>
<text x="395.5" y="193.38" font-size="3" text-anchor="middle" font-weight="bold" fill="#444">35</text>
<line x1="393.3" y1="194.3" x2="397.7" y2="194.3" stroke="#555" stroke-width="0.5"/>
<text x="429" y="189.68" font-size="3" text-anchor="middle" font-weight="bold" fill="#444">35</text>
<line x1="426.8" y1="190.6" x2="431.2" y2="190.6" stroke="#555" stroke-width="0.5"/>
<text x="454.4" y="189.68" font-size="3" text-anchor="middle" font-weight="bold" fill="#444">35</text>
<line x1="452.2" y1="190.6" x2="456.6" y2="190.6" stroke="#555" stroke-width="0.5"/>
<text x="403.4" y="137.08" font-size="3" text-anchor="middle" font-weight="bold" fill="#444">35</text>
<line x1="401.2" y1="138" x2="405.6" y2="138" stroke="#555" stroke-width="0.5"/>
<text x="481.3" y="137.08" font-size="3" text-anchor="middle" font-weight="bold" fill="#444">35</text>
<line x1="479.1" y1="138" x2="483.5" y2="138" stroke="#555" stroke-width="0.5"/>
<line x1="383.8" y1="131" x2="383.8" y2="142" stroke="#444" stroke-width="0.6"/>
<text x="383.8" y="137" font-size="2.9" text-anchor="middle" font-weight="bold" fill="#444">⊥</text>
<line x1="485.8" y1="131" x2="485.8" y2="142" stroke="#444" stroke-width="0.6"/>
<text x="485.8" y="137" font-size="2.9" text-anchor="middle" font-weight="bold" fill="#444">⊥</text>
<circle cx="362.1" cy="148.9" r="3.9" fill="#d0d0d0" stroke="#1e1e1e" stroke-width="1"/>
<text x="362.1" y="150.12" font-size="3.4" text-anchor="middle" font-weight="bold" fill="#2a2a2a">42</text>
<circle cx="507.5" cy="148.9" r="3.9" fill="#d0d0d0" stroke="#1e1e1e" stroke-width="1"/>
<text x="507.5" y="150.12" font-size="3.4" text-anchor="middle" font-weight="bold" fill="#2a2a2a">42</text>
<polygon points="350.1,159.08 357.5,159.08 353.8,152.72" fill="#fff" stroke="#222" stroke-width="0.85" stroke-linejoin="round"/>
<text x="353.8" y="158.18" font-size="3.4" font-weight="bold" text-anchor="middle" fill="#333">1</text>
<polygon points="508.8,159.68 516.2,159.68 512.5,153.32" fill="#fff" stroke="#222" stroke-width="0.85" stroke-linejoin="round"/>
<text x="512.5" y="158.78" font-size="3.4" font-weight="bold" text-anchor="middle" fill="#333">1</text>
<text x="534.4" y="193.38" font-size="3" text-anchor="middle" font-weight="bold" fill="#444">35</text>
<line x1="532.2" y1="194.3" x2="536.6" y2="194.3" stroke="#555" stroke-width="0.5"/>
<rect x="599.8" y="99.6" width="1.7" height="44.7" fill="#6e6e6e"/>
<rect x="707.2" y="99.6" width="1.7" height="44.7" fill="#6e6e6e"/>
<rect x="599.8" y="142.4" width="27.24" height="1.9" fill="#9a9a9a" stroke="#333" stroke-width="0.5"/>
<rect x="681.56" y="142.4" width="27.34" height="1.9" fill="#9a9a9a" stroke="#333" stroke-width="0.5"/>
<rect x="627.04" y="139.2" width="54.52" height="41.7" fill="#fff"/>
<rect x="627.04" y="139.2" width="54.52" height="1" fill="#1e1e1e"/>
<rect x="627.04" y="141.93" width="54.52" height="1" fill="#1e1e1e"/>
<rect x="627.04" y="144.66" width="54.52" height="1" fill="#1e1e1e"/>
<rect x="627.04" y="147.39" width="54.52" height="1" fill="#1e1e1e"/>
<rect x="627.04" y="150.12" width="54.52" height="1" fill="#1e1e1e"/>
<rect x="627.04" y="152.85" width="54.52" height="1" fill="#1e1e1e"/>
<rect x="627.04" y="155.58" width="54.52" height="1" fill="#1e1e1e"/>
<rect x="627.04" y="158.31" width="54.52" height="1" fill="#1e1e1e"/>
<rect x="627.04" y="161.04" width="54.52" height="1" fill="#1e1e1e"/>
<rect x="627.04" y="163.77" width="54.52" height="1" fill="#1e1e1e"/>
<rect x="627.04" y="166.5" width="54.52" height="1" fill="#1e1e1e"/>
<rect x="627.04" y="169.23" width="54.52" height="1" fill="#1e1e1e"/>
<rect x="627.04" y="171.96" width="54.52" height="1" fill="#1e1e1e"/>
<rect x="627.04" y="174.69" width="54.52" height="1" fill="#1e1e1e"/>
<rect x="627.04" y="177.42" width="54.52" height="1" fill="#1e1e1e"/>
<rect x="627.04" y="180.15" width="54.52" height="1" fill="#1e1e1e"/>
<rect x="633.04" y="139.2" width="1" height="41.7" fill="#2a2a2a"/>
<rect x="647.1" y="139.2" width="1" height="41.7" fill="#2a2a2a"/>
<rect x="660.4" y="139.2" width="1" height="41.7" fill="#2a2a2a"/>
<rect x="674.56" y="139.2" width="1" height="41.7" fill="#2a2a2a"/>
<rect x="640.4" y="139.2" width="2" height="41.7" fill="#111"/>
<rect x="666.3" y="139.2" width="2" height="41.7" fill="#111"/>
<line x1="627.04" y1="138.9" x2="681.56" y2="138.9" stroke="#222" stroke-width="0.8"/>
<rect x="626.14" y="99.6" width="1.9" height="92.9" fill="#111"/>
<rect x="680.36" y="99.6" width="2.4" height="92.9" fill="#222"/>
<rect x="651.1" y="99.6" width="5.9" height="99.4" fill="#2e2e2e"/>
<rect x="652.7" y="99.6" width="2.8" height="99.4" fill="#121212"/>
<rect x="611.74" y="143.2" width="15.3" height="22.2" fill="#fff"/>
<rect x="611.74" y="143.2" width="15.3" height="1.7" fill="#111"/>
<rect x="611.74" y="163.6" width="15.3" height="1.8" fill="#111"/>
<rect x="611.74" y="143.2" width="1.8" height="22.2" fill="#111"/>
<rect x="620.54" y="153.2" width="6.5" height="1.4" fill="#111"/>
<circle cx="616.94" cy="148.9" r="2.6" fill="#9a9a9a" stroke="#222" stroke-width="0.9"/>
<text x="616.94" y="149.94" font-size="2.9" text-anchor="middle" font-weight="bold" fill="#222">07</text>
<circle cx="616.94" cy="158.6" r="2.6" fill="#aaa" stroke="#333" stroke-width="0.9"/>
<text x="616.94" y="159.64" font-size="2.9" text-anchor="middle" font-weight="bold" fill="#222">08</text>
<polygon points="621.34,151.18 625.94,151.18 623.64,147.22" fill="#fff" stroke="#222" stroke-width="0.85" stroke-linejoin="round"/>
<text x="623.64" y="150.28" font-size="2.12" font-weight="bold" text-anchor="middle" fill="#333">1</text>
<rect x="620.24" y="156.2" width="5.2" height="5.2" fill="#ddd" stroke="#333" stroke-width="0.7"/>
<rect x="681.56" y="143.2" width="14.8" height="22.2" fill="#fff"/>
<rect x="681.56" y="143.2" width="14.8" height="1.7" fill="#111"/>
<rect x="681.56" y="163.6" width="14.8" height="1.8" fill="#111"/>
<rect x="694.56" y="143.2" width="1.8" height="22.2" fill="#111"/>
<rect x="681.56" y="153.2" width="6.5" height="1.4" fill="#111"/>
<circle cx="691.16" cy="148.9" r="2.6" fill="#9a9a9a" stroke="#222" stroke-width="0.9"/>
<text x="691.16" y="149.94" font-size="2.9" text-anchor="middle" font-weight="bold" fill="#222">07</text>
<circle cx="691.16" cy="158.6" r="2.6" fill="#aaa" stroke="#333" stroke-width="0.9"/>
<text x="691.16" y="159.64" font-size="2.9" text-anchor="middle" font-weight="bold" fill="#222">08</text>
<polygon points="682.66,151.18 687.26,151.18 684.96,147.22" fill="#fff" stroke="#222" stroke-width="0.85" stroke-linejoin="round"/>
<text x="684.96" y="150.28" font-size="2.12" font-weight="bold" text-anchor="middle" fill="#333">1</text>
<rect x="683.36" y="156.2" width="5.2" height="5.2" fill="#ddd" stroke="#333" stroke-width="0.7"/>
<text x="609.74" y="150" font-size="2.9" text-anchor="middle" font-weight="bold" fill="#555">3</text>
<polygon points="606.7,172.8 613.9,172.8 610.3,166.6" fill="#fff" stroke="#222" stroke-width="0.85" stroke-linejoin="round"/>
<text x="610.3" y="171.9" font-size="3.31" font-weight="bold" text-anchor="middle" fill="#333">1</text>
<polygon points="694.5,172.8 701.7,172.8 698.1,166.6" fill="#fff" stroke="#222" stroke-width="0.85" stroke-linejoin="round"/>
<text x="698.1" y="171.9" font-size="3.31" font-weight="bold" text-anchor="middle" fill="#333">1</text>
<polygon points="608,128 615.2,128 611.6,121.8" fill="#fff" stroke="#222" stroke-width="0.85" stroke-linejoin="round"/>
<text x="611.6" y="127.1" font-size="3.31" font-weight="bold" text-anchor="middle" fill="#333">1</text>
<polygon points="695.7,126.9 702.9,126.9 699.3,120.7" fill="#fff" stroke="#222" stroke-width="0.85" stroke-linejoin="round"/>
<text x="699.3" y="126" font-size="3.31" font-weight="bold" text-anchor="middle" fill="#333">1</text>
<circle cx="615.6" cy="115.8" r="3.7" fill="#d0d0d0" stroke="#1e1e1e" stroke-width="1"/>
<text x="615.6" y="117.02" font-size="3.4" text-anchor="middle" font-weight="bold" fill="#2a2a2a">42</text>
<circle cx="693.1" cy="115.8" r="3.7" fill="#d0d0d0" stroke="#1e1e1e" stroke-width="1"/>
<text x="693.1" y="117.02" font-size="3.4" text-anchor="middle" font-weight="bold" fill="#2a2a2a">42</text>
<circle cx="642.3" cy="118.6" r="3.7" fill="#d0d0d0" stroke="#1e1e1e" stroke-width="1"/>
<text x="642.3" y="119.82" font-size="3.4" text-anchor="middle" font-weight="bold" fill="#2a2a2a">42</text>
<circle cx="668.2" cy="118.6" r="3.7" fill="#d0d0d0" stroke="#1e1e1e" stroke-width="1"/>
<text x="668.2" y="119.82" font-size="3.4" text-anchor="middle" font-weight="bold" fill="#2a2a2a">42</text>
<rect x="637.3" y="104.1" width="12.7" height="4.7" fill="#6a6a6a" stroke="#1e1e1e" stroke-width="0.7"/>
<text x="643.65" y="107.53" font-size="3" text-anchor="middle" font-weight="bold" fill="#e6e6e6" textLength="11.1" lengthAdjust="spacingAndGlyphs">+11.850</text>
<rect x="663.5" y="104.1" width="12.5" height="4.7" fill="#6a6a6a" stroke="#1e1e1e" stroke-width="0.7"/>
<text x="669.75" y="107.53" font-size="3" text-anchor="middle" font-weight="bold" fill="#e6e6e6" textLength="10.9" lengthAdjust="spacingAndGlyphs">+11.850</text>
<rect x="638.3" y="182.3" width="14.2" height="3.7" fill="#6a6a6a" stroke="#1e1e1e" stroke-width="0.7"/>
<text x="645.4" y="185.23" font-size="3" text-anchor="middle" font-weight="bold" fill="#e6e6e6" textLength="12.6" lengthAdjust="spacingAndGlyphs">+11.850</text>
<rect x="660.5" y="182.3" width="13.7" height="3.7" fill="#6a6a6a" stroke="#1e1e1e" stroke-width="0.7"/>
<text x="667.35" y="185.23" font-size="3" text-anchor="middle" font-weight="bold" fill="#e6e6e6" textLength="12.1" lengthAdjust="spacingAndGlyphs">+11.850</text>
<text x="622.44" y="185.4" font-size="2.9" text-anchor="middle" font-weight="bold" fill="#333">Дв-1</text>
<text x="622.44" y="188.6" font-size="2.9" text-anchor="middle" font-weight="bold" fill="#333">EI60</text>
<text x="685.76" y="185.4" font-size="2.9" text-anchor="middle" font-weight="bold" fill="#333">Дв-1</text>
<text x="685.76" y="188.6" font-size="2.9" text-anchor="middle" font-weight="bold" fill="#333">EI60</text>
<rect x="626.4" y="192" width="56.5" height="10.2" fill="#111"/>
<line x1="627.5" y1="193.4" x2="682" y2="193.4" stroke="#999" stroke-width="0.6"/>
<rect x="630.2" y="195.8" width="20.4" height="3.9" fill="#d8d8d8"/>
<line x1="630.8" y1="196.3" x2="633.68" y2="199.2" stroke="#333" stroke-width="0.55"/>
<line x1="630.8" y1="199.2" x2="633.68" y2="196.3" stroke="#333" stroke-width="0.55"/>
<line x1="634.88" y1="196.3" x2="637.76" y2="199.2" stroke="#333" stroke-width="0.55"/>
<line x1="634.88" y1="199.2" x2="637.76" y2="196.3" stroke="#333" stroke-width="0.55"/>
<line x1="638.96" y1="196.3" x2="641.84" y2="199.2" stroke="#333" stroke-width="0.55"/>
<line x1="638.96" y1="199.2" x2="641.84" y2="196.3" stroke="#333" stroke-width="0.55"/>
<line x1="643.04" y1="196.3" x2="645.92" y2="199.2" stroke="#333" stroke-width="0.55"/>
<line x1="643.04" y1="199.2" x2="645.92" y2="196.3" stroke="#333" stroke-width="0.55"/>
<line x1="647.12" y1="196.3" x2="650" y2="199.2" stroke="#333" stroke-width="0.55"/>
<line x1="647.12" y1="199.2" x2="650" y2="196.3" stroke="#333" stroke-width="0.55"/>
<rect x="657.4" y="195.8" width="21.2" height="3.9" fill="#d8d8d8"/>
<line x1="658" y1="196.3" x2="661.04" y2="199.2" stroke="#333" stroke-width="0.55"/>
<line x1="658" y1="199.2" x2="661.04" y2="196.3" stroke="#333" stroke-width="0.55"/>
<line x1="662.24" y1="196.3" x2="665.28" y2="199.2" stroke="#333" stroke-width="0.55"/>
<line x1="662.24" y1="199.2" x2="665.28" y2="196.3" stroke="#333" stroke-width="0.55"/>
<line x1="666.48" y1="196.3" x2="669.52" y2="199.2" stroke="#333" stroke-width="0.55"/>
<line x1="666.48" y1="199.2" x2="669.52" y2="196.3" stroke="#333" stroke-width="0.55"/>
<line x1="670.72" y1="196.3" x2="673.76" y2="199.2" stroke="#333" stroke-width="0.55"/>
<line x1="670.72" y1="199.2" x2="673.76" y2="196.3" stroke="#333" stroke-width="0.55"/>
<line x1="674.96" y1="196.3" x2="678" y2="199.2" stroke="#333" stroke-width="0.55"/>
<line x1="674.96" y1="199.2" x2="678" y2="196.3" stroke="#333" stroke-width="0.55"/>
<text x="615" y="193.38" font-size="3" text-anchor="middle" font-weight="bold" fill="#444">35</text>
<line x1="612.8" y1="194.3" x2="617.2" y2="194.3" stroke="#555" stroke-width="0.5"/>
<text x="648.5" y="189.68" font-size="3" text-anchor="middle" font-weight="bold" fill="#444">35</text>
<line x1="646.3" y1="190.6" x2="650.7" y2="190.6" stroke="#555" stroke-width="0.5"/>
<text x="673.9" y="189.68" font-size="3" text-anchor="middle" font-weight="bold" fill="#444">35</text>
<line x1="671.7" y1="190.6" x2="676.1" y2="190.6" stroke="#555" stroke-width="0.5"/>
<text x="622.9" y="137.08" font-size="3" text-anchor="middle" font-weight="bold" fill="#444">35</text>
<line x1="620.7" y1="138" x2="625.1" y2="138" stroke="#555" stroke-width="0.5"/>
<text x="700.8" y="137.08" font-size="3" text-anchor="middle" font-weight="bold" fill="#444">35</text>
<line x1="698.6" y1="138" x2="703" y2="138" stroke="#555" stroke-width="0.5"/>
<line x1="602.1" y1="131" x2="602.1" y2="142" stroke="#444" stroke-width="0.6"/>
<text x="602.1" y="137" font-size="2.9" text-anchor="middle" font-weight="bold" fill="#444">⊥</text>
<line x1="706.5" y1="131" x2="706.5" y2="142" stroke="#444" stroke-width="0.6"/>
<text x="706.5" y="137" font-size="2.9" text-anchor="middle" font-weight="bold" fill="#444">⊥</text>
<circle cx="581.6" cy="148.9" r="3.9" fill="#d0d0d0" stroke="#1e1e1e" stroke-width="1"/>
<text x="581.6" y="150.12" font-size="3.4" text-anchor="middle" font-weight="bold" fill="#2a2a2a">42</text>
<circle cx="727" cy="148.9" r="3.9" fill="#d0d0d0" stroke="#1e1e1e" stroke-width="1"/>
<text x="727" y="150.12" font-size="3.4" text-anchor="middle" font-weight="bold" fill="#2a2a2a">42</text>
<polygon points="569.6,159.08 577,159.08 573.3,152.72" fill="#fff" stroke="#222" stroke-width="0.85" stroke-linejoin="round"/>
<text x="573.3" y="158.18" font-size="3.4" font-weight="bold" text-anchor="middle" fill="#333">1</text>
<polygon points="728.3,159.68 735.7,159.68 732,153.32" fill="#fff" stroke="#222" stroke-width="0.85" stroke-linejoin="round"/>
<text x="732" y="158.78" font-size="3.4" font-weight="bold" text-anchor="middle" fill="#333">1</text>
<text x="753.9" y="193.38" font-size="3" text-anchor="middle" font-weight="bold" fill="#444">35</text>
<line x1="751.7" y1="194.3" x2="756.1" y2="194.3" stroke="#555" stroke-width="0.5"/>
<rect x="820.3" y="99.6" width="1.7" height="44.7" fill="#6e6e6e"/>
<rect x="925.3" y="99.6" width="1.7" height="44.7" fill="#6e6e6e"/>
<rect x="820.3" y="142.4" width="27" height="1.9" fill="#9a9a9a" stroke="#333" stroke-width="0.5"/>
<rect x="899.9" y="142.4" width="27.1" height="1.9" fill="#9a9a9a" stroke="#333" stroke-width="0.5"/>
<rect x="847.3" y="139.2" width="52.6" height="41.7" fill="#fff"/>
<rect x="847.3" y="139.2" width="52.6" height="1" fill="#1e1e1e"/>
<rect x="847.3" y="141.93" width="52.6" height="1" fill="#1e1e1e"/>
<rect x="847.3" y="144.66" width="52.6" height="1" fill="#1e1e1e"/>
<rect x="847.3" y="147.39" width="52.6" height="1" fill="#1e1e1e"/>
<rect x="847.3" y="150.12" width="52.6" height="1" fill="#1e1e1e"/>
<rect x="847.3" y="152.85" width="52.6" height="1" fill="#1e1e1e"/>
<rect x="847.3" y="155.58" width="52.6" height="1" fill="#1e1e1e"/>
<rect x="847.3" y="158.31" width="52.6" height="1" fill="#1e1e1e"/>
<rect x="847.3" y="161.04" width="52.6" height="1" fill="#1e1e1e"/>
<rect x="847.3" y="163.77" width="52.6" height="1" fill="#1e1e1e"/>
<rect x="847.3" y="166.5" width="52.6" height="1" fill="#1e1e1e"/>
<rect x="847.3" y="169.23" width="52.6" height="1" fill="#1e1e1e"/>
<rect x="847.3" y="171.96" width="52.6" height="1" fill="#1e1e1e"/>
<rect x="847.3" y="174.69" width="52.6" height="1" fill="#1e1e1e"/>
<rect x="847.3" y="177.42" width="52.6" height="1" fill="#1e1e1e"/>
<rect x="847.3" y="180.15" width="52.6" height="1" fill="#1e1e1e"/>
<rect x="853.3" y="139.2" width="1" height="41.7" fill="#2a2a2a"/>
<rect x="866.4" y="139.2" width="1" height="41.7" fill="#2a2a2a"/>
<rect x="879.7" y="139.2" width="1" height="41.7" fill="#2a2a2a"/>
<rect x="892.9" y="139.2" width="1" height="41.7" fill="#2a2a2a"/>
<rect x="859.7" y="139.2" width="2" height="41.7" fill="#111"/>
<rect x="885.6" y="139.2" width="2" height="41.7" fill="#111"/>
<line x1="847.3" y1="138.9" x2="899.9" y2="138.9" stroke="#222" stroke-width="0.8"/>
<rect x="846.4" y="99.6" width="1.9" height="92.9" fill="#111"/>
<rect x="898.7" y="99.6" width="2.4" height="92.9" fill="#222"/>
<rect x="872.7" y="99.6" width="1.9" height="99.4" fill="#111"/>
<rect x="832" y="143.2" width="15.3" height="22.2" fill="#fff"/>
<rect x="832" y="143.2" width="15.3" height="1.7" fill="#111"/>
<rect x="832" y="163.6" width="15.3" height="1.8" fill="#111"/>
<rect x="832" y="143.2" width="1.8" height="22.2" fill="#111"/>
<rect x="840.8" y="153.2" width="6.5" height="1.4" fill="#111"/>
<circle cx="837.2" cy="148.9" r="2.6" fill="#9a9a9a" stroke="#222" stroke-width="0.9"/>
<text x="837.2" y="149.94" font-size="2.9" text-anchor="middle" font-weight="bold" fill="#222">07</text>
<circle cx="837.2" cy="158.6" r="2.6" fill="#aaa" stroke="#333" stroke-width="0.9"/>
<text x="837.2" y="159.64" font-size="2.9" text-anchor="middle" font-weight="bold" fill="#222">08</text>
<polygon points="841.6,151.18 846.2,151.18 843.9,147.22" fill="#fff" stroke="#222" stroke-width="0.85" stroke-linejoin="round"/>
<text x="843.9" y="150.28" font-size="2.12" font-weight="bold" text-anchor="middle" fill="#333">1</text>
<rect x="840.5" y="156.2" width="5.2" height="5.2" fill="#ddd" stroke="#333" stroke-width="0.7"/>
<rect x="899.9" y="143.2" width="14.8" height="22.2" fill="#fff"/>
<rect x="899.9" y="143.2" width="14.8" height="1.7" fill="#111"/>
<rect x="899.9" y="163.6" width="14.8" height="1.8" fill="#111"/>
<rect x="912.9" y="143.2" width="1.8" height="22.2" fill="#111"/>
<rect x="899.9" y="153.2" width="6.5" height="1.4" fill="#111"/>
<circle cx="909.5" cy="148.9" r="2.6" fill="#9a9a9a" stroke="#222" stroke-width="0.9"/>
<text x="909.5" y="149.94" font-size="2.9" text-anchor="middle" font-weight="bold" fill="#222">07</text>
<circle cx="909.5" cy="158.6" r="2.6" fill="#aaa" stroke="#333" stroke-width="0.9"/>
<text x="909.5" y="159.64" font-size="2.9" text-anchor="middle" font-weight="bold" fill="#222">08</text>
<polygon points="901,151.18 905.6,151.18 903.3,147.22" fill="#fff" stroke="#222" stroke-width="0.85" stroke-linejoin="round"/>
<text x="903.3" y="150.28" font-size="2.12" font-weight="bold" text-anchor="middle" fill="#333">1</text>
<rect x="901.7" y="156.2" width="5.2" height="5.2" fill="#ddd" stroke="#333" stroke-width="0.7"/>
<text x="830" y="150" font-size="2.9" text-anchor="middle" font-weight="bold" fill="#555">3</text>
<polygon points="826,172.8 833.2,172.8 829.6,166.6" fill="#fff" stroke="#222" stroke-width="0.85" stroke-linejoin="round"/>
<text x="829.6" y="171.9" font-size="3.31" font-weight="bold" text-anchor="middle" fill="#333">1</text>
<polygon points="913.8,172.8 921,172.8 917.4,166.6" fill="#fff" stroke="#222" stroke-width="0.85" stroke-linejoin="round"/>
<text x="917.4" y="171.9" font-size="3.31" font-weight="bold" text-anchor="middle" fill="#333">1</text>
<polygon points="827.3,128 834.5,128 830.9,121.8" fill="#fff" stroke="#222" stroke-width="0.85" stroke-linejoin="round"/>
<text x="830.9" y="127.1" font-size="3.31" font-weight="bold" text-anchor="middle" fill="#333">1</text>
<polygon points="915,126.9 922.2,126.9 918.6,120.7" fill="#fff" stroke="#222" stroke-width="0.85" stroke-linejoin="round"/>
<text x="918.6" y="126" font-size="3.31" font-weight="bold" text-anchor="middle" fill="#333">1</text>
<circle cx="834.9" cy="115.8" r="3.7" fill="#d0d0d0" stroke="#1e1e1e" stroke-width="1"/>
<text x="834.9" y="117.02" font-size="3.4" text-anchor="middle" font-weight="bold" fill="#2a2a2a">42</text>
<circle cx="912.4" cy="115.8" r="3.7" fill="#d0d0d0" stroke="#1e1e1e" stroke-width="1"/>
<text x="912.4" y="117.02" font-size="3.4" text-anchor="middle" font-weight="bold" fill="#2a2a2a">42</text>
<circle cx="861.6" cy="118.6" r="3.7" fill="#d0d0d0" stroke="#1e1e1e" stroke-width="1"/>
<text x="861.6" y="119.82" font-size="3.4" text-anchor="middle" font-weight="bold" fill="#2a2a2a">42</text>
<circle cx="887.5" cy="118.6" r="3.7" fill="#d0d0d0" stroke="#1e1e1e" stroke-width="1"/>
<text x="887.5" y="119.82" font-size="3.4" text-anchor="middle" font-weight="bold" fill="#2a2a2a">42</text>
<rect x="856.6" y="104.1" width="12.7" height="4.7" fill="#6a6a6a" stroke="#1e1e1e" stroke-width="0.7"/>
<text x="862.95" y="107.53" font-size="3" text-anchor="middle" font-weight="bold" fill="#e6e6e6" textLength="11.1" lengthAdjust="spacingAndGlyphs">+11.850</text>
<rect x="882.8" y="104.1" width="12.5" height="4.7" fill="#6a6a6a" stroke="#1e1e1e" stroke-width="0.7"/>
<text x="889.05" y="107.53" font-size="3" text-anchor="middle" font-weight="bold" fill="#e6e6e6" textLength="10.9" lengthAdjust="spacingAndGlyphs">+11.850</text>
<rect x="857.6" y="182.3" width="14.2" height="3.7" fill="#6a6a6a" stroke="#1e1e1e" stroke-width="0.7"/>
<text x="864.7" y="185.23" font-size="3" text-anchor="middle" font-weight="bold" fill="#e6e6e6" textLength="12.6" lengthAdjust="spacingAndGlyphs">+11.850</text>
<rect x="879.8" y="182.3" width="13.7" height="3.7" fill="#6a6a6a" stroke="#1e1e1e" stroke-width="0.7"/>
<text x="886.65" y="185.23" font-size="3" text-anchor="middle" font-weight="bold" fill="#e6e6e6" textLength="12.1" lengthAdjust="spacingAndGlyphs">+11.850</text>
<text x="842.7" y="185.4" font-size="2.9" text-anchor="middle" font-weight="bold" fill="#333">Дв-1</text>
<text x="842.7" y="188.6" font-size="2.9" text-anchor="middle" font-weight="bold" fill="#333">EI60</text>
<text x="904.1" y="185.4" font-size="2.9" text-anchor="middle" font-weight="bold" fill="#333">Дв-1</text>
<text x="904.1" y="188.6" font-size="2.9" text-anchor="middle" font-weight="bold" fill="#333">EI60</text>
<rect x="847" y="192.2" width="13" height="10.4" fill="#111"/>
<rect x="849.8" y="196.3" width="7.6" height="3.7" fill="#d8d8d8"/>
<line x1="850.4" y1="196.8" x2="853" y2="199.5" stroke="#333" stroke-width="0.55"/>
<line x1="850.4" y1="199.5" x2="853" y2="196.8" stroke="#333" stroke-width="0.55"/>
<line x1="854.2" y1="196.8" x2="856.8" y2="199.5" stroke="#333" stroke-width="0.55"/>
<line x1="854.2" y1="199.5" x2="856.8" y2="196.8" stroke="#333" stroke-width="0.55"/>
<rect x="875.4" y="192.6" width="25.4" height="10" fill="#111"/>
<rect x="877.2" y="196.3" width="7.8" height="3.7" fill="#d8d8d8"/>
<line x1="877.8" y1="196.8" x2="880.5" y2="199.5" stroke="#333" stroke-width="0.55"/>
<line x1="877.8" y1="199.5" x2="880.5" y2="196.8" stroke="#333" stroke-width="0.55"/>
<line x1="881.7" y1="196.8" x2="884.4" y2="199.5" stroke="#333" stroke-width="0.55"/>
<line x1="881.7" y1="199.5" x2="884.4" y2="196.8" stroke="#333" stroke-width="0.55"/>
<rect x="886.2" y="196.3" width="10.2" height="3.7" fill="#d8d8d8"/>
<line x1="886.8" y1="196.8" x2="890.7" y2="199.5" stroke="#333" stroke-width="0.55"/>
<line x1="886.8" y1="199.5" x2="890.7" y2="196.8" stroke="#333" stroke-width="0.55"/>
<line x1="891.9" y1="196.8" x2="895.8" y2="199.5" stroke="#333" stroke-width="0.55"/>
<line x1="891.9" y1="199.5" x2="895.8" y2="196.8" stroke="#333" stroke-width="0.55"/>
<rect x="860" y="186" width="15.4" height="12" fill="#fff"/>
<rect x="860" y="198" width="15.4" height="4.4" fill="#fff"/>
<line x1="860" y1="200.8" x2="875.4" y2="200.8" stroke="#444" stroke-width="0.6"/>
<line x1="860" y1="186.2" x2="873" y2="186.2" stroke="#444" stroke-width="0.6"/>
<line x1="860.2" y1="186.2" x2="860.2" y2="192.5" stroke="#444" stroke-width="0.6"/>
<text x="862.8" y="199.5" font-size="2.9" text-anchor="start" font-weight="bold" fill="#333">Дв-Р1</text>
<line x1="864.7" y1="191" x2="864.7" y2="217.5" stroke="#444" stroke-width="0.7"/>
<rect x="831.2" y="202.6" width="11.5" height="5.8" fill="#111"/>
<rect x="833.2" y="204.3" width="7.2" height="2.6" fill="#d8d8d8"/>
<line x1="833.8" y1="204.8" x2="836.2" y2="206.4" stroke="#333" stroke-width="0.55"/>
<line x1="833.8" y1="206.4" x2="836.2" y2="204.8" stroke="#333" stroke-width="0.55"/>
<line x1="837.4" y1="204.8" x2="839.8" y2="206.4" stroke="#333" stroke-width="0.55"/>
<line x1="837.4" y1="206.4" x2="839.8" y2="204.8" stroke="#333" stroke-width="0.55"/>
<rect x="842.7" y="203.9" width="13.9" height="4.3" fill="#6a6a6a" stroke="#1e1e1e" stroke-width="0.7"/>
<text x="849.65" y="207.13" font-size="3" text-anchor="middle" font-weight="bold" fill="#e6e6e6" textLength="12.3" lengthAdjust="spacingAndGlyphs">+11.850</text>
<rect x="851.9" y="214" width="13" height="3.9" fill="#6a6a6a" stroke="#1e1e1e" stroke-width="0.7"/>
<text x="858.4" y="217.03" font-size="3" text-anchor="middle" font-weight="bold" fill="#e6e6e6" textLength="11.4" lengthAdjust="spacingAndGlyphs">+11.850</text>
<line x1="870.1" y1="186.2" x2="870.1" y2="193" stroke="#444" stroke-width="0.6"/>
<rect x="863.6" y="186.6" width="10.6" height="3.8" fill="#6a6a6a" stroke="#1e1e1e" stroke-width="0.7"/>
<text x="868.9" y="189.58" font-size="3" text-anchor="middle" font-weight="bold" fill="#e6e6e6" textLength="9" lengthAdjust="spacingAndGlyphs">+11.850</text>
<text x="834.3" y="193.38" font-size="3" text-anchor="middle" font-weight="bold" fill="#444">35</text>
<line x1="832.1" y1="194.3" x2="836.5" y2="194.3" stroke="#555" stroke-width="0.5"/>
<text x="867.8" y="189.68" font-size="3" text-anchor="middle" font-weight="bold" fill="#444">35</text>
<line x1="865.6" y1="190.6" x2="870" y2="190.6" stroke="#555" stroke-width="0.5"/>
<text x="893.2" y="189.68" font-size="3" text-anchor="middle" font-weight="bold" fill="#444">35</text>
<line x1="891" y1="190.6" x2="895.4" y2="190.6" stroke="#555" stroke-width="0.5"/>
<text x="842.2" y="137.08" font-size="3" text-anchor="middle" font-weight="bold" fill="#444">35</text>
<line x1="840" y1="138" x2="844.4" y2="138" stroke="#555" stroke-width="0.5"/>
<text x="920.1" y="137.08" font-size="3" text-anchor="middle" font-weight="bold" fill="#444">35</text>
<line x1="917.9" y1="138" x2="922.3" y2="138" stroke="#555" stroke-width="0.5"/>
<line x1="822.6" y1="131" x2="822.6" y2="142" stroke="#444" stroke-width="0.6"/>
<text x="822.6" y="137" font-size="2.9" text-anchor="middle" font-weight="bold" fill="#444">⊥</text>
<line x1="924.6" y1="131" x2="924.6" y2="142" stroke="#444" stroke-width="0.6"/>
<text x="924.6" y="137" font-size="2.9" text-anchor="middle" font-weight="bold" fill="#444">⊥</text>
<circle cx="800.9" cy="148.9" r="3.9" fill="#d0d0d0" stroke="#1e1e1e" stroke-width="1"/>
<text x="800.9" y="150.12" font-size="3.4" text-anchor="middle" font-weight="bold" fill="#2a2a2a">42</text>
<circle cx="946.3" cy="148.9" r="3.9" fill="#d0d0d0" stroke="#1e1e1e" stroke-width="1"/>
<text x="946.3" y="150.12" font-size="3.4" text-anchor="middle" font-weight="bold" fill="#2a2a2a">42</text>
<polygon points="788.9,159.08 796.3,159.08 792.6,152.72" fill="#fff" stroke="#222" stroke-width="0.85" stroke-linejoin="round"/>
<text x="792.6" y="158.18" font-size="3.4" font-weight="bold" text-anchor="middle" fill="#333">1</text>
<polygon points="947.6,159.68 955,159.68 951.3,153.32" fill="#fff" stroke="#222" stroke-width="0.85" stroke-linejoin="round"/>
<text x="951.3" y="158.78" font-size="3.4" font-weight="bold" text-anchor="middle" fill="#333">1</text>
<text x="973.2" y="193.38" font-size="3" text-anchor="middle" font-weight="bold" fill="#444">35</text>
<line x1="971" y1="194.3" x2="975.4" y2="194.3" stroke="#555" stroke-width="0.5"/>
<rect x="1040.1" y="99.6" width="1.7" height="44.7" fill="#6e6e6e"/>
<rect x="1145.1" y="99.6" width="1.7" height="44.7" fill="#6e6e6e"/>
<rect x="1040.1" y="142.4" width="27" height="1.9" fill="#9a9a9a" stroke="#333" stroke-width="0.5"/>
<rect x="1119.7" y="142.4" width="27.1" height="1.9" fill="#9a9a9a" stroke="#333" stroke-width="0.5"/>
<rect x="1067.1" y="139.2" width="52.6" height="41.7" fill="#fff"/>
<rect x="1067.1" y="139.2" width="52.6" height="1" fill="#1e1e1e"/>
<rect x="1067.1" y="141.93" width="52.6" height="1" fill="#1e1e1e"/>
<rect x="1067.1" y="144.66" width="52.6" height="1" fill="#1e1e1e"/>
<rect x="1067.1" y="147.39" width="52.6" height="1" fill="#1e1e1e"/>
<rect x="1067.1" y="150.12" width="52.6" height="1" fill="#1e1e1e"/>
<rect x="1067.1" y="152.85" width="52.6" height="1" fill="#1e1e1e"/>
<rect x="1067.1" y="155.58" width="52.6" height="1" fill="#1e1e1e"/>
<rect x="1067.1" y="158.31" width="52.6" height="1" fill="#1e1e1e"/>
<rect x="1067.1" y="161.04" width="52.6" height="1" fill="#1e1e1e"/>
<rect x="1067.1" y="163.77" width="52.6" height="1" fill="#1e1e1e"/>
<rect x="1067.1" y="166.5" width="52.6" height="1" fill="#1e1e1e"/>
<rect x="1067.1" y="169.23" width="52.6" height="1" fill="#1e1e1e"/>
<rect x="1067.1" y="171.96" width="52.6" height="1" fill="#1e1e1e"/>
<rect x="1067.1" y="174.69" width="52.6" height="1" fill="#1e1e1e"/>
<rect x="1067.1" y="177.42" width="52.6" height="1" fill="#1e1e1e"/>
<rect x="1067.1" y="180.15" width="52.6" height="1" fill="#1e1e1e"/>
<rect x="1073.1" y="139.2" width="1" height="41.7" fill="#2a2a2a"/>
<rect x="1086.2" y="139.2" width="1" height="41.7" fill="#2a2a2a"/>
<rect x="1099.5" y="139.2" width="1" height="41.7" fill="#2a2a2a"/>
<rect x="1112.7" y="139.2" width="1" height="41.7" fill="#2a2a2a"/>
<rect x="1079.5" y="139.2" width="2" height="41.7" fill="#111"/>
<rect x="1105.4" y="139.2" width="2" height="41.7" fill="#111"/>
<line x1="1067.1" y1="138.9" x2="1119.7" y2="138.9" stroke="#222" stroke-width="0.8"/>
<rect x="1066.2" y="99.6" width="1.9" height="92.9" fill="#111"/>
<rect x="1118.5" y="99.6" width="2.4" height="92.9" fill="#222"/>
<rect x="1092.5" y="99.6" width="1.9" height="99.4" fill="#111"/>
<rect x="1051.8" y="143.2" width="15.3" height="22.2" fill="#fff"/>
<rect x="1051.8" y="143.2" width="15.3" height="1.7" fill="#111"/>
<rect x="1051.8" y="163.6" width="15.3" height="1.8" fill="#111"/>
<rect x="1051.8" y="143.2" width="1.8" height="22.2" fill="#111"/>
<rect x="1060.6" y="153.2" width="6.5" height="1.4" fill="#111"/>
<circle cx="1057" cy="148.9" r="2.6" fill="#9a9a9a" stroke="#222" stroke-width="0.9"/>
<text x="1057" y="149.94" font-size="2.9" text-anchor="middle" font-weight="bold" fill="#222">07</text>
<circle cx="1057" cy="158.6" r="2.6" fill="#aaa" stroke="#333" stroke-width="0.9"/>
<text x="1057" y="159.64" font-size="2.9" text-anchor="middle" font-weight="bold" fill="#222">08</text>
<polygon points="1061.4,151.18 1066,151.18 1063.7,147.22" fill="#fff" stroke="#222" stroke-width="0.85" stroke-linejoin="round"/>
<text x="1063.7" y="150.28" font-size="2.12" font-weight="bold" text-anchor="middle" fill="#333">1</text>
<rect x="1060.3" y="156.2" width="5.2" height="5.2" fill="#ddd" stroke="#333" stroke-width="0.7"/>
<rect x="1119.7" y="143.2" width="14.8" height="22.2" fill="#fff"/>
<rect x="1119.7" y="143.2" width="14.8" height="1.7" fill="#111"/>
<rect x="1119.7" y="163.6" width="14.8" height="1.8" fill="#111"/>
<rect x="1132.7" y="143.2" width="1.8" height="22.2" fill="#111"/>
<rect x="1119.7" y="153.2" width="6.5" height="1.4" fill="#111"/>
<circle cx="1129.3" cy="148.9" r="2.6" fill="#9a9a9a" stroke="#222" stroke-width="0.9"/>
<text x="1129.3" y="149.94" font-size="2.9" text-anchor="middle" font-weight="bold" fill="#222">07</text>
<circle cx="1129.3" cy="158.6" r="2.6" fill="#aaa" stroke="#333" stroke-width="0.9"/>
<text x="1129.3" y="159.64" font-size="2.9" text-anchor="middle" font-weight="bold" fill="#222">08</text>
<polygon points="1120.8,151.18 1125.4,151.18 1123.1,147.22" fill="#fff" stroke="#222" stroke-width="0.85" stroke-linejoin="round"/>
<text x="1123.1" y="150.28" font-size="2.12" font-weight="bold" text-anchor="middle" fill="#333">1</text>
<rect x="1121.5" y="156.2" width="5.2" height="5.2" fill="#ddd" stroke="#333" stroke-width="0.7"/>
<text x="1049.8" y="150" font-size="2.9" text-anchor="middle" font-weight="bold" fill="#555">3</text>
<polygon points="1045.8,172.8 1053,172.8 1049.4,166.6" fill="#fff" stroke="#222" stroke-width="0.85" stroke-linejoin="round"/>
<text x="1049.4" y="171.9" font-size="3.31" font-weight="bold" text-anchor="middle" fill="#333">1</text>
<polygon points="1133.6,172.8 1140.8,172.8 1137.2,166.6" fill="#fff" stroke="#222" stroke-width="0.85" stroke-linejoin="round"/>
<text x="1137.2" y="171.9" font-size="3.31" font-weight="bold" text-anchor="middle" fill="#333">1</text>
<polygon points="1047.1,128 1054.3,128 1050.7,121.8" fill="#fff" stroke="#222" stroke-width="0.85" stroke-linejoin="round"/>
<text x="1050.7" y="127.1" font-size="3.31" font-weight="bold" text-anchor="middle" fill="#333">1</text>
<polygon points="1134.8,126.9 1142,126.9 1138.4,120.7" fill="#fff" stroke="#222" stroke-width="0.85" stroke-linejoin="round"/>
<text x="1138.4" y="126" font-size="3.31" font-weight="bold" text-anchor="middle" fill="#333">1</text>
<circle cx="1054.7" cy="115.8" r="3.7" fill="#d0d0d0" stroke="#1e1e1e" stroke-width="1"/>
<text x="1054.7" y="117.02" font-size="3.4" text-anchor="middle" font-weight="bold" fill="#2a2a2a">42</text>
<circle cx="1132.2" cy="115.8" r="3.7" fill="#d0d0d0" stroke="#1e1e1e" stroke-width="1"/>
<text x="1132.2" y="117.02" font-size="3.4" text-anchor="middle" font-weight="bold" fill="#2a2a2a">42</text>
<circle cx="1081.4" cy="118.6" r="3.7" fill="#d0d0d0" stroke="#1e1e1e" stroke-width="1"/>
<text x="1081.4" y="119.82" font-size="3.4" text-anchor="middle" font-weight="bold" fill="#2a2a2a">42</text>
<circle cx="1107.3" cy="118.6" r="3.7" fill="#d0d0d0" stroke="#1e1e1e" stroke-width="1"/>
<text x="1107.3" y="119.82" font-size="3.4" text-anchor="middle" font-weight="bold" fill="#2a2a2a">42</text>
<rect x="1076.4" y="104.1" width="12.7" height="4.7" fill="#6a6a6a" stroke="#1e1e1e" stroke-width="0.7"/>
<text x="1082.75" y="107.53" font-size="3" text-anchor="middle" font-weight="bold" fill="#e6e6e6" textLength="11.1" lengthAdjust="spacingAndGlyphs">+11.850</text>
<rect x="1102.6" y="104.1" width="12.5" height="4.7" fill="#6a6a6a" stroke="#1e1e1e" stroke-width="0.7"/>
<text x="1108.85" y="107.53" font-size="3" text-anchor="middle" font-weight="bold" fill="#e6e6e6" textLength="10.9" lengthAdjust="spacingAndGlyphs">+11.850</text>
<rect x="1077.4" y="182.3" width="14.2" height="3.7" fill="#6a6a6a" stroke="#1e1e1e" stroke-width="0.7"/>
<text x="1084.5" y="185.23" font-size="3" text-anchor="middle" font-weight="bold" fill="#e6e6e6" textLength="12.6" lengthAdjust="spacingAndGlyphs">+11.850</text>
<rect x="1099.6" y="182.3" width="13.7" height="3.7" fill="#6a6a6a" stroke="#1e1e1e" stroke-width="0.7"/>
<text x="1106.45" y="185.23" font-size="3" text-anchor="middle" font-weight="bold" fill="#e6e6e6" textLength="12.1" lengthAdjust="spacingAndGlyphs">+11.850</text>
<text x="1062.5" y="185.4" font-size="2.9" text-anchor="middle" font-weight="bold" fill="#333">Дв-1</text>
<text x="1062.5" y="188.6" font-size="2.9" text-anchor="middle" font-weight="bold" fill="#333">EI60</text>
<text x="1123.9" y="185.4" font-size="2.9" text-anchor="middle" font-weight="bold" fill="#333">Дв-1</text>
<text x="1123.9" y="188.6" font-size="2.9" text-anchor="middle" font-weight="bold" fill="#333">EI60</text>
<rect x="1066.2" y="192" width="54.6" height="8.5" fill="#111"/>
<rect x="1069.6" y="195.6" width="22.2" height="3.7" fill="#d8d8d8"/>
<line x1="1070.2" y1="196.1" x2="1073.44" y2="198.8" stroke="#333" stroke-width="0.55"/>
<line x1="1070.2" y1="198.8" x2="1073.44" y2="196.1" stroke="#333" stroke-width="0.55"/>
<line x1="1074.64" y1="196.1" x2="1077.88" y2="198.8" stroke="#333" stroke-width="0.55"/>
<line x1="1074.64" y1="198.8" x2="1077.88" y2="196.1" stroke="#333" stroke-width="0.55"/>
<line x1="1079.08" y1="196.1" x2="1082.32" y2="198.8" stroke="#333" stroke-width="0.55"/>
<line x1="1079.08" y1="198.8" x2="1082.32" y2="196.1" stroke="#333" stroke-width="0.55"/>
<line x1="1083.52" y1="196.1" x2="1086.76" y2="198.8" stroke="#333" stroke-width="0.55"/>
<line x1="1083.52" y1="198.8" x2="1086.76" y2="196.1" stroke="#333" stroke-width="0.55"/>
<line x1="1087.96" y1="196.1" x2="1091.2" y2="198.8" stroke="#333" stroke-width="0.55"/>
<line x1="1087.96" y1="198.8" x2="1091.2" y2="196.1" stroke="#333" stroke-width="0.55"/>
<rect x="1095.2" y="195.6" width="22.2" height="3.7" fill="#d8d8d8"/>
<line x1="1095.8" y1="196.1" x2="1099.04" y2="198.8" stroke="#333" stroke-width="0.55"/>
<line x1="1095.8" y1="198.8" x2="1099.04" y2="196.1" stroke="#333" stroke-width="0.55"/>
<line x1="1100.24" y1="196.1" x2="1103.48" y2="198.8" stroke="#333" stroke-width="0.55"/>
<line x1="1100.24" y1="198.8" x2="1103.48" y2="196.1" stroke="#333" stroke-width="0.55"/>
<line x1="1104.68" y1="196.1" x2="1107.92" y2="198.8" stroke="#333" stroke-width="0.55"/>
<line x1="1104.68" y1="198.8" x2="1107.92" y2="196.1" stroke="#333" stroke-width="0.55"/>
<line x1="1109.12" y1="196.1" x2="1112.36" y2="198.8" stroke="#333" stroke-width="0.55"/>
<line x1="1109.12" y1="198.8" x2="1112.36" y2="196.1" stroke="#333" stroke-width="0.55"/>
<line x1="1113.56" y1="196.1" x2="1116.8" y2="198.8" stroke="#333" stroke-width="0.55"/>
<line x1="1113.56" y1="198.8" x2="1116.8" y2="196.1" stroke="#333" stroke-width="0.55"/>
<line x1="1066.2" y1="193.4" x2="1120.8" y2="193.4" stroke="#777" stroke-width="0.5"/>
<text x="1054.1" y="193.38" font-size="3" text-anchor="middle" font-weight="bold" fill="#444">35</text>
<line x1="1051.9" y1="194.3" x2="1056.3" y2="194.3" stroke="#555" stroke-width="0.5"/>
<text x="1087.6" y="189.68" font-size="3" text-anchor="middle" font-weight="bold" fill="#444">35</text>
<line x1="1085.4" y1="190.6" x2="1089.8" y2="190.6" stroke="#555" stroke-width="0.5"/>
<text x="1113" y="189.68" font-size="3" text-anchor="middle" font-weight="bold" fill="#444">35</text>
<line x1="1110.8" y1="190.6" x2="1115.2" y2="190.6" stroke="#555" stroke-width="0.5"/>
<text x="1062" y="137.08" font-size="3" text-anchor="middle" font-weight="bold" fill="#444">35</text>
<line x1="1059.8" y1="138" x2="1064.2" y2="138" stroke="#555" stroke-width="0.5"/>
<text x="1139.9" y="137.08" font-size="3" text-anchor="middle" font-weight="bold" fill="#444">35</text>
<line x1="1137.7" y1="138" x2="1142.1" y2="138" stroke="#555" stroke-width="0.5"/>
<line x1="1042.4" y1="131" x2="1042.4" y2="142" stroke="#444" stroke-width="0.6"/>
<text x="1042.4" y="137" font-size="2.9" text-anchor="middle" font-weight="bold" fill="#444">⊥</text>
<line x1="1144.4" y1="131" x2="1144.4" y2="142" stroke="#444" stroke-width="0.6"/>
<text x="1144.4" y="137" font-size="2.9" text-anchor="middle" font-weight="bold" fill="#444">⊥</text>
<circle cx="1020.7" cy="148.9" r="3.9" fill="#d0d0d0" stroke="#1e1e1e" stroke-width="1"/>
<text x="1020.7" y="150.12" font-size="3.4" text-anchor="middle" font-weight="bold" fill="#2a2a2a">42</text>
<circle cx="1166.1" cy="148.9" r="3.9" fill="#d0d0d0" stroke="#1e1e1e" stroke-width="1"/>
<text x="1166.1" y="150.12" font-size="3.4" text-anchor="middle" font-weight="bold" fill="#2a2a2a">42</text>
<polygon points="1008.7,159.08 1016.1,159.08 1012.4,152.72" fill="#fff" stroke="#222" stroke-width="0.85" stroke-linejoin="round"/>
<text x="1012.4" y="158.18" font-size="3.4" font-weight="bold" text-anchor="middle" fill="#333">1</text>
<polygon points="1167.4,159.68 1174.8,159.68 1171.1,153.32" fill="#fff" stroke="#222" stroke-width="0.85" stroke-linejoin="round"/>
<text x="1171.1" y="158.78" font-size="3.4" font-weight="bold" text-anchor="middle" fill="#333">1</text>
<text x="1193" y="193.38" font-size="3" text-anchor="middle" font-weight="bold" fill="#444">35</text>
<line x1="1190.8" y1="194.3" x2="1195.2" y2="194.3" stroke="#555" stroke-width="0.5"/>
<polyline points="242.6,202.4 242.6,210.3 257.6,210.3" fill="none" stroke="#222" stroke-width="0.7"/>
<text x="243.8" y="209.4" font-size="2.9" text-anchor="start" font-weight="bold" fill="#333" textLength="13" lengthAdjust="spacingAndGlyphs">+13.180</text>
<polyline points="461.6,202.4 461.6,210.3 476.6,210.3" fill="none" stroke="#222" stroke-width="0.7"/>
<text x="462.8" y="209.4" font-size="2.9" text-anchor="start" font-weight="bold" fill="#333" textLength="13" lengthAdjust="spacingAndGlyphs">+13.180</text>
<polyline points="900.4,202.4 900.4,210.3 915.4,210.3" fill="none" stroke="#222" stroke-width="0.7"/>
<text x="901.6" y="209.4" font-size="2.9" text-anchor="start" font-weight="bold" fill="#333" textLength="13" lengthAdjust="spacingAndGlyphs">+13.180</text>
<polyline points="1120.8,202.4 1120.8,210.3 1135.8,210.3" fill="none" stroke="#222" stroke-width="0.7"/>
<text x="1122" y="209.4" font-size="2.9" text-anchor="start" font-weight="bold" fill="#333" textLength="13" lengthAdjust="spacingAndGlyphs">+13.180</text>
<polyline points="626.8,202.4 626.8,210.2 641.7,210.2" fill="none" stroke="#222" stroke-width="0.7"/>
<text x="628" y="209.3" font-size="2.9" text-anchor="start" font-weight="bold" fill="#333" textLength="12.9" lengthAdjust="spacingAndGlyphs">+13.180</text>
<text x="296.3" y="215" font-size="2.9" text-anchor="start" font-weight="bold" fill="#333" textLength="22.5" lengthAdjust="spacingAndGlyphs">Вентшахта ВШ-1</text>
<line x1="296.3" y1="215.6" x2="318.8" y2="215.6" stroke="#333" stroke-width="0.6"/>
<text x="307.3" y="218.8" font-size="2.9" text-anchor="start" font-weight="bold" fill="#333" textLength="11" lengthAdjust="spacingAndGlyphs">см. АР-3</text>
<line x1="318.8" y1="216" x2="324.5" y2="203.3" stroke="#222" stroke-width="0.7"/>
<text x="955.9" y="215.4" font-size="2.9" text-anchor="start" font-weight="bold" fill="#333" textLength="22.2" lengthAdjust="spacingAndGlyphs">Вентшахта ВШ-1</text>
<line x1="955.9" y1="216" x2="978.1" y2="216" stroke="#333" stroke-width="0.6"/>
<text x="966.6" y="219.2" font-size="2.9" text-anchor="start" font-weight="bold" fill="#333" textLength="11" lengthAdjust="spacingAndGlyphs">см. АР-3</text>
<line x1="978.1" y1="216.4" x2="983.9" y2="201" stroke="#222" stroke-width="0.7"/>
</g>
<g id="cores-bot">
<rect x="161.7" y="536.3" width="1.7" height="44.7" fill="#6e6e6e"/>
<rect x="266.7" y="536.3" width="1.7" height="44.7" fill="#6e6e6e"/>
<rect x="161.7" y="536.3" width="27" height="1.9" fill="#9a9a9a" stroke="#333" stroke-width="0.5"/>
<rect x="241.3" y="536.3" width="27.1" height="1.9" fill="#9a9a9a" stroke="#333" stroke-width="0.5"/>
<rect x="188.7" y="499.7" width="52.6" height="41.7" fill="#fff"/>
<rect x="188.7" y="540.4" width="52.6" height="1" fill="#1e1e1e"/>
<rect x="188.7" y="537.67" width="52.6" height="1" fill="#1e1e1e"/>
<rect x="188.7" y="534.94" width="52.6" height="1" fill="#1e1e1e"/>
<rect x="188.7" y="532.21" width="52.6" height="1" fill="#1e1e1e"/>
<rect x="188.7" y="529.48" width="52.6" height="1" fill="#1e1e1e"/>
<rect x="188.7" y="526.75" width="52.6" height="1" fill="#1e1e1e"/>
<rect x="188.7" y="524.02" width="52.6" height="1" fill="#1e1e1e"/>
<rect x="188.7" y="521.29" width="52.6" height="1" fill="#1e1e1e"/>
<rect x="188.7" y="518.56" width="52.6" height="1" fill="#1e1e1e"/>
<rect x="188.7" y="515.83" width="52.6" height="1" fill="#1e1e1e"/>
<rect x="188.7" y="513.1" width="52.6" height="1" fill="#1e1e1e"/>
<rect x="188.7" y="510.37" width="52.6" height="1" fill="#1e1e1e"/>
<rect x="188.7" y="507.64" width="52.6" height="1" fill="#1e1e1e"/>
<rect x="188.7" y="504.91" width="52.6" height="1" fill="#1e1e1e"/>
<rect x="188.7" y="502.18" width="52.6" height="1" fill="#1e1e1e"/>
<rect x="188.7" y="499.45" width="52.6" height="1" fill="#1e1e1e"/>
<rect x="194.7" y="499.7" width="1" height="41.7" fill="#2a2a2a"/>
<rect x="207.8" y="499.7" width="1" height="41.7" fill="#2a2a2a"/>
<rect x="221.1" y="499.7" width="1" height="41.7" fill="#2a2a2a"/>
<rect x="234.3" y="499.7" width="1" height="41.7" fill="#2a2a2a"/>
<rect x="201.1" y="499.7" width="2" height="41.7" fill="#111"/>
<rect x="227" y="499.7" width="2" height="41.7" fill="#111"/>
<line x1="188.7" y1="541.7" x2="241.3" y2="541.7" stroke="#222" stroke-width="0.8"/>
<rect x="187.8" y="482.2" width="1.9" height="98.8" fill="#111"/>
<rect x="240.1" y="482.2" width="2.4" height="98.8" fill="#222"/>
<rect x="214.1" y="481.6" width="1.9" height="99.4" fill="#111"/>
<rect x="173.4" y="515.2" width="15.3" height="22.2" fill="#fff"/>
<rect x="173.4" y="535.7" width="15.3" height="1.7" fill="#111"/>
<rect x="173.4" y="515.2" width="15.3" height="1.8" fill="#111"/>
<rect x="173.4" y="515.2" width="1.8" height="22.2" fill="#111"/>
<rect x="182.2" y="526" width="6.5" height="1.4" fill="#111"/>
<circle cx="178.6" cy="531.7" r="2.6" fill="#9a9a9a" stroke="#222" stroke-width="0.9"/>
<text x="178.6" y="532.74" font-size="2.9" text-anchor="middle" font-weight="bold" fill="#222">07</text>
<circle cx="178.6" cy="522" r="2.6" fill="#aaa" stroke="#333" stroke-width="0.9"/>
<text x="178.6" y="523.04" font-size="2.9" text-anchor="middle" font-weight="bold" fill="#222">08</text>
<polygon points="183,533.38 187.6,533.38 185.3,529.42" fill="#fff" stroke="#222" stroke-width="0.85" stroke-linejoin="round"/>
<text x="185.3" y="532.48" font-size="2.12" font-weight="bold" text-anchor="middle" fill="#333">1</text>
<rect x="181.9" y="519.2" width="5.2" height="5.2" fill="#ddd" stroke="#333" stroke-width="0.7"/>
<rect x="241.3" y="515.2" width="14.8" height="22.2" fill="#fff"/>
<rect x="241.3" y="535.7" width="14.8" height="1.7" fill="#111"/>
<rect x="241.3" y="515.2" width="14.8" height="1.8" fill="#111"/>
<rect x="254.3" y="515.2" width="1.8" height="22.2" fill="#111"/>
<rect x="241.3" y="526" width="6.5" height="1.4" fill="#111"/>
<circle cx="250.9" cy="531.7" r="2.6" fill="#9a9a9a" stroke="#222" stroke-width="0.9"/>
<text x="250.9" y="532.74" font-size="2.9" text-anchor="middle" font-weight="bold" fill="#222">07</text>
<circle cx="250.9" cy="522" r="2.6" fill="#aaa" stroke="#333" stroke-width="0.9"/>
<text x="250.9" y="523.04" font-size="2.9" text-anchor="middle" font-weight="bold" fill="#222">08</text>
<polygon points="242.4,533.38 247,533.38 244.7,529.42" fill="#fff" stroke="#222" stroke-width="0.85" stroke-linejoin="round"/>
<text x="244.7" y="532.48" font-size="2.12" font-weight="bold" text-anchor="middle" fill="#333">1</text>
<rect x="243.1" y="519.2" width="5.2" height="5.2" fill="#ddd" stroke="#333" stroke-width="0.7"/>
<text x="171.4" y="532.69" font-size="2.9" text-anchor="middle" font-weight="bold" fill="#555">3</text>
<polygon points="171.4,511.3 178.6,511.3 175,505.1" fill="#fff" stroke="#222" stroke-width="0.85" stroke-linejoin="round"/>
<text x="175" y="510.4" font-size="3.31" font-weight="bold" text-anchor="middle" fill="#333">1</text>
<polygon points="249.2,511 256.4,511 252.8,504.8" fill="#fff" stroke="#222" stroke-width="0.85" stroke-linejoin="round"/>
<text x="252.8" y="510.1" font-size="3.31" font-weight="bold" text-anchor="middle" fill="#333">1</text>
<polygon points="165,566.9 172.2,566.9 168.6,560.7" fill="#fff" stroke="#222" stroke-width="0.85" stroke-linejoin="round"/>
<text x="168.6" y="566" font-size="3.31" font-weight="bold" text-anchor="middle" fill="#333">1</text>
<polygon points="254.5,567.4 261.7,567.4 258.1,561.2" fill="#fff" stroke="#222" stroke-width="0.85" stroke-linejoin="round"/>
<text x="258.1" y="566.5" font-size="3.31" font-weight="bold" text-anchor="middle" fill="#333">1</text>
<circle cx="176.1" cy="557.9" r="3.7" fill="#d0d0d0" stroke="#1e1e1e" stroke-width="1"/>
<text x="176.1" y="559.12" font-size="3.4" text-anchor="middle" font-weight="bold" fill="#2a2a2a">42</text>
<circle cx="253.4" cy="558.5" r="3.7" fill="#d0d0d0" stroke="#1e1e1e" stroke-width="1"/>
<text x="253.4" y="559.72" font-size="3.4" text-anchor="middle" font-weight="bold" fill="#2a2a2a">42</text>
<circle cx="202.8" cy="555.9" r="3.7" fill="#d0d0d0" stroke="#1e1e1e" stroke-width="1"/>
<text x="202.8" y="557.12" font-size="3.4" text-anchor="middle" font-weight="bold" fill="#2a2a2a">42</text>
<circle cx="228.3" cy="555.9" r="3.7" fill="#d0d0d0" stroke="#1e1e1e" stroke-width="1"/>
<text x="228.3" y="557.12" font-size="3.4" text-anchor="middle" font-weight="bold" fill="#2a2a2a">42</text>
<rect x="198.5" y="567.7" width="11.7" height="3.6" fill="#6a6a6a" stroke="#1e1e1e" stroke-width="0.7"/>
<text x="204.35" y="570.58" font-size="3" text-anchor="middle" font-weight="bold" fill="#e6e6e6" textLength="10.1" lengthAdjust="spacingAndGlyphs">+11.850</text>
<rect x="224" y="567.7" width="12.8" height="3.6" fill="#6a6a6a" stroke="#1e1e1e" stroke-width="0.7"/>
<text x="230.4" y="570.58" font-size="3" text-anchor="middle" font-weight="bold" fill="#e6e6e6" textLength="11.2" lengthAdjust="spacingAndGlyphs">+11.850</text>
<rect x="199" y="490.6" width="14.2" height="4.1" fill="#6a6a6a" stroke="#1e1e1e" stroke-width="0.7"/>
<text x="206.1" y="493.73" font-size="3" text-anchor="middle" font-weight="bold" fill="#e6e6e6" textLength="12.6" lengthAdjust="spacingAndGlyphs">+11.850</text>
<rect x="221.2" y="490.6" width="13.7" height="4.1" fill="#6a6a6a" stroke="#1e1e1e" stroke-width="0.7"/>
<text x="228.05" y="493.73" font-size="3" text-anchor="middle" font-weight="bold" fill="#e6e6e6" textLength="12.1" lengthAdjust="spacingAndGlyphs">+11.850</text>
<text x="184.1" y="497.29" font-size="2.9" text-anchor="middle" font-weight="bold" fill="#333">Дв-1</text>
<text x="184.1" y="494.09" font-size="2.9" text-anchor="middle" font-weight="bold" fill="#333">EI60</text>
<text x="245.5" y="497.29" font-size="2.9" text-anchor="middle" font-weight="bold" fill="#333">Дв-1</text>
<text x="245.5" y="494.09" font-size="2.9" text-anchor="middle" font-weight="bold" fill="#333">EI60</text>
<text x="182.8" y="578.28" font-size="3" text-anchor="middle" font-weight="bold" fill="#444">35</text>
<line x1="180.6" y1="575.2" x2="185" y2="575.2" stroke="#555" stroke-width="0.5"/>
<text x="209" y="578.28" font-size="3" text-anchor="middle" font-weight="bold" fill="#444">35</text>
<line x1="206.8" y1="575.2" x2="211.2" y2="575.2" stroke="#555" stroke-width="0.5"/>
<text x="235.5" y="578.28" font-size="3" text-anchor="middle" font-weight="bold" fill="#444">35</text>
<line x1="233.3" y1="575.2" x2="237.7" y2="575.2" stroke="#555" stroke-width="0.5"/>
<text x="261.3" y="578.28" font-size="3" text-anchor="middle" font-weight="bold" fill="#444">35</text>
<line x1="259.1" y1="575.2" x2="263.5" y2="575.2" stroke="#555" stroke-width="0.5"/>
<line x1="164" y1="549.6" x2="164" y2="538.6" stroke="#444" stroke-width="0.6"/>
<text x="164" y="545.69" font-size="2.9" text-anchor="middle" font-weight="bold" fill="#444">⊥</text>
<line x1="266" y1="549.6" x2="266" y2="538.6" stroke="#444" stroke-width="0.6"/>
<text x="266" y="545.69" font-size="2.9" text-anchor="middle" font-weight="bold" fill="#444">⊥</text>
<circle cx="142.3" cy="531.7" r="3.9" fill="#d0d0d0" stroke="#1e1e1e" stroke-width="1"/>
<text x="142.3" y="532.92" font-size="3.4" text-anchor="middle" font-weight="bold" fill="#2a2a2a">42</text>
<circle cx="287.7" cy="531.7" r="3.9" fill="#d0d0d0" stroke="#1e1e1e" stroke-width="1"/>
<text x="287.7" y="532.92" font-size="3.4" text-anchor="middle" font-weight="bold" fill="#2a2a2a">42</text>
<polygon points="131.7,541.88 139.1,541.88 135.4,535.52" fill="#fff" stroke="#222" stroke-width="0.85" stroke-linejoin="round"/>
<text x="135.4" y="540.98" font-size="3.4" font-weight="bold" text-anchor="middle" fill="#333">1</text>
<polygon points="289,541.68 296.4,541.68 292.7,535.32" fill="#fff" stroke="#222" stroke-width="0.85" stroke-linejoin="round"/>
<text x="292.7" y="540.78" font-size="3.4" font-weight="bold" text-anchor="middle" fill="#333">1</text>
<text x="153.5" y="576.68" font-size="3" text-anchor="middle" font-weight="bold" fill="#444">35</text>
<line x1="151.3" y1="573.6" x2="155.7" y2="573.6" stroke="#555" stroke-width="0.5"/>
<text x="316" y="576.68" font-size="3" text-anchor="middle" font-weight="bold" fill="#444">35</text>
<line x1="313.8" y1="573.6" x2="318.2" y2="573.6" stroke="#555" stroke-width="0.5"/>
<rect x="381.6" y="536.3" width="1.7" height="44.7" fill="#6e6e6e"/>
<rect x="486.6" y="536.3" width="1.7" height="44.7" fill="#6e6e6e"/>
<rect x="381.6" y="536.3" width="27" height="1.9" fill="#9a9a9a" stroke="#333" stroke-width="0.5"/>
<rect x="461.2" y="536.3" width="27.1" height="1.9" fill="#9a9a9a" stroke="#333" stroke-width="0.5"/>
<rect x="408.6" y="499.7" width="52.6" height="41.7" fill="#fff"/>
<rect x="408.6" y="540.4" width="52.6" height="1" fill="#1e1e1e"/>
<rect x="408.6" y="537.67" width="52.6" height="1" fill="#1e1e1e"/>
<rect x="408.6" y="534.94" width="52.6" height="1" fill="#1e1e1e"/>
<rect x="408.6" y="532.21" width="52.6" height="1" fill="#1e1e1e"/>
<rect x="408.6" y="529.48" width="52.6" height="1" fill="#1e1e1e"/>
<rect x="408.6" y="526.75" width="52.6" height="1" fill="#1e1e1e"/>
<rect x="408.6" y="524.02" width="52.6" height="1" fill="#1e1e1e"/>
<rect x="408.6" y="521.29" width="52.6" height="1" fill="#1e1e1e"/>
<rect x="408.6" y="518.56" width="52.6" height="1" fill="#1e1e1e"/>
<rect x="408.6" y="515.83" width="52.6" height="1" fill="#1e1e1e"/>
<rect x="408.6" y="513.1" width="52.6" height="1" fill="#1e1e1e"/>
<rect x="408.6" y="510.37" width="52.6" height="1" fill="#1e1e1e"/>
<rect x="408.6" y="507.64" width="52.6" height="1" fill="#1e1e1e"/>
<rect x="408.6" y="504.91" width="52.6" height="1" fill="#1e1e1e"/>
<rect x="408.6" y="502.18" width="52.6" height="1" fill="#1e1e1e"/>
<rect x="408.6" y="499.45" width="52.6" height="1" fill="#1e1e1e"/>
<rect x="414.6" y="499.7" width="1" height="41.7" fill="#2a2a2a"/>
<rect x="427.7" y="499.7" width="1" height="41.7" fill="#2a2a2a"/>
<rect x="441" y="499.7" width="1" height="41.7" fill="#2a2a2a"/>
<rect x="454.2" y="499.7" width="1" height="41.7" fill="#2a2a2a"/>
<rect x="421" y="499.7" width="2" height="41.7" fill="#111"/>
<rect x="446.9" y="499.7" width="2" height="41.7" fill="#111"/>
<line x1="408.6" y1="541.7" x2="461.2" y2="541.7" stroke="#222" stroke-width="0.8"/>
<rect x="407.7" y="482.2" width="1.9" height="98.8" fill="#111"/>
<rect x="460" y="482.2" width="2.4" height="98.8" fill="#222"/>
<rect x="434" y="481.6" width="1.9" height="99.4" fill="#111"/>
<rect x="393.3" y="515.2" width="15.3" height="22.2" fill="#fff"/>
<rect x="393.3" y="535.7" width="15.3" height="1.7" fill="#111"/>
<rect x="393.3" y="515.2" width="15.3" height="1.8" fill="#111"/>
<rect x="393.3" y="515.2" width="1.8" height="22.2" fill="#111"/>
<rect x="402.1" y="526" width="6.5" height="1.4" fill="#111"/>
<circle cx="398.5" cy="531.7" r="2.6" fill="#9a9a9a" stroke="#222" stroke-width="0.9"/>
<text x="398.5" y="532.74" font-size="2.9" text-anchor="middle" font-weight="bold" fill="#222">07</text>
<circle cx="398.5" cy="522" r="2.6" fill="#aaa" stroke="#333" stroke-width="0.9"/>
<text x="398.5" y="523.04" font-size="2.9" text-anchor="middle" font-weight="bold" fill="#222">08</text>
<polygon points="402.9,533.38 407.5,533.38 405.2,529.42" fill="#fff" stroke="#222" stroke-width="0.85" stroke-linejoin="round"/>
<text x="405.2" y="532.48" font-size="2.12" font-weight="bold" text-anchor="middle" fill="#333">1</text>
<rect x="401.8" y="519.2" width="5.2" height="5.2" fill="#ddd" stroke="#333" stroke-width="0.7"/>
<rect x="461.2" y="515.2" width="14.8" height="22.2" fill="#fff"/>
<rect x="461.2" y="535.7" width="14.8" height="1.7" fill="#111"/>
<rect x="461.2" y="515.2" width="14.8" height="1.8" fill="#111"/>
<rect x="474.2" y="515.2" width="1.8" height="22.2" fill="#111"/>
<rect x="461.2" y="526" width="6.5" height="1.4" fill="#111"/>
<circle cx="470.8" cy="531.7" r="2.6" fill="#9a9a9a" stroke="#222" stroke-width="0.9"/>
<text x="470.8" y="532.74" font-size="2.9" text-anchor="middle" font-weight="bold" fill="#222">07</text>
<circle cx="470.8" cy="522" r="2.6" fill="#aaa" stroke="#333" stroke-width="0.9"/>
<text x="470.8" y="523.04" font-size="2.9" text-anchor="middle" font-weight="bold" fill="#222">08</text>
<polygon points="462.3,533.38 466.9,533.38 464.6,529.42" fill="#fff" stroke="#222" stroke-width="0.85" stroke-linejoin="round"/>
<text x="464.6" y="532.48" font-size="2.12" font-weight="bold" text-anchor="middle" fill="#333">1</text>
<rect x="463" y="519.2" width="5.2" height="5.2" fill="#ddd" stroke="#333" stroke-width="0.7"/>
<text x="391.3" y="532.69" font-size="2.9" text-anchor="middle" font-weight="bold" fill="#555">3</text>
<polygon points="391.3,511.3 398.5,511.3 394.9,505.1" fill="#fff" stroke="#222" stroke-width="0.85" stroke-linejoin="round"/>
<text x="394.9" y="510.4" font-size="3.31" font-weight="bold" text-anchor="middle" fill="#333">1</text>
<polygon points="469.1,511 476.3,511 472.7,504.8" fill="#fff" stroke="#222" stroke-width="0.85" stroke-linejoin="round"/>
<text x="472.7" y="510.1" font-size="3.31" font-weight="bold" text-anchor="middle" fill="#333">1</text>
<polygon points="384.9,566.9 392.1,566.9 388.5,560.7" fill="#fff" stroke="#222" stroke-width="0.85" stroke-linejoin="round"/>
<text x="388.5" y="566" font-size="3.31" font-weight="bold" text-anchor="middle" fill="#333">1</text>
<polygon points="474.4,567.4 481.6,567.4 478,561.2" fill="#fff" stroke="#222" stroke-width="0.85" stroke-linejoin="round"/>
<text x="478" y="566.5" font-size="3.31" font-weight="bold" text-anchor="middle" fill="#333">1</text>
<circle cx="396" cy="557.9" r="3.7" fill="#d0d0d0" stroke="#1e1e1e" stroke-width="1"/>
<text x="396" y="559.12" font-size="3.4" text-anchor="middle" font-weight="bold" fill="#2a2a2a">42</text>
<circle cx="473.3" cy="558.5" r="3.7" fill="#d0d0d0" stroke="#1e1e1e" stroke-width="1"/>
<text x="473.3" y="559.72" font-size="3.4" text-anchor="middle" font-weight="bold" fill="#2a2a2a">42</text>
<circle cx="422.7" cy="555.9" r="3.7" fill="#d0d0d0" stroke="#1e1e1e" stroke-width="1"/>
<text x="422.7" y="557.12" font-size="3.4" text-anchor="middle" font-weight="bold" fill="#2a2a2a">42</text>
<circle cx="448.2" cy="555.9" r="3.7" fill="#d0d0d0" stroke="#1e1e1e" stroke-width="1"/>
<text x="448.2" y="557.12" font-size="3.4" text-anchor="middle" font-weight="bold" fill="#2a2a2a">42</text>
<rect x="418.4" y="567.7" width="11.7" height="3.6" fill="#6a6a6a" stroke="#1e1e1e" stroke-width="0.7"/>
<text x="424.25" y="570.58" font-size="3" text-anchor="middle" font-weight="bold" fill="#e6e6e6" textLength="10.1" lengthAdjust="spacingAndGlyphs">+11.850</text>
<rect x="443.9" y="567.7" width="12.8" height="3.6" fill="#6a6a6a" stroke="#1e1e1e" stroke-width="0.7"/>
<text x="450.3" y="570.58" font-size="3" text-anchor="middle" font-weight="bold" fill="#e6e6e6" textLength="11.2" lengthAdjust="spacingAndGlyphs">+11.850</text>
<rect x="418.9" y="490.6" width="14.2" height="4.1" fill="#6a6a6a" stroke="#1e1e1e" stroke-width="0.7"/>
<text x="426" y="493.73" font-size="3" text-anchor="middle" font-weight="bold" fill="#e6e6e6" textLength="12.6" lengthAdjust="spacingAndGlyphs">+11.850</text>
<rect x="441.1" y="490.6" width="13.7" height="4.1" fill="#6a6a6a" stroke="#1e1e1e" stroke-width="0.7"/>
<text x="447.95" y="493.73" font-size="3" text-anchor="middle" font-weight="bold" fill="#e6e6e6" textLength="12.1" lengthAdjust="spacingAndGlyphs">+11.850</text>
<text x="404" y="497.29" font-size="2.9" text-anchor="middle" font-weight="bold" fill="#333">Дв-1</text>
<text x="404" y="494.09" font-size="2.9" text-anchor="middle" font-weight="bold" fill="#333">EI60</text>
<text x="465.4" y="497.29" font-size="2.9" text-anchor="middle" font-weight="bold" fill="#333">Дв-1</text>
<text x="465.4" y="494.09" font-size="2.9" text-anchor="middle" font-weight="bold" fill="#333">EI60</text>
<text x="402.7" y="578.28" font-size="3" text-anchor="middle" font-weight="bold" fill="#444">35</text>
<line x1="400.5" y1="575.2" x2="404.9" y2="575.2" stroke="#555" stroke-width="0.5"/>
<text x="428.9" y="578.28" font-size="3" text-anchor="middle" font-weight="bold" fill="#444">35</text>
<line x1="426.7" y1="575.2" x2="431.1" y2="575.2" stroke="#555" stroke-width="0.5"/>
<text x="455.4" y="578.28" font-size="3" text-anchor="middle" font-weight="bold" fill="#444">35</text>
<line x1="453.2" y1="575.2" x2="457.6" y2="575.2" stroke="#555" stroke-width="0.5"/>
<text x="481.2" y="578.28" font-size="3" text-anchor="middle" font-weight="bold" fill="#444">35</text>
<line x1="479" y1="575.2" x2="483.4" y2="575.2" stroke="#555" stroke-width="0.5"/>
<line x1="383.9" y1="549.6" x2="383.9" y2="538.6" stroke="#444" stroke-width="0.6"/>
<text x="383.9" y="545.69" font-size="2.9" text-anchor="middle" font-weight="bold" fill="#444">⊥</text>
<line x1="485.9" y1="549.6" x2="485.9" y2="538.6" stroke="#444" stroke-width="0.6"/>
<text x="485.9" y="545.69" font-size="2.9" text-anchor="middle" font-weight="bold" fill="#444">⊥</text>
<circle cx="362.2" cy="531.7" r="3.9" fill="#d0d0d0" stroke="#1e1e1e" stroke-width="1"/>
<text x="362.2" y="532.92" font-size="3.4" text-anchor="middle" font-weight="bold" fill="#2a2a2a">42</text>
<circle cx="507.6" cy="531.7" r="3.9" fill="#d0d0d0" stroke="#1e1e1e" stroke-width="1"/>
<text x="507.6" y="532.92" font-size="3.4" text-anchor="middle" font-weight="bold" fill="#2a2a2a">42</text>
<polygon points="351.6,541.88 359,541.88 355.3,535.52" fill="#fff" stroke="#222" stroke-width="0.85" stroke-linejoin="round"/>
<text x="355.3" y="540.98" font-size="3.4" font-weight="bold" text-anchor="middle" fill="#333">1</text>
<polygon points="508.9,541.68 516.3,541.68 512.6,535.32" fill="#fff" stroke="#222" stroke-width="0.85" stroke-linejoin="round"/>
<text x="512.6" y="540.78" font-size="3.4" font-weight="bold" text-anchor="middle" fill="#333">1</text>
<text x="373.4" y="576.68" font-size="3" text-anchor="middle" font-weight="bold" fill="#444">35</text>
<line x1="371.2" y1="573.6" x2="375.6" y2="573.6" stroke="#555" stroke-width="0.5"/>
<text x="535.9" y="576.68" font-size="3" text-anchor="middle" font-weight="bold" fill="#444">35</text>
<line x1="533.7" y1="573.6" x2="538.1" y2="573.6" stroke="#555" stroke-width="0.5"/>
<rect x="599.8" y="536.3" width="1.7" height="44.7" fill="#6e6e6e"/>
<rect x="707.2" y="536.3" width="1.7" height="44.7" fill="#6e6e6e"/>
<rect x="599.8" y="536.3" width="27.24" height="1.9" fill="#9a9a9a" stroke="#333" stroke-width="0.5"/>
<rect x="681.56" y="536.3" width="27.34" height="1.9" fill="#9a9a9a" stroke="#333" stroke-width="0.5"/>
<rect x="627.04" y="499.7" width="54.52" height="41.7" fill="#fff"/>
<rect x="627.04" y="540.4" width="54.52" height="1" fill="#1e1e1e"/>
<rect x="627.04" y="537.67" width="54.52" height="1" fill="#1e1e1e"/>
<rect x="627.04" y="534.94" width="54.52" height="1" fill="#1e1e1e"/>
<rect x="627.04" y="532.21" width="54.52" height="1" fill="#1e1e1e"/>
<rect x="627.04" y="529.48" width="54.52" height="1" fill="#1e1e1e"/>
<rect x="627.04" y="526.75" width="54.52" height="1" fill="#1e1e1e"/>
<rect x="627.04" y="524.02" width="54.52" height="1" fill="#1e1e1e"/>
<rect x="627.04" y="521.29" width="54.52" height="1" fill="#1e1e1e"/>
<rect x="627.04" y="518.56" width="54.52" height="1" fill="#1e1e1e"/>
<rect x="627.04" y="515.83" width="54.52" height="1" fill="#1e1e1e"/>
<rect x="627.04" y="513.1" width="54.52" height="1" fill="#1e1e1e"/>
<rect x="627.04" y="510.37" width="54.52" height="1" fill="#1e1e1e"/>
<rect x="627.04" y="507.64" width="54.52" height="1" fill="#1e1e1e"/>
<rect x="627.04" y="504.91" width="54.52" height="1" fill="#1e1e1e"/>
<rect x="627.04" y="502.18" width="54.52" height="1" fill="#1e1e1e"/>
<rect x="627.04" y="499.45" width="54.52" height="1" fill="#1e1e1e"/>
<rect x="633.04" y="499.7" width="1" height="41.7" fill="#2a2a2a"/>
<rect x="647.1" y="499.7" width="1" height="41.7" fill="#2a2a2a"/>
<rect x="660.4" y="499.7" width="1" height="41.7" fill="#2a2a2a"/>
<rect x="674.56" y="499.7" width="1" height="41.7" fill="#2a2a2a"/>
<rect x="640.4" y="499.7" width="2" height="41.7" fill="#111"/>
<rect x="666.3" y="499.7" width="2" height="41.7" fill="#111"/>
<line x1="627.04" y1="541.7" x2="681.56" y2="541.7" stroke="#222" stroke-width="0.8"/>
<rect x="626.14" y="482.2" width="1.9" height="98.8" fill="#111"/>
<rect x="680.36" y="482.2" width="2.4" height="98.8" fill="#222"/>
<rect x="651.1" y="481.6" width="5.9" height="99.4" fill="#2e2e2e"/>
<rect x="652.7" y="481.6" width="2.8" height="99.4" fill="#121212"/>
<rect x="611.74" y="515.2" width="15.3" height="22.2" fill="#fff"/>
<rect x="611.74" y="535.7" width="15.3" height="1.7" fill="#111"/>
<rect x="611.74" y="515.2" width="15.3" height="1.8" fill="#111"/>
<rect x="611.74" y="515.2" width="1.8" height="22.2" fill="#111"/>
<rect x="620.54" y="526" width="6.5" height="1.4" fill="#111"/>
<circle cx="616.94" cy="531.7" r="2.6" fill="#9a9a9a" stroke="#222" stroke-width="0.9"/>
<text x="616.94" y="532.74" font-size="2.9" text-anchor="middle" font-weight="bold" fill="#222">07</text>
<circle cx="616.94" cy="522" r="2.6" fill="#aaa" stroke="#333" stroke-width="0.9"/>
<text x="616.94" y="523.04" font-size="2.9" text-anchor="middle" font-weight="bold" fill="#222">08</text>
<polygon points="621.34,533.38 625.94,533.38 623.64,529.42" fill="#fff" stroke="#222" stroke-width="0.85" stroke-linejoin="round"/>
<text x="623.64" y="532.48" font-size="2.12" font-weight="bold" text-anchor="middle" fill="#333">1</text>
<rect x="620.24" y="519.2" width="5.2" height="5.2" fill="#ddd" stroke="#333" stroke-width="0.7"/>
<rect x="681.56" y="515.2" width="14.8" height="22.2" fill="#fff"/>
<rect x="681.56" y="535.7" width="14.8" height="1.7" fill="#111"/>
<rect x="681.56" y="515.2" width="14.8" height="1.8" fill="#111"/>
<rect x="694.56" y="515.2" width="1.8" height="22.2" fill="#111"/>
<rect x="681.56" y="526" width="6.5" height="1.4" fill="#111"/>
<circle cx="691.16" cy="531.7" r="2.6" fill="#9a9a9a" stroke="#222" stroke-width="0.9"/>
<text x="691.16" y="532.74" font-size="2.9" text-anchor="middle" font-weight="bold" fill="#222">07</text>
<circle cx="691.16" cy="522" r="2.6" fill="#aaa" stroke="#333" stroke-width="0.9"/>
<text x="691.16" y="523.04" font-size="2.9" text-anchor="middle" font-weight="bold" fill="#222">08</text>
<polygon points="682.66,533.38 687.26,533.38 684.96,529.42" fill="#fff" stroke="#222" stroke-width="0.85" stroke-linejoin="round"/>
<text x="684.96" y="532.48" font-size="2.12" font-weight="bold" text-anchor="middle" fill="#333">1</text>
<rect x="683.36" y="519.2" width="5.2" height="5.2" fill="#ddd" stroke="#333" stroke-width="0.7"/>
<text x="609.74" y="532.69" font-size="2.9" text-anchor="middle" font-weight="bold" fill="#555">3</text>
<polygon points="610.7,511.3 617.9,511.3 614.3,505.1" fill="#fff" stroke="#222" stroke-width="0.85" stroke-linejoin="round"/>
<text x="614.3" y="510.4" font-size="3.31" font-weight="bold" text-anchor="middle" fill="#333">1</text>
<polygon points="688.5,511 695.7,511 692.1,504.8" fill="#fff" stroke="#222" stroke-width="0.85" stroke-linejoin="round"/>
<text x="692.1" y="510.1" font-size="3.31" font-weight="bold" text-anchor="middle" fill="#333">1</text>
<polygon points="604.3,566.9 611.5,566.9 607.9,560.7" fill="#fff" stroke="#222" stroke-width="0.85" stroke-linejoin="round"/>
<text x="607.9" y="566" font-size="3.31" font-weight="bold" text-anchor="middle" fill="#333">1</text>
<polygon points="693.8,567.4 701,567.4 697.4,561.2" fill="#fff" stroke="#222" stroke-width="0.85" stroke-linejoin="round"/>
<text x="697.4" y="566.5" font-size="3.31" font-weight="bold" text-anchor="middle" fill="#333">1</text>
<circle cx="615.4" cy="557.9" r="3.7" fill="#d0d0d0" stroke="#1e1e1e" stroke-width="1"/>
<text x="615.4" y="559.12" font-size="3.4" text-anchor="middle" font-weight="bold" fill="#2a2a2a">42</text>
<circle cx="692.7" cy="558.5" r="3.7" fill="#d0d0d0" stroke="#1e1e1e" stroke-width="1"/>
<text x="692.7" y="559.72" font-size="3.4" text-anchor="middle" font-weight="bold" fill="#2a2a2a">42</text>
<circle cx="642.1" cy="555.9" r="3.7" fill="#d0d0d0" stroke="#1e1e1e" stroke-width="1"/>
<text x="642.1" y="557.12" font-size="3.4" text-anchor="middle" font-weight="bold" fill="#2a2a2a">42</text>
<circle cx="667.6" cy="555.9" r="3.7" fill="#d0d0d0" stroke="#1e1e1e" stroke-width="1"/>
<text x="667.6" y="557.12" font-size="3.4" text-anchor="middle" font-weight="bold" fill="#2a2a2a">42</text>
<rect x="637.8" y="567.7" width="11.7" height="3.6" fill="#6a6a6a" stroke="#1e1e1e" stroke-width="0.7"/>
<text x="643.65" y="570.58" font-size="3" text-anchor="middle" font-weight="bold" fill="#e6e6e6" textLength="10.1" lengthAdjust="spacingAndGlyphs">+11.850</text>
<rect x="663.3" y="567.7" width="12.8" height="3.6" fill="#6a6a6a" stroke="#1e1e1e" stroke-width="0.7"/>
<text x="669.7" y="570.58" font-size="3" text-anchor="middle" font-weight="bold" fill="#e6e6e6" textLength="11.2" lengthAdjust="spacingAndGlyphs">+11.850</text>
<text x="622.44" y="497.29" font-size="2.9" text-anchor="middle" font-weight="bold" fill="#333">Дв-1</text>
<text x="622.44" y="494.09" font-size="2.9" text-anchor="middle" font-weight="bold" fill="#333">EI60</text>
<text x="685.76" y="497.29" font-size="2.9" text-anchor="middle" font-weight="bold" fill="#333">Дв-1</text>
<text x="685.76" y="494.09" font-size="2.9" text-anchor="middle" font-weight="bold" fill="#333">EI60</text>
<text x="622.1" y="578.28" font-size="3" text-anchor="middle" font-weight="bold" fill="#444">35</text>
<line x1="619.9" y1="575.2" x2="624.3" y2="575.2" stroke="#555" stroke-width="0.5"/>
<text x="648.3" y="578.28" font-size="3" text-anchor="middle" font-weight="bold" fill="#444">35</text>
<line x1="646.1" y1="575.2" x2="650.5" y2="575.2" stroke="#555" stroke-width="0.5"/>
<text x="674.8" y="578.28" font-size="3" text-anchor="middle" font-weight="bold" fill="#444">35</text>
<line x1="672.6" y1="575.2" x2="677" y2="575.2" stroke="#555" stroke-width="0.5"/>
<text x="700.6" y="578.28" font-size="3" text-anchor="middle" font-weight="bold" fill="#444">35</text>
<line x1="698.4" y1="575.2" x2="702.8" y2="575.2" stroke="#555" stroke-width="0.5"/>
<line x1="602.1" y1="549.6" x2="602.1" y2="538.6" stroke="#444" stroke-width="0.6"/>
<text x="602.1" y="545.69" font-size="2.9" text-anchor="middle" font-weight="bold" fill="#444">⊥</text>
<line x1="706.5" y1="549.6" x2="706.5" y2="538.6" stroke="#444" stroke-width="0.6"/>
<text x="706.5" y="545.69" font-size="2.9" text-anchor="middle" font-weight="bold" fill="#444">⊥</text>
<circle cx="581.6" cy="531.7" r="3.9" fill="#d0d0d0" stroke="#1e1e1e" stroke-width="1"/>
<text x="581.6" y="532.92" font-size="3.4" text-anchor="middle" font-weight="bold" fill="#2a2a2a">42</text>
<circle cx="727" cy="531.7" r="3.9" fill="#d0d0d0" stroke="#1e1e1e" stroke-width="1"/>
<text x="727" y="532.92" font-size="3.4" text-anchor="middle" font-weight="bold" fill="#2a2a2a">42</text>
<polygon points="571,541.88 578.4,541.88 574.7,535.52" fill="#fff" stroke="#222" stroke-width="0.85" stroke-linejoin="round"/>
<text x="574.7" y="540.98" font-size="3.4" font-weight="bold" text-anchor="middle" fill="#333">1</text>
<polygon points="728.3,541.68 735.7,541.68 732,535.32" fill="#fff" stroke="#222" stroke-width="0.85" stroke-linejoin="round"/>
<text x="732" y="540.78" font-size="3.4" font-weight="bold" text-anchor="middle" fill="#333">1</text>
<text x="592.8" y="576.68" font-size="3" text-anchor="middle" font-weight="bold" fill="#444">35</text>
<line x1="590.6" y1="573.6" x2="595" y2="573.6" stroke="#555" stroke-width="0.5"/>
<text x="755.3" y="576.68" font-size="3" text-anchor="middle" font-weight="bold" fill="#444">35</text>
<line x1="753.1" y1="573.6" x2="757.5" y2="573.6" stroke="#555" stroke-width="0.5"/>
<rect x="820.8" y="536.3" width="1.7" height="44.7" fill="#6e6e6e"/>
<rect x="925.8" y="536.3" width="1.7" height="44.7" fill="#6e6e6e"/>
<rect x="820.8" y="536.3" width="27" height="1.9" fill="#9a9a9a" stroke="#333" stroke-width="0.5"/>
<rect x="900.4" y="536.3" width="27.1" height="1.9" fill="#9a9a9a" stroke="#333" stroke-width="0.5"/>
<rect x="847.8" y="499.7" width="52.6" height="41.7" fill="#fff"/>
<rect x="847.8" y="540.4" width="52.6" height="1" fill="#1e1e1e"/>
<rect x="847.8" y="537.67" width="52.6" height="1" fill="#1e1e1e"/>
<rect x="847.8" y="534.94" width="52.6" height="1" fill="#1e1e1e"/>
<rect x="847.8" y="532.21" width="52.6" height="1" fill="#1e1e1e"/>
<rect x="847.8" y="529.48" width="52.6" height="1" fill="#1e1e1e"/>
<rect x="847.8" y="526.75" width="52.6" height="1" fill="#1e1e1e"/>
<rect x="847.8" y="524.02" width="52.6" height="1" fill="#1e1e1e"/>
<rect x="847.8" y="521.29" width="52.6" height="1" fill="#1e1e1e"/>
<rect x="847.8" y="518.56" width="52.6" height="1" fill="#1e1e1e"/>
<rect x="847.8" y="515.83" width="52.6" height="1" fill="#1e1e1e"/>
<rect x="847.8" y="513.1" width="52.6" height="1" fill="#1e1e1e"/>
<rect x="847.8" y="510.37" width="52.6" height="1" fill="#1e1e1e"/>
<rect x="847.8" y="507.64" width="52.6" height="1" fill="#1e1e1e"/>
<rect x="847.8" y="504.91" width="52.6" height="1" fill="#1e1e1e"/>
<rect x="847.8" y="502.18" width="52.6" height="1" fill="#1e1e1e"/>
<rect x="847.8" y="499.45" width="52.6" height="1" fill="#1e1e1e"/>
<rect x="853.8" y="499.7" width="1" height="41.7" fill="#2a2a2a"/>
<rect x="866.9" y="499.7" width="1" height="41.7" fill="#2a2a2a"/>
<rect x="880.2" y="499.7" width="1" height="41.7" fill="#2a2a2a"/>
<rect x="893.4" y="499.7" width="1" height="41.7" fill="#2a2a2a"/>
<rect x="860.2" y="499.7" width="2" height="41.7" fill="#111"/>
<rect x="886.1" y="499.7" width="2" height="41.7" fill="#111"/>
<line x1="847.8" y1="541.7" x2="900.4" y2="541.7" stroke="#222" stroke-width="0.8"/>
<rect x="846.9" y="482.2" width="1.9" height="98.8" fill="#111"/>
<rect x="899.2" y="482.2" width="2.4" height="98.8" fill="#222"/>
<rect x="873.2" y="481.6" width="1.9" height="99.4" fill="#111"/>
<rect x="832.5" y="515.2" width="15.3" height="22.2" fill="#fff"/>
<rect x="832.5" y="535.7" width="15.3" height="1.7" fill="#111"/>
<rect x="832.5" y="515.2" width="15.3" height="1.8" fill="#111"/>
<rect x="832.5" y="515.2" width="1.8" height="22.2" fill="#111"/>
<rect x="841.3" y="526" width="6.5" height="1.4" fill="#111"/>
<circle cx="837.7" cy="531.7" r="2.6" fill="#9a9a9a" stroke="#222" stroke-width="0.9"/>
<text x="837.7" y="532.74" font-size="2.9" text-anchor="middle" font-weight="bold" fill="#222">07</text>
<circle cx="837.7" cy="522" r="2.6" fill="#aaa" stroke="#333" stroke-width="0.9"/>
<text x="837.7" y="523.04" font-size="2.9" text-anchor="middle" font-weight="bold" fill="#222">08</text>
<polygon points="842.1,533.38 846.7,533.38 844.4,529.42" fill="#fff" stroke="#222" stroke-width="0.85" stroke-linejoin="round"/>
<text x="844.4" y="532.48" font-size="2.12" font-weight="bold" text-anchor="middle" fill="#333">1</text>
<rect x="841" y="519.2" width="5.2" height="5.2" fill="#ddd" stroke="#333" stroke-width="0.7"/>
<rect x="900.4" y="515.2" width="14.8" height="22.2" fill="#fff"/>
<rect x="900.4" y="535.7" width="14.8" height="1.7" fill="#111"/>
<rect x="900.4" y="515.2" width="14.8" height="1.8" fill="#111"/>
<rect x="913.4" y="515.2" width="1.8" height="22.2" fill="#111"/>
<rect x="900.4" y="526" width="6.5" height="1.4" fill="#111"/>
<circle cx="910" cy="531.7" r="2.6" fill="#9a9a9a" stroke="#222" stroke-width="0.9"/>
<text x="910" y="532.74" font-size="2.9" text-anchor="middle" font-weight="bold" fill="#222">07</text>
<circle cx="910" cy="522" r="2.6" fill="#aaa" stroke="#333" stroke-width="0.9"/>
<text x="910" y="523.04" font-size="2.9" text-anchor="middle" font-weight="bold" fill="#222">08</text>
<polygon points="901.5,533.38 906.1,533.38 903.8,529.42" fill="#fff" stroke="#222" stroke-width="0.85" stroke-linejoin="round"/>
<text x="903.8" y="532.48" font-size="2.12" font-weight="bold" text-anchor="middle" fill="#333">1</text>
<rect x="902.2" y="519.2" width="5.2" height="5.2" fill="#ddd" stroke="#333" stroke-width="0.7"/>
<text x="830.5" y="532.69" font-size="2.9" text-anchor="middle" font-weight="bold" fill="#555">3</text>
<polygon points="830.5,511.3 837.7,511.3 834.1,505.1" fill="#fff" stroke="#222" stroke-width="0.85" stroke-linejoin="round"/>
<text x="834.1" y="510.4" font-size="3.31" font-weight="bold" text-anchor="middle" fill="#333">1</text>
<polygon points="908.3,511 915.5,511 911.9,504.8" fill="#fff" stroke="#222" stroke-width="0.85" stroke-linejoin="round"/>
<text x="911.9" y="510.1" font-size="3.31" font-weight="bold" text-anchor="middle" fill="#333">1</text>
<polygon points="824.1,566.9 831.3,566.9 827.7,560.7" fill="#fff" stroke="#222" stroke-width="0.85" stroke-linejoin="round"/>
<text x="827.7" y="566" font-size="3.31" font-weight="bold" text-anchor="middle" fill="#333">1</text>
<polygon points="913.6,567.4 920.8,567.4 917.2,561.2" fill="#fff" stroke="#222" stroke-width="0.85" stroke-linejoin="round"/>
<text x="917.2" y="566.5" font-size="3.31" font-weight="bold" text-anchor="middle" fill="#333">1</text>
<circle cx="835.2" cy="557.9" r="3.7" fill="#d0d0d0" stroke="#1e1e1e" stroke-width="1"/>
<text x="835.2" y="559.12" font-size="3.4" text-anchor="middle" font-weight="bold" fill="#2a2a2a">42</text>
<circle cx="912.5" cy="558.5" r="3.7" fill="#d0d0d0" stroke="#1e1e1e" stroke-width="1"/>
<text x="912.5" y="559.72" font-size="3.4" text-anchor="middle" font-weight="bold" fill="#2a2a2a">42</text>
<circle cx="861.9" cy="555.9" r="3.7" fill="#d0d0d0" stroke="#1e1e1e" stroke-width="1"/>
<text x="861.9" y="557.12" font-size="3.4" text-anchor="middle" font-weight="bold" fill="#2a2a2a">42</text>
<circle cx="887.4" cy="555.9" r="3.7" fill="#d0d0d0" stroke="#1e1e1e" stroke-width="1"/>
<text x="887.4" y="557.12" font-size="3.4" text-anchor="middle" font-weight="bold" fill="#2a2a2a">42</text>
<rect x="857.6" y="567.7" width="11.7" height="3.6" fill="#6a6a6a" stroke="#1e1e1e" stroke-width="0.7"/>
<text x="863.45" y="570.58" font-size="3" text-anchor="middle" font-weight="bold" fill="#e6e6e6" textLength="10.1" lengthAdjust="spacingAndGlyphs">+11.850</text>
<rect x="883.1" y="567.7" width="12.8" height="3.6" fill="#6a6a6a" stroke="#1e1e1e" stroke-width="0.7"/>
<text x="889.5" y="570.58" font-size="3" text-anchor="middle" font-weight="bold" fill="#e6e6e6" textLength="11.2" lengthAdjust="spacingAndGlyphs">+11.850</text>
<rect x="858.1" y="490.6" width="14.2" height="4.1" fill="#6a6a6a" stroke="#1e1e1e" stroke-width="0.7"/>
<text x="865.2" y="493.73" font-size="3" text-anchor="middle" font-weight="bold" fill="#e6e6e6" textLength="12.6" lengthAdjust="spacingAndGlyphs">+11.850</text>
<rect x="880.3" y="490.6" width="13.7" height="4.1" fill="#6a6a6a" stroke="#1e1e1e" stroke-width="0.7"/>
<text x="887.15" y="493.73" font-size="3" text-anchor="middle" font-weight="bold" fill="#e6e6e6" textLength="12.1" lengthAdjust="spacingAndGlyphs">+11.850</text>
<text x="843.2" y="497.29" font-size="2.9" text-anchor="middle" font-weight="bold" fill="#333">Дв-1</text>
<text x="843.2" y="494.09" font-size="2.9" text-anchor="middle" font-weight="bold" fill="#333">EI60</text>
<text x="904.6" y="497.29" font-size="2.9" text-anchor="middle" font-weight="bold" fill="#333">Дв-1</text>
<text x="904.6" y="494.09" font-size="2.9" text-anchor="middle" font-weight="bold" fill="#333">EI60</text>
<text x="841.9" y="578.28" font-size="3" text-anchor="middle" font-weight="bold" fill="#444">35</text>
<line x1="839.7" y1="575.2" x2="844.1" y2="575.2" stroke="#555" stroke-width="0.5"/>
<text x="868.1" y="578.28" font-size="3" text-anchor="middle" font-weight="bold" fill="#444">35</text>
<line x1="865.9" y1="575.2" x2="870.3" y2="575.2" stroke="#555" stroke-width="0.5"/>
<text x="894.6" y="578.28" font-size="3" text-anchor="middle" font-weight="bold" fill="#444">35</text>
<line x1="892.4" y1="575.2" x2="896.8" y2="575.2" stroke="#555" stroke-width="0.5"/>
<text x="920.4" y="578.28" font-size="3" text-anchor="middle" font-weight="bold" fill="#444">35</text>
<line x1="918.2" y1="575.2" x2="922.6" y2="575.2" stroke="#555" stroke-width="0.5"/>
<line x1="823.1" y1="549.6" x2="823.1" y2="538.6" stroke="#444" stroke-width="0.6"/>
<text x="823.1" y="545.69" font-size="2.9" text-anchor="middle" font-weight="bold" fill="#444">⊥</text>
<line x1="925.1" y1="549.6" x2="925.1" y2="538.6" stroke="#444" stroke-width="0.6"/>
<text x="925.1" y="545.69" font-size="2.9" text-anchor="middle" font-weight="bold" fill="#444">⊥</text>
<circle cx="801.4" cy="531.7" r="3.9" fill="#d0d0d0" stroke="#1e1e1e" stroke-width="1"/>
<text x="801.4" y="532.92" font-size="3.4" text-anchor="middle" font-weight="bold" fill="#2a2a2a">42</text>
<circle cx="946.8" cy="531.7" r="3.9" fill="#d0d0d0" stroke="#1e1e1e" stroke-width="1"/>
<text x="946.8" y="532.92" font-size="3.4" text-anchor="middle" font-weight="bold" fill="#2a2a2a">42</text>
<polygon points="790.8,541.88 798.2,541.88 794.5,535.52" fill="#fff" stroke="#222" stroke-width="0.85" stroke-linejoin="round"/>
<text x="794.5" y="540.98" font-size="3.4" font-weight="bold" text-anchor="middle" fill="#333">1</text>
<polygon points="948.1,541.68 955.5,541.68 951.8,535.32" fill="#fff" stroke="#222" stroke-width="0.85" stroke-linejoin="round"/>
<text x="951.8" y="540.78" font-size="3.4" font-weight="bold" text-anchor="middle" fill="#333">1</text>
<text x="812.6" y="576.68" font-size="3" text-anchor="middle" font-weight="bold" fill="#444">35</text>
<line x1="810.4" y1="573.6" x2="814.8" y2="573.6" stroke="#555" stroke-width="0.5"/>
<text x="975.1" y="576.68" font-size="3" text-anchor="middle" font-weight="bold" fill="#444">35</text>
<line x1="972.9" y1="573.6" x2="977.3" y2="573.6" stroke="#555" stroke-width="0.5"/>
<rect x="1039.7" y="536.3" width="1.7" height="44.7" fill="#6e6e6e"/>
<rect x="1144.7" y="536.3" width="1.7" height="44.7" fill="#6e6e6e"/>
<rect x="1039.7" y="536.3" width="27" height="1.9" fill="#9a9a9a" stroke="#333" stroke-width="0.5"/>
<rect x="1119.3" y="536.3" width="27.1" height="1.9" fill="#9a9a9a" stroke="#333" stroke-width="0.5"/>
<rect x="1066.7" y="499.7" width="52.6" height="41.7" fill="#fff"/>
<rect x="1066.7" y="540.4" width="52.6" height="1" fill="#1e1e1e"/>
<rect x="1066.7" y="537.67" width="52.6" height="1" fill="#1e1e1e"/>
<rect x="1066.7" y="534.94" width="52.6" height="1" fill="#1e1e1e"/>
<rect x="1066.7" y="532.21" width="52.6" height="1" fill="#1e1e1e"/>
<rect x="1066.7" y="529.48" width="52.6" height="1" fill="#1e1e1e"/>
<rect x="1066.7" y="526.75" width="52.6" height="1" fill="#1e1e1e"/>
<rect x="1066.7" y="524.02" width="52.6" height="1" fill="#1e1e1e"/>
<rect x="1066.7" y="521.29" width="52.6" height="1" fill="#1e1e1e"/>
<rect x="1066.7" y="518.56" width="52.6" height="1" fill="#1e1e1e"/>
<rect x="1066.7" y="515.83" width="52.6" height="1" fill="#1e1e1e"/>
<rect x="1066.7" y="513.1" width="52.6" height="1" fill="#1e1e1e"/>
<rect x="1066.7" y="510.37" width="52.6" height="1" fill="#1e1e1e"/>
<rect x="1066.7" y="507.64" width="52.6" height="1" fill="#1e1e1e"/>
<rect x="1066.7" y="504.91" width="52.6" height="1" fill="#1e1e1e"/>
<rect x="1066.7" y="502.18" width="52.6" height="1" fill="#1e1e1e"/>
<rect x="1066.7" y="499.45" width="52.6" height="1" fill="#1e1e1e"/>
<rect x="1072.7" y="499.7" width="1" height="41.7" fill="#2a2a2a"/>
<rect x="1085.8" y="499.7" width="1" height="41.7" fill="#2a2a2a"/>
<rect x="1099.1" y="499.7" width="1" height="41.7" fill="#2a2a2a"/>
<rect x="1112.3" y="499.7" width="1" height="41.7" fill="#2a2a2a"/>
<rect x="1079.1" y="499.7" width="2" height="41.7" fill="#111"/>
<rect x="1105" y="499.7" width="2" height="41.7" fill="#111"/>
<line x1="1066.7" y1="541.7" x2="1119.3" y2="541.7" stroke="#222" stroke-width="0.8"/>
<rect x="1065.8" y="482.2" width="1.9" height="98.8" fill="#111"/>
<rect x="1118.1" y="482.2" width="2.4" height="98.8" fill="#222"/>
<rect x="1092.1" y="481.6" width="1.9" height="99.4" fill="#111"/>
<rect x="1051.4" y="515.2" width="15.3" height="22.2" fill="#fff"/>
<rect x="1051.4" y="535.7" width="15.3" height="1.7" fill="#111"/>
<rect x="1051.4" y="515.2" width="15.3" height="1.8" fill="#111"/>
<rect x="1051.4" y="515.2" width="1.8" height="22.2" fill="#111"/>
<rect x="1060.2" y="526" width="6.5" height="1.4" fill="#111"/>
<circle cx="1056.6" cy="531.7" r="2.6" fill="#9a9a9a" stroke="#222" stroke-width="0.9"/>
<text x="1056.6" y="532.74" font-size="2.9" text-anchor="middle" font-weight="bold" fill="#222">07</text>
<circle cx="1056.6" cy="522" r="2.6" fill="#aaa" stroke="#333" stroke-width="0.9"/>
<text x="1056.6" y="523.04" font-size="2.9" text-anchor="middle" font-weight="bold" fill="#222">08</text>
<polygon points="1061,533.38 1065.6,533.38 1063.3,529.42" fill="#fff" stroke="#222" stroke-width="0.85" stroke-linejoin="round"/>
<text x="1063.3" y="532.48" font-size="2.12" font-weight="bold" text-anchor="middle" fill="#333">1</text>
<rect x="1059.9" y="519.2" width="5.2" height="5.2" fill="#ddd" stroke="#333" stroke-width="0.7"/>
<rect x="1119.3" y="515.2" width="14.8" height="22.2" fill="#fff"/>
<rect x="1119.3" y="535.7" width="14.8" height="1.7" fill="#111"/>
<rect x="1119.3" y="515.2" width="14.8" height="1.8" fill="#111"/>
<rect x="1132.3" y="515.2" width="1.8" height="22.2" fill="#111"/>
<rect x="1119.3" y="526" width="6.5" height="1.4" fill="#111"/>
<circle cx="1128.9" cy="531.7" r="2.6" fill="#9a9a9a" stroke="#222" stroke-width="0.9"/>
<text x="1128.9" y="532.74" font-size="2.9" text-anchor="middle" font-weight="bold" fill="#222">07</text>
<circle cx="1128.9" cy="522" r="2.6" fill="#aaa" stroke="#333" stroke-width="0.9"/>
<text x="1128.9" y="523.04" font-size="2.9" text-anchor="middle" font-weight="bold" fill="#222">08</text>
<polygon points="1120.4,533.38 1125,533.38 1122.7,529.42" fill="#fff" stroke="#222" stroke-width="0.85" stroke-linejoin="round"/>
<text x="1122.7" y="532.48" font-size="2.12" font-weight="bold" text-anchor="middle" fill="#333">1</text>
<rect x="1121.1" y="519.2" width="5.2" height="5.2" fill="#ddd" stroke="#333" stroke-width="0.7"/>
<text x="1049.4" y="532.69" font-size="2.9" text-anchor="middle" font-weight="bold" fill="#555">3</text>
<polygon points="1049.4,511.3 1056.6,511.3 1053,505.1" fill="#fff" stroke="#222" stroke-width="0.85" stroke-linejoin="round"/>
<text x="1053" y="510.4" font-size="3.31" font-weight="bold" text-anchor="middle" fill="#333">1</text>
<polygon points="1127.2,511 1134.4,511 1130.8,504.8" fill="#fff" stroke="#222" stroke-width="0.85" stroke-linejoin="round"/>
<text x="1130.8" y="510.1" font-size="3.31" font-weight="bold" text-anchor="middle" fill="#333">1</text>
<polygon points="1043,566.9 1050.2,566.9 1046.6,560.7" fill="#fff" stroke="#222" stroke-width="0.85" stroke-linejoin="round"/>
<text x="1046.6" y="566" font-size="3.31" font-weight="bold" text-anchor="middle" fill="#333">1</text>
<polygon points="1132.5,567.4 1139.7,567.4 1136.1,561.2" fill="#fff" stroke="#222" stroke-width="0.85" stroke-linejoin="round"/>
<text x="1136.1" y="566.5" font-size="3.31" font-weight="bold" text-anchor="middle" fill="#333">1</text>
<circle cx="1054.1" cy="557.9" r="3.7" fill="#d0d0d0" stroke="#1e1e1e" stroke-width="1"/>
<text x="1054.1" y="559.12" font-size="3.4" text-anchor="middle" font-weight="bold" fill="#2a2a2a">42</text>
<circle cx="1131.4" cy="558.5" r="3.7" fill="#d0d0d0" stroke="#1e1e1e" stroke-width="1"/>
<text x="1131.4" y="559.72" font-size="3.4" text-anchor="middle" font-weight="bold" fill="#2a2a2a">42</text>
<circle cx="1080.8" cy="555.9" r="3.7" fill="#d0d0d0" stroke="#1e1e1e" stroke-width="1"/>
<text x="1080.8" y="557.12" font-size="3.4" text-anchor="middle" font-weight="bold" fill="#2a2a2a">42</text>
<circle cx="1106.3" cy="555.9" r="3.7" fill="#d0d0d0" stroke="#1e1e1e" stroke-width="1"/>
<text x="1106.3" y="557.12" font-size="3.4" text-anchor="middle" font-weight="bold" fill="#2a2a2a">42</text>
<rect x="1076.5" y="567.7" width="11.7" height="3.6" fill="#6a6a6a" stroke="#1e1e1e" stroke-width="0.7"/>
<text x="1082.35" y="570.58" font-size="3" text-anchor="middle" font-weight="bold" fill="#e6e6e6" textLength="10.1" lengthAdjust="spacingAndGlyphs">+11.850</text>
<rect x="1102" y="567.7" width="12.8" height="3.6" fill="#6a6a6a" stroke="#1e1e1e" stroke-width="0.7"/>
<text x="1108.4" y="570.58" font-size="3" text-anchor="middle" font-weight="bold" fill="#e6e6e6" textLength="11.2" lengthAdjust="spacingAndGlyphs">+11.850</text>
<rect x="1077" y="490.6" width="14.2" height="4.1" fill="#6a6a6a" stroke="#1e1e1e" stroke-width="0.7"/>
<text x="1084.1" y="493.73" font-size="3" text-anchor="middle" font-weight="bold" fill="#e6e6e6" textLength="12.6" lengthAdjust="spacingAndGlyphs">+11.850</text>
<rect x="1099.2" y="490.6" width="13.7" height="4.1" fill="#6a6a6a" stroke="#1e1e1e" stroke-width="0.7"/>
<text x="1106.05" y="493.73" font-size="3" text-anchor="middle" font-weight="bold" fill="#e6e6e6" textLength="12.1" lengthAdjust="spacingAndGlyphs">+11.850</text>
<text x="1062.1" y="497.29" font-size="2.9" text-anchor="middle" font-weight="bold" fill="#333">Дв-1</text>
<text x="1062.1" y="494.09" font-size="2.9" text-anchor="middle" font-weight="bold" fill="#333">EI60</text>
<text x="1123.5" y="497.29" font-size="2.9" text-anchor="middle" font-weight="bold" fill="#333">Дв-1</text>
<text x="1123.5" y="494.09" font-size="2.9" text-anchor="middle" font-weight="bold" fill="#333">EI60</text>
<text x="1060.8" y="578.28" font-size="3" text-anchor="middle" font-weight="bold" fill="#444">35</text>
<line x1="1058.6" y1="575.2" x2="1063" y2="575.2" stroke="#555" stroke-width="0.5"/>
<text x="1087" y="578.28" font-size="3" text-anchor="middle" font-weight="bold" fill="#444">35</text>
<line x1="1084.8" y1="575.2" x2="1089.2" y2="575.2" stroke="#555" stroke-width="0.5"/>
<text x="1113.5" y="578.28" font-size="3" text-anchor="middle" font-weight="bold" fill="#444">35</text>
<line x1="1111.3" y1="575.2" x2="1115.7" y2="575.2" stroke="#555" stroke-width="0.5"/>
<text x="1139.3" y="578.28" font-size="3" text-anchor="middle" font-weight="bold" fill="#444">35</text>
<line x1="1137.1" y1="575.2" x2="1141.5" y2="575.2" stroke="#555" stroke-width="0.5"/>
<line x1="1042" y1="549.6" x2="1042" y2="538.6" stroke="#444" stroke-width="0.6"/>
<text x="1042" y="545.69" font-size="2.9" text-anchor="middle" font-weight="bold" fill="#444">⊥</text>
<line x1="1144" y1="549.6" x2="1144" y2="538.6" stroke="#444" stroke-width="0.6"/>
<text x="1144" y="545.69" font-size="2.9" text-anchor="middle" font-weight="bold" fill="#444">⊥</text>
<circle cx="1020.3" cy="531.7" r="3.9" fill="#d0d0d0" stroke="#1e1e1e" stroke-width="1"/>
<text x="1020.3" y="532.92" font-size="3.4" text-anchor="middle" font-weight="bold" fill="#2a2a2a">42</text>
<circle cx="1165.7" cy="531.7" r="3.9" fill="#d0d0d0" stroke="#1e1e1e" stroke-width="1"/>
<text x="1165.7" y="532.92" font-size="3.4" text-anchor="middle" font-weight="bold" fill="#2a2a2a">42</text>
<polygon points="1009.7,541.88 1017.1,541.88 1013.4,535.52" fill="#fff" stroke="#222" stroke-width="0.85" stroke-linejoin="round"/>
<text x="1013.4" y="540.98" font-size="3.4" font-weight="bold" text-anchor="middle" fill="#333">1</text>
<polygon points="1167,541.68 1174.4,541.68 1170.7,535.32" fill="#fff" stroke="#222" stroke-width="0.85" stroke-linejoin="round"/>
<text x="1170.7" y="540.78" font-size="3.4" font-weight="bold" text-anchor="middle" fill="#333">1</text>
<text x="1031.5" y="576.68" font-size="3" text-anchor="middle" font-weight="bold" fill="#444">35</text>
<line x1="1029.3" y1="573.6" x2="1033.7" y2="573.6" stroke="#555" stroke-width="0.5"/>
<text x="1194" y="576.68" font-size="3" text-anchor="middle" font-weight="bold" fill="#444">35</text>
<line x1="1191.8" y1="573.6" x2="1196.2" y2="573.6" stroke="#555" stroke-width="0.5"/>
<rect x="172.2" y="471.3" width="12.2" height="6.7" fill="#111"/>
<ellipse cx="178.3" cy="474.7" rx="3.6" ry="1.8" fill="#ddd" stroke="#333" stroke-width="0.5"/>
<rect x="180.1" y="461.8" width="13.7" height="3.7" fill="#6a6a6a" stroke="#1e1e1e" stroke-width="0.7"/>
<text x="186.95" y="464.73" font-size="3" text-anchor="middle" font-weight="bold" fill="#e6e6e6" textLength="12.1" lengthAdjust="spacingAndGlyphs">+11.850</text>
<line x1="193.4" y1="465.5" x2="193.4" y2="491.7" stroke="#333" stroke-width="0.7"/>
<rect x="188" y="478" width="13.7" height="8.7" fill="#111"/>
<rect x="190.9" y="480.2" width="7.9" height="3.6" fill="#d8d8d8"/>
<line x1="191.5" y1="480.7" x2="194.25" y2="483.3" stroke="#333" stroke-width="0.55"/>
<line x1="191.5" y1="483.3" x2="194.25" y2="480.7" stroke="#333" stroke-width="0.55"/>
<line x1="195.45" y1="480.7" x2="198.2" y2="483.3" stroke="#333" stroke-width="0.55"/>
<line x1="195.45" y1="483.3" x2="198.2" y2="480.7" stroke="#333" stroke-width="0.55"/>
<rect x="203.8" y="473" width="10.4" height="13.7" fill="#fff" stroke="#222" stroke-width="0.8"/>
<text x="205" y="481.5" font-size="2.9" text-anchor="start" font-weight="bold" fill="#333">Дв-4</text>
<text x="205" y="485.2" font-size="2.9" text-anchor="start" font-weight="bold" fill="#333">EI60</text>
<rect x="216.8" y="478" width="25.9" height="8.7" fill="#111"/>
<rect x="219.2" y="480.2" width="21.2" height="3.6" fill="#d8d8d8"/>
<line x1="219.8" y1="480.7" x2="222.84" y2="483.3" stroke="#333" stroke-width="0.55"/>
<line x1="219.8" y1="483.3" x2="222.84" y2="480.7" stroke="#333" stroke-width="0.55"/>
<line x1="224.04" y1="480.7" x2="227.08" y2="483.3" stroke="#333" stroke-width="0.55"/>
<line x1="224.04" y1="483.3" x2="227.08" y2="480.7" stroke="#333" stroke-width="0.55"/>
<line x1="228.28" y1="480.7" x2="231.32" y2="483.3" stroke="#333" stroke-width="0.55"/>
<line x1="228.28" y1="483.3" x2="231.32" y2="480.7" stroke="#333" stroke-width="0.55"/>
<line x1="232.52" y1="480.7" x2="235.56" y2="483.3" stroke="#333" stroke-width="0.55"/>
<line x1="232.52" y1="483.3" x2="235.56" y2="480.7" stroke="#333" stroke-width="0.55"/>
<line x1="236.76" y1="480.7" x2="239.8" y2="483.3" stroke="#333" stroke-width="0.55"/>
<line x1="236.76" y1="483.3" x2="239.8" y2="480.7" stroke="#333" stroke-width="0.55"/>
<text x="221.8" y="473.2" font-size="2.9" text-anchor="start" font-weight="bold" fill="#333" textLength="17" lengthAdjust="spacingAndGlyphs">Вентшахта</text>
<text x="221.8" y="476.6" font-size="2.9" text-anchor="start" font-weight="bold" fill="#333" textLength="16" lengthAdjust="spacingAndGlyphs">ВШ-1 АР</text>
<line x1="221.8" y1="474" x2="239" y2="474" stroke="#444" stroke-width="0.5"/>
<polyline points="243.4,478 243.4,468.4 257.8,468.4" fill="none" stroke="#222" stroke-width="0.7"/>
<text x="244.6" y="467.5" font-size="2.9" text-anchor="start" font-weight="bold" fill="#333" textLength="12.4" lengthAdjust="spacingAndGlyphs">+13.180</text>
<rect x="408" y="478.7" width="53" height="7.9" fill="#111"/>
<rect x="410.6" y="480.2" width="22.4" height="3.6" fill="#d8d8d8"/>
<line x1="411.2" y1="480.7" x2="414.48" y2="483.3" stroke="#333" stroke-width="0.55"/>
<line x1="411.2" y1="483.3" x2="414.48" y2="480.7" stroke="#333" stroke-width="0.55"/>
<line x1="415.68" y1="480.7" x2="418.96" y2="483.3" stroke="#333" stroke-width="0.55"/>
<line x1="415.68" y1="483.3" x2="418.96" y2="480.7" stroke="#333" stroke-width="0.55"/>
<line x1="420.16" y1="480.7" x2="423.44" y2="483.3" stroke="#333" stroke-width="0.55"/>
<line x1="420.16" y1="483.3" x2="423.44" y2="480.7" stroke="#333" stroke-width="0.55"/>
<line x1="424.64" y1="480.7" x2="427.92" y2="483.3" stroke="#333" stroke-width="0.55"/>
<line x1="424.64" y1="483.3" x2="427.92" y2="480.7" stroke="#333" stroke-width="0.55"/>
<line x1="429.12" y1="480.7" x2="432.4" y2="483.3" stroke="#333" stroke-width="0.55"/>
<line x1="429.12" y1="483.3" x2="432.4" y2="480.7" stroke="#333" stroke-width="0.55"/>
<rect x="436.6" y="480.2" width="22" height="3.6" fill="#d8d8d8"/>
<line x1="437.2" y1="480.7" x2="440.4" y2="483.3" stroke="#333" stroke-width="0.55"/>
<line x1="437.2" y1="483.3" x2="440.4" y2="480.7" stroke="#333" stroke-width="0.55"/>
<line x1="441.6" y1="480.7" x2="444.8" y2="483.3" stroke="#333" stroke-width="0.55"/>
<line x1="441.6" y1="483.3" x2="444.8" y2="480.7" stroke="#333" stroke-width="0.55"/>
<line x1="446" y1="480.7" x2="449.2" y2="483.3" stroke="#333" stroke-width="0.55"/>
<line x1="446" y1="483.3" x2="449.2" y2="480.7" stroke="#333" stroke-width="0.55"/>
<line x1="450.4" y1="480.7" x2="453.6" y2="483.3" stroke="#333" stroke-width="0.55"/>
<line x1="450.4" y1="483.3" x2="453.6" y2="480.7" stroke="#333" stroke-width="0.55"/>
<line x1="454.8" y1="480.7" x2="458" y2="483.3" stroke="#333" stroke-width="0.55"/>
<line x1="454.8" y1="483.3" x2="458" y2="480.7" stroke="#333" stroke-width="0.55"/>
<polyline points="464,478.7 464,468.2 477.4,468.2" fill="none" stroke="#222" stroke-width="0.7"/>
<text x="465.2" y="467.3" font-size="2.9" text-anchor="start" font-weight="bold" fill="#333" textLength="11.4" lengthAdjust="spacingAndGlyphs">+13.180</text>
<rect x="610.8" y="471.9" width="11.4" height="5.9" fill="#111"/>
<rect x="612.6" y="473.4" width="7.8" height="3" fill="#d8d8d8"/>
<line x1="613.2" y1="473.9" x2="615.9" y2="475.9" stroke="#333" stroke-width="0.55"/>
<line x1="613.2" y1="475.9" x2="615.9" y2="473.9" stroke="#333" stroke-width="0.55"/>
<line x1="617.1" y1="473.9" x2="619.8" y2="475.9" stroke="#333" stroke-width="0.55"/>
<line x1="617.1" y1="475.9" x2="619.8" y2="473.9" stroke="#333" stroke-width="0.55"/>
<rect x="626.7" y="478.8" width="12.6" height="6.8" fill="#111"/>
<rect x="628.6" y="480.6" width="8.8" height="3.2" fill="#d8d8d8"/>
<line x1="629.2" y1="481.1" x2="632.4" y2="483.3" stroke="#333" stroke-width="0.55"/>
<line x1="629.2" y1="483.3" x2="632.4" y2="481.1" stroke="#333" stroke-width="0.55"/>
<line x1="633.6" y1="481.1" x2="636.8" y2="483.3" stroke="#333" stroke-width="0.55"/>
<line x1="633.6" y1="483.3" x2="636.8" y2="481.1" stroke="#333" stroke-width="0.55"/>
<rect x="670" y="478.8" width="12.6" height="6.8" fill="#111"/>
<rect x="671.8" y="480.6" width="9" height="3.2" fill="#d8d8d8"/>
<line x1="672.4" y1="481.1" x2="675.7" y2="483.3" stroke="#333" stroke-width="0.55"/>
<line x1="672.4" y1="483.3" x2="675.7" y2="481.1" stroke="#333" stroke-width="0.55"/>
<line x1="676.9" y1="481.1" x2="680.2" y2="483.3" stroke="#333" stroke-width="0.55"/>
<line x1="676.9" y1="483.3" x2="680.2" y2="481.1" stroke="#333" stroke-width="0.55"/>
<rect x="686" y="471.9" width="11.4" height="5.9" fill="#111"/>
<rect x="687.8" y="473.4" width="7.8" height="3" fill="#d8d8d8"/>
<line x1="688.4" y1="473.9" x2="691.1" y2="475.9" stroke="#333" stroke-width="0.55"/>
<line x1="688.4" y1="475.9" x2="691.1" y2="473.9" stroke="#333" stroke-width="0.55"/>
<line x1="692.3" y1="473.9" x2="695" y2="475.9" stroke="#333" stroke-width="0.55"/>
<line x1="692.3" y1="475.9" x2="695" y2="473.9" stroke="#333" stroke-width="0.55"/>
<rect x="624.4" y="472.6" width="12.6" height="4.3" fill="#6a6a6a" stroke="#1e1e1e" stroke-width="0.7"/>
<text x="630.7" y="475.83" font-size="3" text-anchor="middle" font-weight="bold" fill="#e6e6e6" textLength="11" lengthAdjust="spacingAndGlyphs">+11.850</text>
<rect x="671.2" y="472.6" width="13.7" height="4.3" fill="#6a6a6a" stroke="#1e1e1e" stroke-width="0.7"/>
<text x="678.05" y="475.83" font-size="3" text-anchor="middle" font-weight="bold" fill="#e6e6e6" textLength="12.1" lengthAdjust="spacingAndGlyphs">+11.850</text>
<rect x="630.1" y="457.8" width="13.7" height="3.9" fill="#6a6a6a" stroke="#1e1e1e" stroke-width="0.7"/>
<text x="636.95" y="460.83" font-size="3" text-anchor="middle" font-weight="bold" fill="#e6e6e6" textLength="12.1" lengthAdjust="spacingAndGlyphs">+11.850</text>
<line x1="644.3" y1="459.8" x2="644.3" y2="490" stroke="#333" stroke-width="0.7"/>
<rect x="666.2" y="459.4" width="13.6" height="4.1" fill="#6a6a6a" stroke="#1e1e1e" stroke-width="0.7"/>
<text x="673" y="462.53" font-size="3" text-anchor="middle" font-weight="bold" fill="#e6e6e6" textLength="12" lengthAdjust="spacingAndGlyphs">+11.850</text>
<line x1="666.4" y1="461.5" x2="666.4" y2="490" stroke="#333" stroke-width="0.7"/>
<polyline points="703.4,478.8 703.4,468.4 716.8,468.4" fill="none" stroke="#222" stroke-width="0.7"/>
<text x="704.6" y="467.5" font-size="2.9" text-anchor="start" font-weight="bold" fill="#333" textLength="11.4" lengthAdjust="spacingAndGlyphs">+13.180</text>
<line x1="632.4" y1="449.6" x2="646" y2="449.6" stroke="#333" stroke-width="0.8"/>
<line x1="646" y1="446.6" x2="646" y2="456" stroke="#333" stroke-width="0.8"/>
<text x="638.5" y="449" font-size="2.9" text-anchor="start" font-weight="bold" fill="#333">1</text>
<rect x="846.7" y="478.3" width="53.8" height="8.3" fill="#111"/>
<rect x="849.4" y="480.2" width="22.2" height="3.6" fill="#d8d8d8"/>
<line x1="850" y1="480.7" x2="853.24" y2="483.3" stroke="#333" stroke-width="0.55"/>
<line x1="850" y1="483.3" x2="853.24" y2="480.7" stroke="#333" stroke-width="0.55"/>
<line x1="854.44" y1="480.7" x2="857.68" y2="483.3" stroke="#333" stroke-width="0.55"/>
<line x1="854.44" y1="483.3" x2="857.68" y2="480.7" stroke="#333" stroke-width="0.55"/>
<line x1="858.88" y1="480.7" x2="862.12" y2="483.3" stroke="#333" stroke-width="0.55"/>
<line x1="858.88" y1="483.3" x2="862.12" y2="480.7" stroke="#333" stroke-width="0.55"/>
<line x1="863.32" y1="480.7" x2="866.56" y2="483.3" stroke="#333" stroke-width="0.55"/>
<line x1="863.32" y1="483.3" x2="866.56" y2="480.7" stroke="#333" stroke-width="0.55"/>
<line x1="867.76" y1="480.7" x2="871" y2="483.3" stroke="#333" stroke-width="0.55"/>
<line x1="867.76" y1="483.3" x2="871" y2="480.7" stroke="#333" stroke-width="0.55"/>
<rect x="875.8" y="480.2" width="22.2" height="3.6" fill="#d8d8d8"/>
<line x1="876.4" y1="480.7" x2="879.64" y2="483.3" stroke="#333" stroke-width="0.55"/>
<line x1="876.4" y1="483.3" x2="879.64" y2="480.7" stroke="#333" stroke-width="0.55"/>
<line x1="880.84" y1="480.7" x2="884.08" y2="483.3" stroke="#333" stroke-width="0.55"/>
<line x1="880.84" y1="483.3" x2="884.08" y2="480.7" stroke="#333" stroke-width="0.55"/>
<line x1="885.28" y1="480.7" x2="888.52" y2="483.3" stroke="#333" stroke-width="0.55"/>
<line x1="885.28" y1="483.3" x2="888.52" y2="480.7" stroke="#333" stroke-width="0.55"/>
<line x1="889.72" y1="480.7" x2="892.96" y2="483.3" stroke="#333" stroke-width="0.55"/>
<line x1="889.72" y1="483.3" x2="892.96" y2="480.7" stroke="#333" stroke-width="0.55"/>
<line x1="894.16" y1="480.7" x2="897.4" y2="483.3" stroke="#333" stroke-width="0.55"/>
<line x1="894.16" y1="483.3" x2="897.4" y2="480.7" stroke="#333" stroke-width="0.55"/>
<polyline points="902.3,478.3 902.3,468.4 915.9,468.4" fill="none" stroke="#222" stroke-width="0.7"/>
<text x="903.5" y="467.5" font-size="2.9" text-anchor="start" font-weight="bold" fill="#333" textLength="11.6" lengthAdjust="spacingAndGlyphs">+13.180</text>
<rect x="1066.7" y="478.6" width="25.1" height="7.4" fill="#111"/>
<rect x="1069.2" y="480.4" width="20.4" height="3.6" fill="#d8d8d8"/>
<line x1="1069.8" y1="480.9" x2="1072.68" y2="483.5" stroke="#333" stroke-width="0.55"/>
<line x1="1069.8" y1="483.5" x2="1072.68" y2="480.9" stroke="#333" stroke-width="0.55"/>
<line x1="1073.88" y1="480.9" x2="1076.76" y2="483.5" stroke="#333" stroke-width="0.55"/>
<line x1="1073.88" y1="483.5" x2="1076.76" y2="480.9" stroke="#333" stroke-width="0.55"/>
<line x1="1077.96" y1="480.9" x2="1080.84" y2="483.5" stroke="#333" stroke-width="0.55"/>
<line x1="1077.96" y1="483.5" x2="1080.84" y2="480.9" stroke="#333" stroke-width="0.55"/>
<line x1="1082.04" y1="480.9" x2="1084.92" y2="483.5" stroke="#333" stroke-width="0.55"/>
<line x1="1082.04" y1="483.5" x2="1084.92" y2="480.9" stroke="#333" stroke-width="0.55"/>
<line x1="1086.12" y1="480.9" x2="1089" y2="483.5" stroke="#333" stroke-width="0.55"/>
<line x1="1086.12" y1="483.5" x2="1089" y2="480.9" stroke="#333" stroke-width="0.55"/>
<rect x="1107.8" y="478.6" width="10.2" height="7.4" fill="#111"/>
<rect x="1109.4" y="480.4" width="7" height="3.6" fill="#d8d8d8"/>
<line x1="1110" y1="480.9" x2="1112.3" y2="483.5" stroke="#333" stroke-width="0.55"/>
<line x1="1110" y1="483.5" x2="1112.3" y2="480.9" stroke="#333" stroke-width="0.55"/>
<line x1="1113.5" y1="480.9" x2="1115.8" y2="483.5" stroke="#333" stroke-width="0.55"/>
<line x1="1113.5" y1="483.5" x2="1115.8" y2="480.9" stroke="#333" stroke-width="0.55"/>
<rect x="1124.9" y="471.9" width="11.8" height="6.9" fill="#111"/>
<ellipse cx="1130.8" cy="475.3" rx="3.6" ry="1.8" fill="#ddd" stroke="#333" stroke-width="0.5"/>
<rect x="1104.3" y="453.7" width="12.6" height="4.1" fill="#6a6a6a" stroke="#1e1e1e" stroke-width="0.7"/>
<text x="1110.6" y="456.83" font-size="3" text-anchor="middle" font-weight="bold" fill="#e6e6e6" textLength="11" lengthAdjust="spacingAndGlyphs">+11.850</text>
<line x1="1104.8" y1="457.8" x2="1104.8" y2="490" stroke="#333" stroke-width="0.7"/>
<rect x="1111.2" y="461.7" width="12.6" height="3.8" fill="#6a6a6a" stroke="#1e1e1e" stroke-width="0.7"/>
<text x="1117.5" y="464.68" font-size="3" text-anchor="middle" font-weight="bold" fill="#e6e6e6" textLength="11" lengthAdjust="spacingAndGlyphs">+11.850</text>
<line x1="1111.4" y1="465.5" x2="1111.4" y2="478.6" stroke="#333" stroke-width="0.7"/>
<text x="1095.5" y="481.5" font-size="2.9" text-anchor="start" font-weight="bold" fill="#333">Дв-Р</text>
<polyline points="1143.8,478.6 1143.8,468.4 1157,468.4" fill="none" stroke="#222" stroke-width="0.7"/>
<text x="1145" y="467.5" font-size="2.9" text-anchor="start" font-weight="bold" fill="#333" textLength="11.2" lengthAdjust="spacingAndGlyphs">+13.180</text>
<text x="293.7" y="463.2" font-size="2.9" text-anchor="start" font-weight="bold" fill="#333" textLength="23" lengthAdjust="spacingAndGlyphs">Вентшахта ВШ-1</text>
<line x1="293.7" y1="463.8" x2="316.7" y2="463.8" stroke="#333" stroke-width="0.6"/>
<text x="305.2" y="467" font-size="2.9" text-anchor="start" font-weight="bold" fill="#333" textLength="11" lengthAdjust="spacingAndGlyphs">см. АР-3</text>
<line x1="316.7" y1="464.2" x2="323.9" y2="478" stroke="#222" stroke-width="0.7"/>
<text x="952.8" y="463" font-size="2.9" text-anchor="start" font-weight="bold" fill="#333" textLength="22.8" lengthAdjust="spacingAndGlyphs">Вентшахта ВШ-1</text>
<line x1="952.8" y1="463.6" x2="975.6" y2="463.6" stroke="#333" stroke-width="0.6"/>
<text x="964.1" y="466.8" font-size="2.9" text-anchor="start" font-weight="bold" fill="#333" textLength="11" lengthAdjust="spacingAndGlyphs">см. АР-3</text>
<line x1="975.6" y1="464" x2="982.8" y2="478.3" stroke="#222" stroke-width="0.7"/>
</g>
</svg>
</body></html>
